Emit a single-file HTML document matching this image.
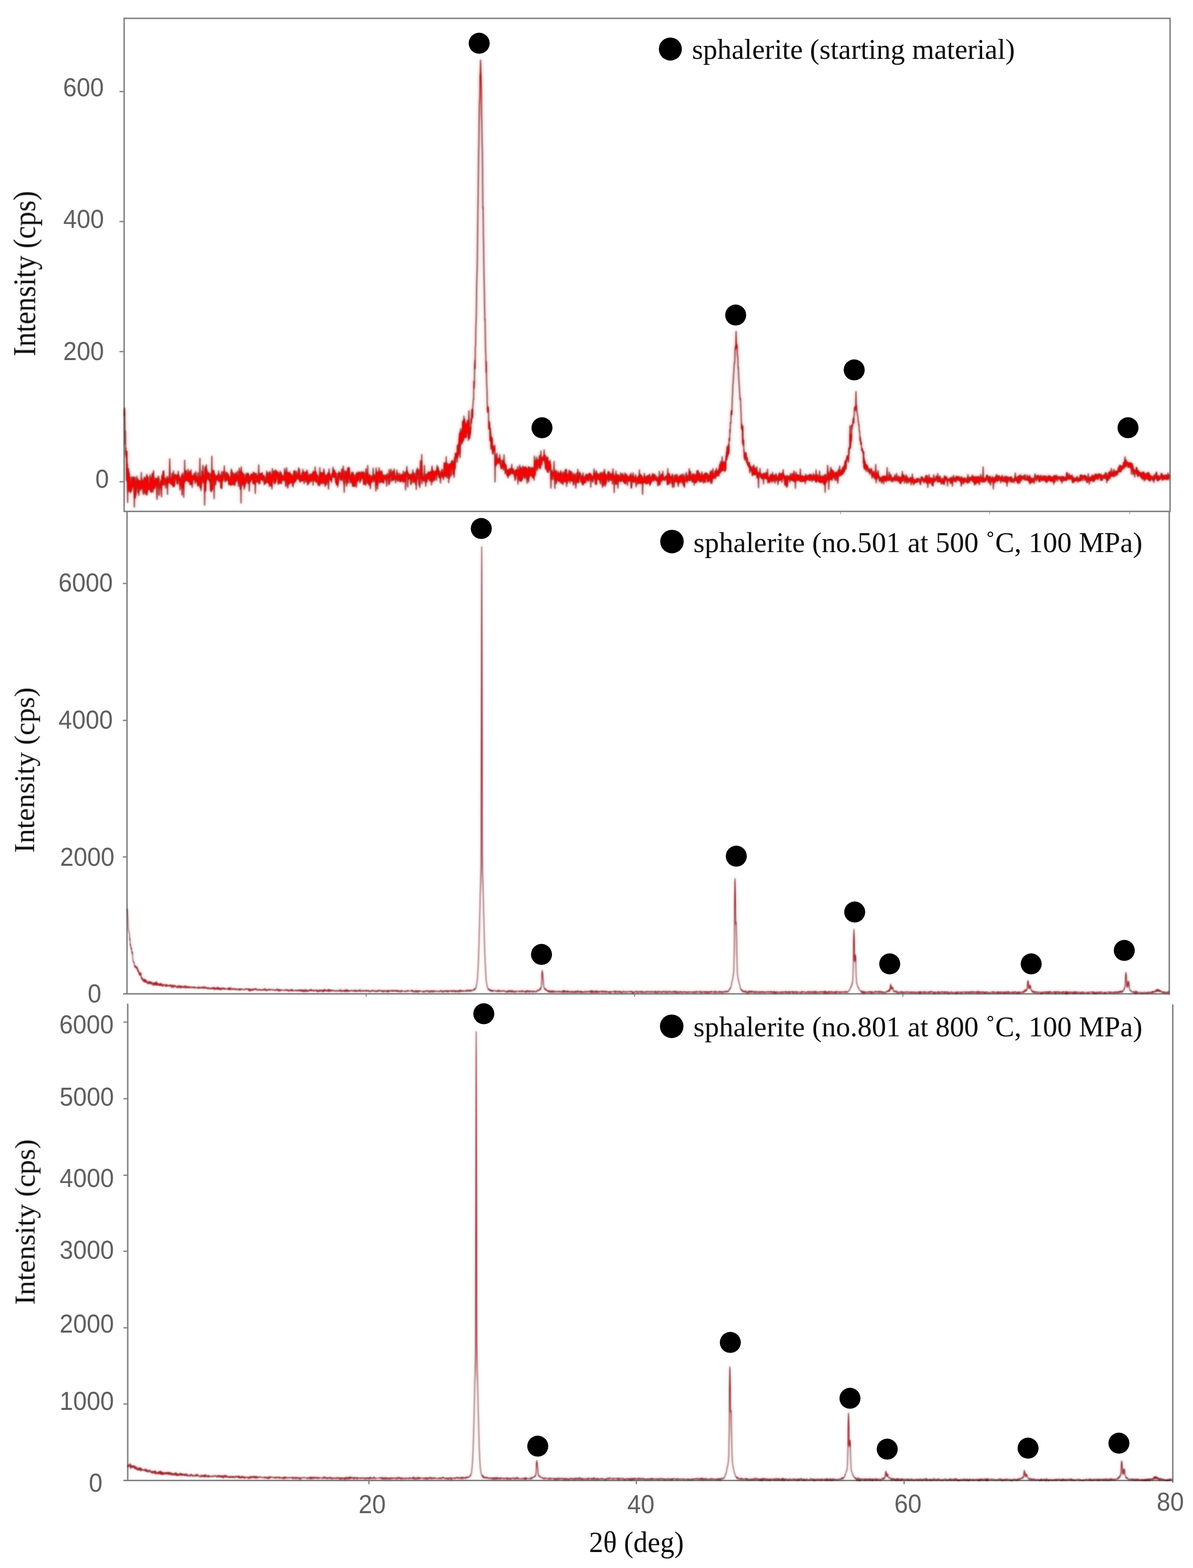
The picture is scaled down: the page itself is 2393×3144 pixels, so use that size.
<!DOCTYPE html>
<html lang="en">
<head>
<meta charset="utf-8">
<title>XRD patterns of sphalerite</title>
<style>
html,body{margin:0;padding:0;background:#fff;}
body{width:2393px;height:3144px;}
svg{display:block;}
</style>
</head>
<body>
<svg width="2393" height="3144" viewBox="0 0 2393 3144">
<defs><filter id="tr1" filterUnits="userSpaceOnUse" x="240" y="30" width="2120" height="1000" color-interpolation-filters="sRGB"><feGaussianBlur in="SourceAlpha" stdDeviation="1.0" result="la"/><feColorMatrix in="la" type="matrix" values="0 0 0 0 0.361  0 0 0 0 0.227  0 0 0 0 0.243  0 0 0 1 0" result="l"/><feGaussianBlur in="SourceAlpha" stdDeviation="2.2" result="ca"/><feColorMatrix in="ca" type="matrix" values="0 0 0 0 0.980  0 0 0 0 0.000  0 0 0 0 0.000  0 0 0 1.55 -0.5" result="c"/><feGaussianBlur in="SourceAlpha" stdDeviation="3.5200000000000005" result="ha"/><feColorMatrix in="ha" type="matrix" values="0 0 0 0 1.000  0 0 0 0 0.157  0 0 0 0 0.157  0 0 0 0.7 0" result="h"/><feMerge><feMergeNode in="h"/><feMergeNode in="l"/><feMergeNode in="c"/></feMerge></filter><filter id="tr2" filterUnits="userSpaceOnUse" x="245" y="1020" width="2110" height="980" color-interpolation-filters="sRGB"><feGaussianBlur in="SourceAlpha" stdDeviation="1.1" result="la"/><feColorMatrix in="la" type="matrix" values="0 0 0 0 0.424  0 0 0 0 0.306  0 0 0 0 0.322  0 0 0 1 0" result="l"/><feGaussianBlur in="SourceAlpha" stdDeviation="2.0" result="ca"/><feColorMatrix in="ca" type="matrix" values="0 0 0 0 0.725  0 0 0 0 0.110  0 0 0 0 0.149  0 0 0 2.0 -0.5" result="c"/><feGaussianBlur in="SourceAlpha" stdDeviation="3.2" result="ha"/><feColorMatrix in="ha" type="matrix" values="0 0 0 0 1.000  0 0 0 0 0.196  0 0 0 0 0.235  0 0 0 0.4 0" result="h"/><feMerge><feMergeNode in="h"/><feMergeNode in="l"/><feMergeNode in="c"/></feMerge></filter><filter id="tr3" filterUnits="userSpaceOnUse" x="245" y="2010" width="2115" height="965" color-interpolation-filters="sRGB"><feGaussianBlur in="SourceAlpha" stdDeviation="1.1" result="la"/><feColorMatrix in="la" type="matrix" values="0 0 0 0 0.424  0 0 0 0 0.306  0 0 0 0 0.322  0 0 0 1 0" result="l"/><feGaussianBlur in="SourceAlpha" stdDeviation="2.0" result="ca"/><feColorMatrix in="ca" type="matrix" values="0 0 0 0 0.698  0 0 0 0 0.110  0 0 0 0 0.149  0 0 0 2.0 -0.5" result="c"/><feGaussianBlur in="SourceAlpha" stdDeviation="3.2" result="ha"/><feColorMatrix in="ha" type="matrix" values="0 0 0 0 1.000  0 0 0 0 0.196  0 0 0 0 0.235  0 0 0 0.4 0" result="h"/><feMerge><feMergeNode in="h"/><feMergeNode in="l"/><feMergeNode in="c"/></feMerge></filter><filter id="bt" x="-5%" y="-5%" width="110%" height="110%"><feGaussianBlur stdDeviation="0.6"/></filter></defs>
<rect width="2393" height="3144" fill="#fff"/>
<g fill="none" stroke="#838383" stroke-width="3.0" filter="url(#bt)">
<rect x="249" y="36.8" width="2098" height="988.6"/>
<path d="M254.8,1025 V1992.7 M246.8,1992.7 H2345.4 M2345.4,1025 V1995"/>
<path d="M256.2,2012.6 V2968.6 M247.6,2968.6 H2352.4 M2352.4,2014 V2973"/>
</g>
<g stroke="#838383" stroke-width="2.6" filter="url(#bt)">
<path d="M239.5,183.6 H249"/>
<path d="M239.5,444.2 H249"/>
<path d="M239.5,705.0 H249"/>
<path d="M239.5,966.0 H249"/>
<path d="M246.3,1170.0 H254.8"/>
<path d="M246.3,1444.5 H254.8"/>
<path d="M246.3,1718.2 H254.8"/>
<path d="M247.6,2049.4 H256.2"/>
<path d="M247.6,2203.0 H256.2"/>
<path d="M247.6,2356.5 H256.2"/>
<path d="M247.6,2508.8 H256.2"/>
<path d="M247.6,2662.4 H256.2"/>
<path d="M247.6,2815.2 H256.2"/>
<path d="M734.6,1992.7 V1998.5" stroke-width="2"/>
<path d="M1272.9,1992.7 V1998.5" stroke-width="2"/>
<path d="M1811.0,1992.7 V1998.5" stroke-width="2"/>
<path d="M1686.0,1026.5 V1031" stroke-width="2" stroke="#b4b4b4"/>
<path d="M1985.0,1026.5 V1031" stroke-width="2" stroke="#b4b4b4"/>
<path d="M2266.0,1026.5 V1031" stroke-width="2" stroke="#b4b4b4"/>
<path d="M740.0,2968.6 V2976"/>
<path d="M1276.5,2968.6 V2976"/>
<path d="M1813.5,2968.6 V2976"/>
</g>
<path d="M249.5,833.6 250.0,818.5 250.5,837.6 251.0,890.9 251.5,864.0 252.0,911.7 252.5,897.2 253.0,917.6 253.5,908.4 254.0,963.8 254.5,904.7 255.0,939.8 255.5,929.9 256.0,1007.6 256.5,954.4 257.0,943.1 257.5,939.8 258.0,958.0 258.5,984.9 259.0,948.1 259.5,971.8 260.0,981.0 260.5,956.6 261.0,971.3 261.5,988.1 262.0,974.7 262.5,970.9 263.0,980.7 263.5,985.0 264.0,966.1 264.5,955.7 265.0,970.3 265.5,977.1 266.0,963.3 266.5,959.4 267.0,972.5 267.5,962.2 268.0,956.3 268.5,972.0 269.0,979.7 269.5,1016.7 270.0,967.1 270.5,956.8 271.0,986.2 271.5,998.4 272.0,981.0 272.5,992.1 273.0,969.6 273.5,964.9 274.0,980.3 274.5,954.8 275.0,961.8 275.5,964.3 276.0,967.1 276.5,960.6 277.0,988.0 277.5,964.9 278.0,965.2 278.5,993.4 279.0,968.4 279.5,975.6 280.0,963.5 280.5,978.0 281.0,973.1 281.5,968.9 282.0,983.2 282.5,966.1 283.0,974.4 283.5,947.1 284.0,979.3 284.5,960.7 285.0,966.4 285.5,975.4 286.0,966.2 286.5,975.4 287.0,988.6 287.5,991.5 288.0,963.4 288.5,968.2 289.0,974.6 289.5,956.5 290.0,959.3 290.5,987.8 291.0,967.1 291.5,958.9 292.0,991.4 292.5,976.8 293.0,988.1 293.5,970.7 294.0,956.5 294.5,950.8 295.0,993.0 295.5,979.6 296.0,965.4 296.5,955.7 297.0,968.4 297.5,981.2 298.0,969.6 298.5,973.0 299.0,975.0 299.5,980.7 300.0,968.4 300.5,969.1 301.0,952.3 301.5,974.7 302.0,986.1 302.5,977.4 303.0,959.0 303.5,973.9 304.0,987.3 304.5,957.3 305.0,965.9 305.5,948.9 306.0,970.6 306.5,976.1 307.0,986.5 307.5,956.8 308.0,943.5 308.5,979.4 309.0,977.4 309.5,964.1 310.0,979.0 310.5,972.9 311.0,973.6 311.5,967.8 312.0,958.2 312.5,969.3 313.0,959.8 313.5,973.6 314.0,965.7 314.5,991.2 315.0,1001.4 315.5,960.4 316.0,974.6 316.5,962.3 317.0,962.6 317.5,954.4 318.0,959.5 318.5,957.3 319.0,993.5 319.5,974.6 320.0,974.8 320.5,972.1 321.0,978.5 321.5,972.4 322.0,967.6 322.5,964.0 323.0,969.8 323.5,985.8 324.0,996.1 324.5,963.7 325.0,952.9 325.5,959.9 326.0,972.0 326.5,970.8 327.0,945.1 327.5,957.6 328.0,946.7 328.5,943.6 329.0,972.9 329.5,960.8 330.0,960.0 330.5,958.8 331.0,958.9 331.5,962.2 332.0,962.3 332.5,978.8 333.0,965.5 333.5,971.1 334.0,962.4 334.5,968.1 335.0,957.3 335.5,955.2 336.0,991.2 336.5,960.0 337.0,962.1 337.5,967.3 338.0,964.4 338.5,967.5 339.0,958.8 339.5,962.4 340.0,943.7 340.5,919.9 341.0,953.7 341.5,969.6 342.0,969.2 342.5,964.0 343.0,967.4 343.5,959.1 344.0,967.4 344.5,972.1 345.0,969.8 345.5,949.0 346.0,961.2 346.5,972.7 347.0,967.4 347.5,976.3 348.0,944.3 348.5,975.8 349.0,956.7 349.5,956.0 350.0,974.9 350.5,958.2 351.0,951.6 351.5,956.6 352.0,958.5 352.5,951.9 353.0,959.4 353.5,957.7 354.0,962.0 354.5,954.8 355.0,969.6 355.5,953.2 356.0,965.4 356.5,970.9 357.0,957.2 357.5,944.7 358.0,951.5 358.5,961.4 359.0,954.0 359.5,964.7 360.0,961.6 360.5,959.6 361.0,982.0 361.5,958.6 362.0,969.9 362.5,966.8 363.0,974.0 363.5,974.3 364.0,969.0 364.5,952.6 365.0,992.3 365.5,960.4 366.0,950.1 366.5,949.0 367.0,977.9 367.5,958.7 368.0,956.0 368.5,997.3 369.0,957.3 369.5,954.7 370.0,968.1 370.5,922.8 371.0,962.1 371.5,962.0 372.0,963.3 372.5,950.8 373.0,943.9 373.5,963.9 374.0,953.5 374.5,951.2 375.0,953.3 375.5,950.2 376.0,963.6 376.5,953.0 377.0,941.0 377.5,952.4 378.0,965.7 378.5,954.2 379.0,948.1 379.5,956.5 380.0,965.1 380.5,945.5 381.0,971.5 381.5,955.2 382.0,960.0 382.5,970.9 383.0,941.9 383.5,956.6 384.0,970.6 384.5,954.3 385.0,963.8 385.5,977.4 386.0,966.2 386.5,957.4 387.0,953.9 387.5,958.3 388.0,959.4 388.5,955.5 389.0,961.7 389.5,948.9 390.0,958.4 390.5,957.1 391.0,954.8 391.5,969.5 392.0,966.3 392.5,945.7 393.0,956.7 393.5,962.3 394.0,956.6 394.5,964.1 395.0,957.2 395.5,965.8 396.0,957.2 396.5,974.1 397.0,947.6 397.5,964.4 398.0,974.1 398.5,961.7 399.0,963.1 399.5,958.3 400.0,970.1 400.5,956.1 401.0,919.0 401.5,977.9 402.0,956.6 402.5,962.5 403.0,983.7 403.5,976.1 404.0,970.1 404.5,955.5 405.0,960.0 405.5,944.9 406.0,944.6 406.5,958.1 407.0,933.3 407.5,966.5 408.0,967.8 408.5,959.9 409.0,960.0 409.5,952.0 410.0,958.4 410.5,1012.9 411.0,957.7 411.5,935.9 412.0,948.2 412.5,984.5 413.0,960.9 413.5,967.4 414.0,931.8 414.5,961.1 415.0,942.3 415.5,951.2 416.0,951.6 416.5,957.9 417.0,959.9 417.5,956.5 418.0,948.0 418.5,954.8 419.0,962.7 419.5,948.2 420.0,962.2 420.5,960.2 421.0,966.6 421.5,964.5 422.0,965.2 422.5,984.3 423.0,950.5 423.5,954.5 424.0,986.1 424.5,975.1 425.0,914.6 425.5,956.2 426.0,981.4 426.5,961.5 427.0,954.8 427.5,945.2 428.0,943.2 428.5,946.8 429.0,943.7 429.5,999.9 430.0,954.4 430.5,958.1 431.0,950.9 431.5,960.5 432.0,957.5 432.5,972.6 433.0,955.5 433.5,963.3 434.0,956.3 434.5,955.4 435.0,960.4 435.5,956.6 436.0,959.5 436.5,952.7 437.0,955.0 437.5,964.2 438.0,964.5 438.5,944.1 439.0,960.3 439.5,950.7 440.0,955.9 440.5,964.3 441.0,965.9 441.5,958.3 442.0,957.1 442.5,954.0 443.0,978.7 443.5,964.5 444.0,960.2 444.5,945.4 445.0,979.9 445.5,955.5 446.0,964.0 446.5,955.5 447.0,963.6 447.5,956.1 448.0,945.7 448.5,956.2 449.0,955.5 449.5,956.0 450.0,934.0 450.5,954.6 451.0,961.1 451.5,966.3 452.0,959.6 452.5,961.2 453.0,952.7 453.5,948.4 454.0,963.8 454.5,946.6 455.0,950.7 455.5,948.2 456.0,954.0 456.5,960.2 457.0,962.8 457.5,961.6 458.0,951.0 458.5,958.2 459.0,972.0 459.5,959.5 460.0,971.4 460.5,957.8 461.0,969.6 461.5,970.1 462.0,958.2 462.5,959.9 463.0,973.5 463.5,952.7 464.0,940.5 464.5,971.9 465.0,943.5 465.5,965.1 466.0,963.4 466.5,960.7 467.0,971.6 467.5,948.0 468.0,954.9 468.5,965.6 469.0,961.5 469.5,972.1 470.0,962.1 470.5,951.1 471.0,973.8 471.5,962.8 472.0,957.8 472.5,950.1 473.0,947.5 473.5,963.0 474.0,965.4 474.5,955.2 475.0,962.2 475.5,961.7 476.0,955.2 476.5,944.6 477.0,956.8 477.5,960.7 478.0,958.3 478.5,975.2 479.0,959.2 479.5,968.1 480.0,938.6 480.5,952.9 481.0,957.8 481.5,960.7 482.0,980.5 482.5,952.9 483.0,945.1 483.5,1008.7 484.0,936.1 484.5,952.8 485.0,972.2 485.5,951.0 486.0,947.4 486.5,957.0 487.0,959.5 487.5,952.3 488.0,972.1 488.5,958.2 489.0,950.0 489.5,969.5 490.0,981.0 490.5,962.5 491.0,976.6 491.5,959.8 492.0,967.2 492.5,956.2 493.0,968.9 493.5,950.0 494.0,965.2 494.5,955.9 495.0,963.9 495.5,961.6 496.0,948.8 496.5,957.1 497.0,962.2 497.5,969.5 498.0,949.0 498.5,952.7 499.0,961.6 499.5,956.8 500.0,984.7 500.5,967.4 501.0,965.8 501.5,955.9 502.0,956.3 502.5,965.1 503.0,952.6 503.5,952.2 504.0,957.4 504.5,950.0 505.0,961.2 505.5,959.8 506.0,954.8 506.5,959.1 507.0,952.1 507.5,969.4 508.0,946.8 508.5,965.4 509.0,960.2 509.5,970.4 510.0,953.7 510.5,948.0 511.0,949.7 511.5,951.7 512.0,989.5 512.5,965.3 513.0,965.4 513.5,966.6 514.0,949.3 514.5,957.2 515.0,958.9 515.5,954.6 516.0,956.9 516.5,966.4 517.0,966.1 517.5,954.5 518.0,955.8 518.5,953.8 519.0,932.3 519.5,970.1 520.0,963.4 520.5,957.4 521.0,970.0 521.5,963.1 522.0,950.2 522.5,949.4 523.0,949.6 523.5,958.3 524.0,960.4 524.5,949.6 525.0,961.8 525.5,955.8 526.0,947.5 526.5,961.7 527.0,963.7 527.5,958.7 528.0,953.6 528.5,954.6 529.0,957.3 529.5,953.9 530.0,972.0 530.5,965.8 531.0,957.2 531.5,966.4 532.0,969.8 532.5,968.7 533.0,966.3 533.5,960.1 534.0,967.1 534.5,956.6 535.0,944.4 535.5,959.8 536.0,947.9 536.5,956.1 537.0,967.9 537.5,960.7 538.0,966.7 538.5,952.1 539.0,968.2 539.5,947.5 540.0,953.7 540.5,975.4 541.0,951.9 541.5,945.5 542.0,965.1 542.5,950.3 543.0,973.5 543.5,956.4 544.0,972.3 544.5,954.4 545.0,973.4 545.5,980.4 546.0,955.2 546.5,939.4 547.0,963.4 547.5,951.5 548.0,957.5 548.5,961.1 549.0,953.3 549.5,944.7 550.0,968.7 550.5,953.7 551.0,955.5 551.5,970.3 552.0,945.0 552.5,942.2 553.0,966.3 553.5,943.9 554.0,957.9 554.5,959.7 555.0,945.9 555.5,956.5 556.0,955.7 556.5,945.7 557.0,947.6 557.5,950.9 558.0,970.0 558.5,971.4 559.0,949.0 559.5,966.0 560.0,957.1 560.5,967.3 561.0,959.8 561.5,968.9 562.0,944.8 562.5,966.8 563.0,959.3 563.5,959.9 564.0,948.3 564.5,970.1 565.0,958.6 565.5,960.0 566.0,953.9 566.5,954.3 567.0,962.1 567.5,956.3 568.0,961.4 568.5,954.6 569.0,959.1 569.5,963.7 570.0,958.5 570.5,955.2 571.0,939.4 571.5,962.3 572.0,955.7 572.5,946.1 573.0,975.4 573.5,972.7 574.0,968.1 574.5,959.1 575.0,938.0 575.5,954.9 576.0,948.2 576.5,960.0 577.0,978.6 577.5,977.3 578.0,948.3 578.5,956.6 579.0,968.9 579.5,948.9 580.0,970.9 580.5,948.7 581.0,946.1 581.5,964.5 582.0,967.3 582.5,951.1 583.0,967.2 583.5,951.0 584.0,968.0 584.5,951.4 585.0,957.3 585.5,961.7 586.0,965.5 586.5,956.1 587.0,973.7 587.5,960.4 588.0,976.4 588.5,952.4 589.0,968.4 589.5,943.9 590.0,960.6 590.5,967.5 591.0,946.6 591.5,944.3 592.0,959.6 592.5,965.4 593.0,957.9 593.5,963.7 594.0,960.6 594.5,945.1 595.0,954.8 595.5,956.8 596.0,955.1 596.5,958.5 597.0,951.0 597.5,950.7 598.0,961.0 598.5,957.1 599.0,938.0 599.5,954.5 600.0,959.5 600.5,941.0 601.0,957.9 601.5,967.0 602.0,952.4 602.5,965.4 603.0,962.1 603.5,955.3 604.0,959.0 604.5,964.2 605.0,962.5 605.5,962.8 606.0,948.3 606.5,963.9 607.0,962.7 607.5,941.1 608.0,962.5 608.5,945.7 609.0,947.1 609.5,959.2 610.0,969.7 610.5,954.2 611.0,952.4 611.5,950.0 612.0,957.4 612.5,948.0 613.0,946.5 613.5,966.6 614.0,946.2 614.5,956.5 615.0,962.6 615.5,960.6 616.0,942.5 616.5,949.8 617.0,972.7 617.5,957.3 618.0,959.1 618.5,959.4 619.0,962.2 619.5,970.0 620.0,950.8 620.5,965.7 621.0,961.0 621.5,962.9 622.0,963.9 622.5,951.8 623.0,954.8 623.5,963.5 624.0,965.7 624.5,961.8 625.0,950.0 625.5,956.9 626.0,956.0 626.5,960.7 627.0,960.1 627.5,948.5 628.0,973.1 628.5,944.7 629.0,964.4 629.5,962.6 630.0,946.9 630.5,956.1 631.0,957.6 631.5,962.7 632.0,936.2 632.5,956.4 633.0,953.6 633.5,965.4 634.0,946.7 634.5,967.2 635.0,964.0 635.5,953.8 636.0,957.9 636.5,952.3 637.0,964.0 637.5,966.4 638.0,973.3 638.5,967.8 639.0,966.8 639.5,969.7 640.0,955.4 640.5,963.4 641.0,974.3 641.5,937.5 642.0,964.8 642.5,968.3 643.0,947.7 643.5,948.4 644.0,967.4 644.5,970.1 645.0,966.2 645.5,948.6 646.0,960.5 646.5,964.6 647.0,958.2 647.5,948.0 648.0,969.4 648.5,961.1 649.0,969.3 649.5,940.1 650.0,943.0 650.5,950.1 651.0,959.0 651.5,952.5 652.0,975.2 652.5,955.7 653.0,968.9 653.5,968.8 654.0,963.7 654.5,971.9 655.0,953.2 655.5,952.2 656.0,955.8 656.5,965.7 657.0,952.4 657.5,958.9 658.0,948.2 658.5,965.5 659.0,980.6 659.5,961.8 660.0,940.2 660.5,954.1 661.0,959.5 661.5,950.7 662.0,953.8 662.5,954.1 663.0,962.1 663.5,957.3 664.0,956.3 664.5,963.2 665.0,967.1 665.5,956.8 666.0,950.0 666.5,952.6 667.0,953.8 667.5,953.8 668.0,936.7 668.5,955.8 669.0,949.3 669.5,941.8 670.0,957.5 670.5,955.7 671.0,949.3 671.5,944.0 672.0,955.3 672.5,954.9 673.0,957.1 673.5,967.8 674.0,948.7 674.5,960.0 675.0,972.0 675.5,959.1 676.0,972.1 676.5,966.1 677.0,957.7 677.5,976.6 678.0,949.1 678.5,969.9 679.0,955.7 679.5,953.2 680.0,945.8 680.5,950.2 681.0,955.9 681.5,957.1 682.0,958.3 682.5,948.4 683.0,963.2 683.5,953.5 684.0,958.6 684.5,955.8 685.0,959.9 685.5,940.2 686.0,963.2 686.5,955.7 687.0,955.5 687.5,951.3 688.0,954.1 688.5,934.3 689.0,949.7 689.5,970.1 690.0,957.7 690.5,987.2 691.0,955.8 691.5,967.5 692.0,944.0 692.5,958.2 693.0,946.3 693.5,953.0 694.0,955.3 694.5,946.2 695.0,965.5 695.5,974.9 696.0,961.2 696.5,960.0 697.0,947.6 697.5,939.0 698.0,968.6 698.5,937.3 699.0,944.8 699.5,950.8 700.0,954.7 700.5,937.8 701.0,957.0 701.5,961.6 702.0,956.5 702.5,968.9 703.0,953.8 703.5,958.6 704.0,955.0 704.5,954.7 705.0,966.4 705.5,946.9 706.0,966.0 706.5,950.4 707.0,970.8 707.5,975.0 708.0,946.7 708.5,957.3 709.0,963.0 709.5,975.6 710.0,966.8 710.5,957.1 711.0,952.5 711.5,969.7 712.0,974.8 712.5,964.8 713.0,959.4 713.5,962.8 714.0,964.3 714.5,950.6 715.0,976.9 715.5,951.5 716.0,947.3 716.5,957.0 717.0,959.2 717.5,965.0 718.0,950.3 718.5,956.9 719.0,961.6 719.5,945.9 720.0,951.3 720.5,950.5 721.0,947.7 721.5,951.7 722.0,968.0 722.5,960.8 723.0,949.3 723.5,963.9 724.0,957.3 724.5,954.3 725.0,945.7 725.5,946.9 726.0,950.2 726.5,959.1 727.0,950.0 727.5,953.2 728.0,958.9 728.5,946.4 729.0,953.5 729.5,971.9 730.0,947.1 730.5,951.2 731.0,952.6 731.5,970.1 732.0,957.7 732.5,965.3 733.0,965.5 733.5,973.3 734.0,939.9 734.5,958.8 735.0,955.6 735.5,948.4 736.0,958.5 736.5,953.3 737.0,968.7 737.5,933.2 738.0,960.9 738.5,953.4 739.0,956.0 739.5,968.9 740.0,972.8 740.5,965.9 741.0,951.4 741.5,954.0 742.0,954.2 742.5,974.1 743.0,979.7 743.5,962.6 744.0,960.2 744.5,962.5 745.0,954.5 745.5,958.9 746.0,967.3 746.5,964.7 747.0,956.3 747.5,956.9 748.0,958.1 748.5,938.7 749.0,960.7 749.5,956.5 750.0,965.7 750.5,960.4 751.0,953.1 751.5,952.8 752.0,958.7 752.5,954.2 753.0,957.0 753.5,973.0 754.0,984.5 754.5,938.3 755.0,950.6 755.5,957.9 756.0,971.8 756.5,968.0 757.0,946.2 757.5,980.4 758.0,960.1 758.5,950.2 759.0,956.2 759.5,951.1 760.0,958.5 760.5,937.6 761.0,965.9 761.5,968.6 762.0,955.1 762.5,945.5 763.0,957.8 763.5,948.6 764.0,961.7 764.5,967.1 765.0,945.7 765.5,944.3 766.0,944.6 766.5,960.9 767.0,966.8 767.5,967.0 768.0,959.1 768.5,952.4 769.0,953.0 769.5,969.1 770.0,955.6 770.5,957.1 771.0,956.5 771.5,957.4 772.0,958.9 772.5,952.3 773.0,956.1 773.5,955.3 774.0,962.9 774.5,953.9 775.0,958.2 775.5,974.7 776.0,953.1 776.5,959.3 777.0,949.4 777.5,958.5 778.0,957.9 778.5,955.3 779.0,957.2 779.5,960.8 780.0,972.0 780.5,941.7 781.0,970.2 781.5,965.3 782.0,951.6 782.5,953.9 783.0,952.3 783.5,950.6 784.0,940.8 784.5,954.5 785.0,947.1 785.5,965.4 786.0,955.1 786.5,960.0 787.0,961.5 787.5,954.5 788.0,944.8 788.5,962.8 789.0,962.8 789.5,950.8 790.0,952.3 790.5,940.5 791.0,948.3 791.5,954.9 792.0,960.7 792.5,955.0 793.0,958.3 793.5,968.2 794.0,956.7 794.5,958.2 795.0,958.7 795.5,960.3 796.0,942.6 796.5,950.9 797.0,948.9 797.5,961.8 798.0,965.2 798.5,959.0 799.0,954.6 799.5,959.5 800.0,958.2 800.5,948.6 801.0,954.1 801.5,964.8 802.0,960.2 802.5,962.1 803.0,955.0 803.5,966.3 804.0,958.0 804.5,950.7 805.0,956.3 805.5,964.1 806.0,961.6 806.5,955.4 807.0,952.4 807.5,957.1 808.0,957.6 808.5,967.5 809.0,944.4 809.5,953.9 810.0,952.9 810.5,953.8 811.0,965.0 811.5,959.0 812.0,954.1 812.5,947.4 813.0,955.7 813.5,982.5 814.0,958.2 814.5,953.2 815.0,945.3 815.5,950.2 816.0,935.2 816.5,944.1 817.0,944.7 817.5,948.1 818.0,976.5 818.5,948.9 819.0,951.0 819.5,960.5 820.0,951.0 820.5,952.4 821.0,959.9 821.5,957.0 822.0,958.1 822.5,953.9 823.0,959.5 823.5,951.2 824.0,972.1 824.5,958.2 825.0,970.1 825.5,959.8 826.0,951.4 826.5,955.5 827.0,956.6 827.5,955.1 828.0,942.3 828.5,965.0 829.0,948.1 829.5,968.4 830.0,959.5 830.5,954.1 831.0,962.7 831.5,953.7 832.0,949.2 832.5,965.6 833.0,956.0 833.5,958.6 834.0,971.9 834.5,956.9 835.0,981.5 835.5,943.8 836.0,962.7 836.5,940.7 837.0,959.7 837.5,938.6 838.0,950.5 838.5,951.2 839.0,948.2 839.5,947.3 840.0,943.0 840.5,972.5 841.0,957.9 841.5,965.6 842.0,977.8 842.5,958.1 843.0,948.3 843.5,923.6 844.0,953.7 844.5,957.7 845.0,960.1 845.5,957.0 846.0,911.2 846.5,969.7 847.0,948.2 847.5,961.0 848.0,955.8 848.5,959.9 849.0,957.5 849.5,963.3 850.0,964.2 850.5,956.2 851.0,963.6 851.5,932.9 852.0,957.7 852.5,959.8 853.0,958.8 853.5,963.3 854.0,975.3 854.5,956.1 855.0,951.2 855.5,966.9 856.0,953.7 856.5,964.3 857.0,954.0 857.5,950.5 858.0,949.4 858.5,949.7 859.0,959.6 859.5,945.8 860.0,957.3 860.5,950.3 861.0,947.1 861.5,955.9 862.0,964.4 862.5,947.7 863.0,962.8 863.5,960.8 864.0,962.6 864.5,945.5 865.0,954.2 865.5,972.5 866.0,946.2 866.5,934.4 867.0,936.7 867.5,966.4 868.0,951.7 868.5,947.9 869.0,944.4 869.5,951.9 870.0,961.8 870.5,945.4 871.0,946.5 871.5,963.7 872.0,955.1 872.5,949.4 873.0,951.7 873.5,946.9 874.0,944.4 874.5,946.6 875.0,952.4 875.5,963.3 876.0,945.7 876.5,938.6 877.0,933.3 877.5,951.2 878.0,951.1 878.5,937.7 879.0,937.7 879.5,947.4 880.0,944.0 880.5,957.2 881.0,944.9 881.5,957.5 882.0,951.3 882.5,951.0 883.0,954.0 883.5,968.8 884.0,957.0 884.5,946.4 885.0,949.8 885.5,952.7 886.0,945.1 886.5,942.6 887.0,941.0 887.5,956.0 888.0,948.2 888.5,951.4 889.0,956.2 889.5,961.7 890.0,948.7 890.5,955.7 891.0,927.6 891.5,948.2 892.0,949.2 892.5,950.6 893.0,929.3 893.5,955.3 894.0,947.8 894.5,953.2 895.0,915.6 895.5,945.9 896.0,935.0 896.5,958.3 897.0,945.0 897.5,929.2 898.0,949.0 898.5,945.5 899.0,951.9 899.5,934.4 900.0,968.1 900.5,931.0 901.0,946.3 901.5,959.1 902.0,938.3 902.5,939.6 903.0,930.1 903.5,930.3 904.0,941.2 904.5,933.9 905.0,954.9 905.5,925.4 906.0,933.8 906.5,923.9 907.0,923.2 907.5,935.8 908.0,933.4 908.5,939.8 909.0,951.0 909.5,930.0 910.0,925.8 910.5,937.4 911.0,957.3 911.5,922.3 912.0,917.0 912.5,940.9 913.0,937.7 913.5,908.7 914.0,908.8 914.5,914.9 915.0,916.5 915.5,913.1 916.0,909.6 916.5,911.9 917.0,926.9 917.5,893.2 918.0,917.2 918.5,901.9 919.0,899.5 919.5,890.8 920.0,910.7 920.5,889.3 921.0,879.8 921.5,876.3 922.0,868.3 922.5,891.1 923.0,917.5 923.5,873.6 924.0,859.8 924.5,886.2 925.0,879.1 925.5,872.0 926.0,865.9 926.5,890.6 927.0,875.2 927.5,886.8 928.0,845.1 928.5,872.2 929.0,843.7 929.5,862.6 930.0,883.4 930.5,834.1 931.0,874.0 931.5,853.9 932.0,840.1 932.5,868.4 933.0,877.3 933.5,848.9 934.0,861.3 934.5,877.8 935.0,876.2 935.5,867.8 936.0,851.0 936.5,866.9 937.0,855.3 937.5,842.9 938.0,847.7 938.5,845.6 939.0,848.0 939.5,883.3 940.0,847.5 940.5,823.6 941.0,863.2 941.5,874.4 942.0,879.8 942.5,872.5 943.0,857.3 943.5,870.3 944.0,858.7 944.5,859.0 945.0,839.9 945.5,849.3 946.0,844.0 946.5,820.9 947.0,838.3 947.5,821.2 948.0,838.1 948.5,813.3 949.0,809.3 949.5,800.9 950.0,801.4 950.5,764.6 951.0,779.3 951.5,770.2 952.0,734.9 952.5,722.3 953.0,739.1 953.5,693.3 954.0,692.0 954.5,656.1 955.0,644.8 955.5,628.2 956.0,582.7 956.5,558.9 957.0,542.6 957.5,516.6 958.0,471.8 958.5,431.8 959.0,399.7 959.5,354.3 960.0,309.9 960.5,291.5 961.0,241.3 961.5,209.7 962.0,201.5 962.5,192.4 963.0,152.1 963.5,146.3 964.0,120.5 964.5,144.2 965.0,164.7 965.5,176.2 966.0,228.9 966.5,246.9 967.0,284.6 967.5,301.1 968.0,348.6 968.5,417.9 969.0,414.7 969.5,469.8 970.0,489.4 970.5,532.3 971.0,557.0 971.5,582.8 972.0,613.2 972.5,641.4 973.0,639.8 973.5,677.7 974.0,704.0 974.5,710.8 975.0,746.2 975.5,725.3 976.0,763.6 976.5,774.1 977.0,785.8 977.5,813.6 978.0,826.4 978.5,816.0 979.0,822.9 979.5,816.1 980.0,834.3 980.5,860.0 981.0,844.8 981.5,846.1 982.0,848.6 982.5,861.1 983.0,884.0 983.5,858.8 984.0,866.6 984.5,872.5 985.0,900.8 985.5,876.1 986.0,896.7 986.5,877.5 987.0,879.7 987.5,881.2 988.0,909.8 988.5,909.1 989.0,910.1 989.5,894.8 990.0,900.0 990.5,903.6 991.0,903.5 991.5,902.0 992.0,902.7 992.5,892.8 993.0,966.2 993.5,911.4 994.0,934.5 994.5,929.8 995.0,924.2 995.5,932.6 996.0,916.6 996.5,909.0 997.0,925.3 997.5,926.7 998.0,926.7 998.5,922.0 999.0,929.7 999.5,920.6 1000.0,922.6 1000.5,922.9 1001.0,919.4 1001.5,927.4 1002.0,926.9 1002.5,911.4 1003.0,930.1 1003.5,922.3 1004.0,930.2 1004.5,935.8 1005.0,936.3 1005.5,940.4 1006.0,932.7 1006.5,939.2 1007.0,937.9 1007.5,922.4 1008.0,936.0 1008.5,924.1 1009.0,933.0 1009.5,927.7 1010.0,942.2 1010.5,935.3 1011.0,912.0 1011.5,929.6 1012.0,928.3 1012.5,936.0 1013.0,930.4 1013.5,949.9 1014.0,947.2 1014.5,935.5 1015.0,932.1 1015.5,944.0 1016.0,942.2 1016.5,944.1 1017.0,952.8 1017.5,952.4 1018.0,954.8 1018.5,942.5 1019.0,958.1 1019.5,951.3 1020.0,948.6 1020.5,952.5 1021.0,940.8 1021.5,947.3 1022.0,944.2 1022.5,952.9 1023.0,950.7 1023.5,939.5 1024.0,941.0 1024.5,948.8 1025.0,941.4 1025.5,943.2 1026.0,943.7 1026.5,930.9 1027.0,949.1 1027.5,941.9 1028.0,942.0 1028.5,948.1 1029.0,950.3 1029.5,940.1 1030.0,944.1 1030.5,946.2 1031.0,946.6 1031.5,946.7 1032.0,955.0 1032.5,944.6 1033.0,963.3 1033.5,947.7 1034.0,960.8 1034.5,950.8 1035.0,941.5 1035.5,950.3 1036.0,952.3 1036.5,943.7 1037.0,950.7 1037.5,952.0 1038.0,952.0 1038.5,935.4 1039.0,970.7 1039.5,944.6 1040.0,959.3 1040.5,943.6 1041.0,960.4 1041.5,945.0 1042.0,959.0 1042.5,932.4 1043.0,964.0 1043.5,938.9 1044.0,942.6 1044.5,965.0 1045.0,951.8 1045.5,937.3 1046.0,940.0 1046.5,964.2 1047.0,954.4 1047.5,960.1 1048.0,958.8 1048.5,955.6 1049.0,934.2 1049.5,948.9 1050.0,952.1 1050.5,953.0 1051.0,944.4 1051.5,937.2 1052.0,958.1 1052.5,937.6 1053.0,959.5 1053.5,952.6 1054.0,946.3 1054.5,935.5 1055.0,953.1 1055.5,947.7 1056.0,938.9 1056.5,944.7 1057.0,969.1 1057.5,941.0 1058.0,961.7 1058.5,944.4 1059.0,941.8 1059.5,949.8 1060.0,935.7 1060.5,966.5 1061.0,957.2 1061.5,936.6 1062.0,945.2 1062.5,954.3 1063.0,945.2 1063.5,938.9 1064.0,952.9 1064.5,941.1 1065.0,948.6 1065.5,948.2 1066.0,947.5 1066.5,936.8 1067.0,956.1 1067.5,949.1 1068.0,939.5 1068.5,955.8 1069.0,958.6 1069.5,938.9 1070.0,943.5 1070.5,944.2 1071.0,941.0 1071.5,962.9 1072.0,914.4 1072.5,949.4 1073.0,943.6 1073.5,952.9 1074.0,942.0 1074.5,923.1 1075.0,936.3 1075.5,930.0 1076.0,939.3 1076.5,916.6 1077.0,931.3 1077.5,943.9 1078.0,923.5 1078.5,933.5 1079.0,923.0 1079.5,926.6 1080.0,924.3 1080.5,924.6 1081.0,933.9 1081.5,938.9 1082.0,913.3 1082.5,923.4 1083.0,918.4 1083.5,925.1 1084.0,940.1 1084.5,931.9 1085.0,904.2 1085.5,925.8 1086.0,921.2 1086.5,931.9 1087.0,922.1 1087.5,920.4 1088.0,918.8 1088.5,917.4 1089.0,923.3 1089.5,923.0 1090.0,917.7 1090.5,914.8 1091.0,920.2 1091.5,901.9 1092.0,918.1 1092.5,919.4 1093.0,928.4 1093.5,912.6 1094.0,933.9 1094.5,940.7 1095.0,935.4 1095.5,920.9 1096.0,939.1 1096.5,916.6 1097.0,930.4 1097.5,945.7 1098.0,934.4 1098.5,916.5 1099.0,942.4 1099.5,947.6 1100.0,931.6 1100.5,925.2 1101.0,928.9 1101.5,942.1 1102.0,938.3 1102.5,937.9 1103.0,931.1 1103.5,923.3 1104.0,944.1 1104.5,932.4 1105.0,978.8 1105.5,954.7 1106.0,954.0 1106.5,953.1 1107.0,943.5 1107.5,955.3 1108.0,961.5 1108.5,953.3 1109.0,948.4 1109.5,950.2 1110.0,952.7 1110.5,949.2 1111.0,941.7 1111.5,925.3 1112.0,961.2 1112.5,949.2 1113.0,979.5 1113.5,959.7 1114.0,950.2 1114.5,944.8 1115.0,953.6 1115.5,943.1 1116.0,969.7 1116.5,951.6 1117.0,950.2 1117.5,961.6 1118.0,949.9 1118.5,951.4 1119.0,957.2 1119.5,944.9 1120.0,965.0 1120.5,949.7 1121.0,956.7 1121.5,963.3 1122.0,956.5 1122.5,958.0 1123.0,948.9 1123.5,967.1 1124.0,957.0 1124.5,959.1 1125.0,943.4 1125.5,964.5 1126.0,947.6 1126.5,969.6 1127.0,953.3 1127.5,957.1 1128.0,953.2 1128.5,961.6 1129.0,971.3 1129.5,968.3 1130.0,946.3 1130.5,954.8 1131.0,963.2 1131.5,949.7 1132.0,962.4 1132.5,962.4 1133.0,966.0 1133.5,947.8 1134.0,941.8 1134.5,964.3 1135.0,954.7 1135.5,949.5 1136.0,940.9 1136.5,975.4 1137.0,956.1 1137.5,952.3 1138.0,968.5 1138.5,954.2 1139.0,955.8 1139.5,951.9 1140.0,961.8 1140.5,954.3 1141.0,962.1 1141.5,942.7 1142.0,956.4 1142.5,960.4 1143.0,968.3 1143.5,945.3 1144.0,949.4 1144.5,951.1 1145.0,962.7 1145.5,960.4 1146.0,945.3 1146.5,952.3 1147.0,964.2 1147.5,957.5 1148.0,956.9 1148.5,959.4 1149.0,965.0 1149.5,948.6 1150.0,973.0 1150.5,959.5 1151.0,969.7 1151.5,962.4 1152.0,958.1 1152.5,951.6 1153.0,960.8 1153.5,949.9 1154.0,957.1 1154.5,963.7 1155.0,978.8 1155.5,966.9 1156.0,969.2 1156.5,959.3 1157.0,955.8 1157.5,948.0 1158.0,958.3 1158.5,966.8 1159.0,941.0 1159.5,956.0 1160.0,960.2 1160.5,960.2 1161.0,968.2 1161.5,953.7 1162.0,955.6 1162.5,946.7 1163.0,950.3 1163.5,952.0 1164.0,949.2 1164.5,960.5 1165.0,961.7 1165.5,958.8 1166.0,967.5 1166.5,959.5 1167.0,960.9 1167.5,953.6 1168.0,958.6 1168.5,972.4 1169.0,958.3 1169.5,948.2 1170.0,971.8 1170.5,964.0 1171.0,958.4 1171.5,968.1 1172.0,962.5 1172.5,958.1 1173.0,968.1 1173.5,956.4 1174.0,955.6 1174.5,967.7 1175.0,958.4 1175.5,950.8 1176.0,959.9 1176.5,955.5 1177.0,954.0 1177.5,960.3 1178.0,951.5 1178.5,955.9 1179.0,965.7 1179.5,954.9 1180.0,952.4 1180.5,952.9 1181.0,963.3 1181.5,955.3 1182.0,948.8 1182.5,957.0 1183.0,950.2 1183.5,949.4 1184.0,958.9 1184.5,953.9 1185.0,977.0 1185.5,951.0 1186.0,959.3 1186.5,962.6 1187.0,958.9 1187.5,959.2 1188.0,956.0 1188.5,955.4 1189.0,967.0 1189.5,963.3 1190.0,956.2 1190.5,955.3 1191.0,958.1 1191.5,940.1 1192.0,950.8 1192.5,959.3 1193.0,953.6 1193.5,949.3 1194.0,956.1 1194.5,971.1 1195.0,958.0 1195.5,958.4 1196.0,943.7 1196.5,971.7 1197.0,947.8 1197.5,959.8 1198.0,952.1 1198.5,960.8 1199.0,957.5 1199.5,950.7 1200.0,958.1 1200.5,951.3 1201.0,959.3 1201.5,961.6 1202.0,960.3 1202.5,962.3 1203.0,959.6 1203.5,949.2 1204.0,967.0 1204.5,970.4 1205.0,958.9 1205.5,947.0 1206.0,951.5 1206.5,949.6 1207.0,950.1 1207.5,963.9 1208.0,958.0 1208.5,977.4 1209.0,963.1 1209.5,954.6 1210.0,946.5 1210.5,973.2 1211.0,967.9 1211.5,957.4 1212.0,950.8 1212.5,940.9 1213.0,948.9 1213.5,969.4 1214.0,975.0 1214.5,957.8 1215.0,951.5 1215.5,970.1 1216.0,962.5 1216.5,962.0 1217.0,958.6 1217.5,960.1 1218.0,955.3 1218.5,951.5 1219.0,958.4 1219.5,953.7 1220.0,945.1 1220.5,965.9 1221.0,966.1 1221.5,955.3 1222.0,946.1 1222.5,957.7 1223.0,951.3 1223.5,961.0 1224.0,952.6 1224.5,963.2 1225.0,954.2 1225.5,956.1 1226.0,956.1 1226.5,949.4 1227.0,951.5 1227.5,962.9 1228.0,952.8 1228.5,970.5 1229.0,952.1 1229.5,940.0 1230.0,955.2 1230.5,955.3 1231.0,958.4 1231.5,953.1 1232.0,987.8 1232.5,954.2 1233.0,960.6 1233.5,961.7 1234.0,957.9 1234.5,959.2 1235.0,970.6 1235.5,944.6 1236.0,957.8 1236.5,970.3 1237.0,951.4 1237.5,959.0 1238.0,953.2 1238.5,954.0 1239.0,964.9 1239.5,978.8 1240.0,959.5 1240.5,957.2 1241.0,952.0 1241.5,964.0 1242.0,960.7 1242.5,956.2 1243.0,961.0 1243.5,960.6 1244.0,957.2 1244.5,965.6 1245.0,948.2 1245.5,965.2 1246.0,958.7 1246.5,961.2 1247.0,963.7 1247.5,955.4 1248.0,952.2 1248.5,949.2 1249.0,955.1 1249.5,962.0 1250.0,953.2 1250.5,966.4 1251.0,958.7 1251.5,955.6 1252.0,955.3 1252.5,966.8 1253.0,969.2 1253.5,948.0 1254.0,962.6 1254.5,970.2 1255.0,967.5 1255.5,959.1 1256.0,951.4 1256.5,959.3 1257.0,951.3 1257.5,957.8 1258.0,956.2 1258.5,973.2 1259.0,961.9 1259.5,957.4 1260.0,962.0 1260.5,963.7 1261.0,955.1 1261.5,956.7 1262.0,958.9 1262.5,964.8 1263.0,960.1 1263.5,963.0 1264.0,952.3 1264.5,959.0 1265.0,959.1 1265.5,948.7 1266.0,978.9 1266.5,967.1 1267.0,977.9 1267.5,954.6 1268.0,956.9 1268.5,955.5 1269.0,958.0 1269.5,965.6 1270.0,948.3 1270.5,957.9 1271.0,961.6 1271.5,967.3 1272.0,957.2 1272.5,963.2 1273.0,963.0 1273.5,958.6 1274.0,958.6 1274.5,965.5 1275.0,951.8 1275.5,966.7 1276.0,976.1 1276.5,958.1 1277.0,959.3 1277.5,959.7 1278.0,962.9 1278.5,959.9 1279.0,963.9 1279.5,971.0 1280.0,955.4 1280.5,966.9 1281.0,961.7 1281.5,955.4 1282.0,960.1 1282.5,942.3 1283.0,969.4 1283.5,965.2 1284.0,959.7 1284.5,951.4 1285.0,961.9 1285.5,969.7 1286.0,952.9 1286.5,966.4 1287.0,961.7 1287.5,954.6 1288.0,964.8 1288.5,963.3 1289.0,991.2 1289.5,961.7 1290.0,958.5 1290.5,966.6 1291.0,961.2 1291.5,967.6 1292.0,966.9 1292.5,949.0 1293.0,957.5 1293.5,954.5 1294.0,966.8 1294.5,960.7 1295.0,961.9 1295.5,969.8 1296.0,957.0 1296.5,965.2 1297.0,961.9 1297.5,970.4 1298.0,954.1 1298.5,955.6 1299.0,958.0 1299.5,968.8 1300.0,960.7 1300.5,952.7 1301.0,962.4 1301.5,958.9 1302.0,959.7 1302.5,967.8 1303.0,950.7 1303.5,973.4 1304.0,959.1 1304.5,961.1 1305.0,971.0 1305.5,958.4 1306.0,957.2 1306.5,960.2 1307.0,965.9 1307.5,957.7 1308.0,953.4 1308.5,959.1 1309.0,949.5 1309.5,962.4 1310.0,955.6 1310.5,951.6 1311.0,964.8 1311.5,963.9 1312.0,957.2 1312.5,957.2 1313.0,950.8 1313.5,953.2 1314.0,959.4 1314.5,959.1 1315.0,962.3 1315.5,962.9 1316.0,963.4 1316.5,954.7 1317.0,963.5 1317.5,962.8 1318.0,959.4 1318.5,963.7 1319.0,961.9 1319.5,974.4 1320.0,958.0 1320.5,962.4 1321.0,959.2 1321.5,958.0 1322.0,972.2 1322.5,945.0 1323.0,959.2 1323.5,959.1 1324.0,971.5 1324.5,956.1 1325.0,957.4 1325.5,962.2 1326.0,958.3 1326.5,951.6 1327.0,961.9 1327.5,965.5 1328.0,951.2 1328.5,957.9 1329.0,960.7 1329.5,944.9 1330.0,958.5 1330.5,960.6 1331.0,957.8 1331.5,962.1 1332.0,958.2 1332.5,958.6 1333.0,963.7 1333.5,961.2 1334.0,957.6 1334.5,957.1 1335.0,955.9 1335.5,954.6 1336.0,958.0 1336.5,956.3 1337.0,962.0 1337.5,961.2 1338.0,953.0 1338.5,972.1 1339.0,957.3 1339.5,939.6 1340.0,971.4 1340.5,950.2 1341.0,970.8 1341.5,957.4 1342.0,949.5 1342.5,950.4 1343.0,965.5 1343.5,968.1 1344.0,968.9 1344.5,955.3 1345.0,962.4 1345.5,959.9 1346.0,958.3 1346.5,957.3 1347.0,956.6 1347.5,959.2 1348.0,970.1 1348.5,950.8 1349.0,977.3 1349.5,952.2 1350.0,963.8 1350.5,961.2 1351.0,963.2 1351.5,962.3 1352.0,976.6 1352.5,961.7 1353.0,966.9 1353.5,954.6 1354.0,963.6 1354.5,951.5 1355.0,960.9 1355.5,964.4 1356.0,957.2 1356.5,954.3 1357.0,965.7 1357.5,961.7 1358.0,950.9 1358.5,966.1 1359.0,965.2 1359.5,958.8 1360.0,967.5 1360.5,975.3 1361.0,970.3 1361.5,957.5 1362.0,955.7 1362.5,958.0 1363.0,957.3 1363.5,967.5 1364.0,955.5 1364.5,952.5 1365.0,964.1 1365.5,953.8 1366.0,962.0 1366.5,958.5 1367.0,957.4 1367.5,969.0 1368.0,950.4 1368.5,965.0 1369.0,960.2 1369.5,962.7 1370.0,956.7 1370.5,956.8 1371.0,974.0 1371.5,950.7 1372.0,957.7 1372.5,962.0 1373.0,977.5 1373.5,961.2 1374.0,961.3 1374.5,964.9 1375.0,964.8 1375.5,955.7 1376.0,952.8 1376.5,947.5 1377.0,952.2 1377.5,963.8 1378.0,957.7 1378.5,967.8 1379.0,954.7 1379.5,957.0 1380.0,963.0 1380.5,959.9 1381.0,960.7 1381.5,963.2 1382.0,950.9 1382.5,939.6 1383.0,953.9 1383.5,952.4 1384.0,964.1 1384.5,961.2 1385.0,945.2 1385.5,961.3 1386.0,956.5 1386.5,959.7 1387.0,955.2 1387.5,959.2 1388.0,955.1 1388.5,966.8 1389.0,959.4 1389.5,950.2 1390.0,965.2 1390.5,962.9 1391.0,950.1 1391.5,956.1 1392.0,951.9 1392.5,972.7 1393.0,957.6 1393.5,966.5 1394.0,967.2 1394.5,955.9 1395.0,951.0 1395.5,967.8 1396.0,965.3 1396.5,962.0 1397.0,959.1 1397.5,966.7 1398.0,944.0 1398.5,954.5 1399.0,960.4 1399.5,961.4 1400.0,943.4 1400.5,943.9 1401.0,961.1 1401.5,955.8 1402.0,949.9 1402.5,965.4 1403.0,961.6 1403.5,949.2 1404.0,962.2 1404.5,960.5 1405.0,966.2 1405.5,962.5 1406.0,953.2 1406.5,962.8 1407.0,965.8 1407.5,961.4 1408.0,946.1 1408.5,956.2 1409.0,960.9 1409.5,956.2 1410.0,954.3 1410.5,956.3 1411.0,968.6 1411.5,955.1 1412.0,958.3 1412.5,951.5 1413.0,965.5 1413.5,950.0 1414.0,959.8 1414.5,967.6 1415.0,948.0 1415.5,959.6 1416.0,954.0 1416.5,957.3 1417.0,949.1 1417.5,949.0 1418.0,948.8 1418.5,951.3 1419.0,966.3 1419.5,966.7 1420.0,954.4 1420.5,963.6 1421.0,952.4 1421.5,954.3 1422.0,964.5 1422.5,961.9 1423.0,962.4 1423.5,960.7 1424.0,956.1 1424.5,950.2 1425.0,945.7 1425.5,969.1 1426.0,957.9 1426.5,943.9 1427.0,948.0 1427.5,952.2 1428.0,969.2 1428.5,960.1 1429.0,952.3 1429.5,957.1 1430.0,939.7 1430.5,952.2 1431.0,950.7 1431.5,959.7 1432.0,959.2 1432.5,956.5 1433.0,956.0 1433.5,953.1 1434.0,948.8 1434.5,949.5 1435.0,944.1 1435.5,959.8 1436.0,948.9 1436.5,948.4 1437.0,939.0 1437.5,951.0 1438.0,947.0 1438.5,954.5 1439.0,945.6 1439.5,945.5 1440.0,952.2 1440.5,950.5 1441.0,947.3 1441.5,942.7 1442.0,954.3 1442.5,939.7 1443.0,947.8 1443.5,931.6 1444.0,934.2 1444.5,946.9 1445.0,947.9 1445.5,925.5 1446.0,937.9 1446.5,937.7 1447.0,944.2 1447.5,941.4 1448.0,934.0 1448.5,915.6 1449.0,944.4 1449.5,928.4 1450.0,934.4 1450.5,942.8 1451.0,927.5 1451.5,935.2 1452.0,926.9 1452.5,935.9 1453.0,927.8 1453.5,941.6 1454.0,945.8 1454.5,938.2 1455.0,923.7 1455.5,943.1 1456.0,922.2 1456.5,914.1 1457.0,914.0 1457.5,906.1 1458.0,922.1 1458.5,898.3 1459.0,895.2 1459.5,915.5 1460.0,909.3 1460.5,904.2 1461.0,896.1 1461.5,890.7 1462.0,909.7 1462.5,878.9 1463.0,881.8 1463.5,883.8 1464.0,860.9 1464.5,867.2 1465.0,847.7 1465.5,847.0 1466.0,848.5 1466.5,827.2 1467.0,823.3 1467.5,828.4 1468.0,831.5 1468.5,812.5 1469.0,795.4 1469.5,790.3 1470.0,771.5 1470.5,769.2 1471.0,760.0 1471.5,749.5 1472.0,746.4 1472.5,733.6 1473.0,727.6 1473.5,728.2 1474.0,718.1 1474.5,698.7 1475.0,699.7 1475.5,694.1 1476.0,698.6 1476.5,664.5 1477.0,686.2 1477.5,691.7 1478.0,698.3 1478.5,692.4 1479.0,706.6 1479.5,715.0 1480.0,715.2 1480.5,738.1 1481.0,735.7 1481.5,753.1 1482.0,761.0 1482.5,770.0 1483.0,775.6 1483.5,785.0 1484.0,793.2 1484.5,801.4 1485.0,798.2 1485.5,803.7 1486.0,821.3 1486.5,828.4 1487.0,846.2 1487.5,859.6 1488.0,850.4 1488.5,861.5 1489.0,859.8 1489.5,888.8 1490.0,854.4 1490.5,893.3 1491.0,886.4 1491.5,882.4 1492.0,906.0 1492.5,902.6 1493.0,917.8 1493.5,916.0 1494.0,922.8 1494.5,909.2 1495.0,910.2 1495.5,917.3 1496.0,907.3 1496.5,908.4 1497.0,921.0 1497.5,924.4 1498.0,926.4 1498.5,929.3 1499.0,917.8 1499.5,927.0 1500.0,932.5 1500.5,932.9 1501.0,928.5 1501.5,936.3 1502.0,932.3 1502.5,935.7 1503.0,926.8 1503.5,931.7 1504.0,947.9 1504.5,939.9 1505.0,934.6 1505.5,943.3 1506.0,935.4 1506.5,939.3 1507.0,938.1 1507.5,943.2 1508.0,941.2 1508.5,940.3 1509.0,954.2 1509.5,950.9 1510.0,952.0 1510.5,934.6 1511.0,944.2 1511.5,944.1 1512.0,932.1 1512.5,950.7 1513.0,952.6 1513.5,942.6 1514.0,950.8 1514.5,938.6 1515.0,941.5 1515.5,948.8 1516.0,951.1 1516.5,950.4 1517.0,950.0 1517.5,940.9 1518.0,936.0 1518.5,958.3 1519.0,949.6 1519.5,947.0 1520.0,957.3 1520.5,955.8 1521.0,955.0 1521.5,977.9 1522.0,948.5 1522.5,953.0 1523.0,953.5 1523.5,952.6 1524.0,951.7 1524.5,939.2 1525.0,952.5 1525.5,948.6 1526.0,957.0 1526.5,951.9 1527.0,956.1 1527.5,955.2 1528.0,959.9 1528.5,959.5 1529.0,952.0 1529.5,950.4 1530.0,952.2 1530.5,959.1 1531.0,953.3 1531.5,970.4 1532.0,949.8 1532.5,955.7 1533.0,954.0 1533.5,948.8 1534.0,958.3 1534.5,950.2 1535.0,958.6 1535.5,952.9 1536.0,958.6 1536.5,954.5 1537.0,947.8 1537.5,960.2 1538.0,960.0 1538.5,958.5 1539.0,954.9 1539.5,940.7 1540.0,960.1 1540.5,968.7 1541.0,960.7 1541.5,966.1 1542.0,960.3 1542.5,957.0 1543.0,962.7 1543.5,961.1 1544.0,968.0 1544.5,956.3 1545.0,961.7 1545.5,951.2 1546.0,951.5 1546.5,962.5 1547.0,959.7 1547.5,957.4 1548.0,953.4 1548.5,967.2 1549.0,958.2 1549.5,947.3 1550.0,958.4 1550.5,956.7 1551.0,958.0 1551.5,964.7 1552.0,952.7 1552.5,956.6 1553.0,957.2 1553.5,954.1 1554.0,953.8 1554.5,968.9 1555.0,955.6 1555.5,961.6 1556.0,957.5 1556.5,949.5 1557.0,963.2 1557.5,953.1 1558.0,958.5 1558.5,960.1 1559.0,960.1 1559.5,958.1 1560.0,958.7 1560.5,971.7 1561.0,963.5 1561.5,960.0 1562.0,954.5 1562.5,951.2 1563.0,963.9 1563.5,948.0 1564.0,958.2 1564.5,956.1 1565.0,961.7 1565.5,962.1 1566.0,950.9 1566.5,960.0 1567.0,959.4 1567.5,952.5 1568.0,949.4 1568.5,967.1 1569.0,959.9 1569.5,959.0 1570.0,949.0 1570.5,948.3 1571.0,941.6 1571.5,956.9 1572.0,954.3 1572.5,952.7 1573.0,960.7 1573.5,954.3 1574.0,962.8 1574.5,973.5 1575.0,966.5 1575.5,957.9 1576.0,954.8 1576.5,971.3 1577.0,968.8 1577.5,959.2 1578.0,977.3 1578.5,956.1 1579.0,953.5 1579.5,975.2 1580.0,955.0 1580.5,960.1 1581.0,958.0 1581.5,957.6 1582.0,960.4 1582.5,958.5 1583.0,954.1 1583.5,958.1 1584.0,958.9 1584.5,966.8 1585.0,956.5 1585.5,959.0 1586.0,949.3 1586.5,959.2 1587.0,959.6 1587.5,962.5 1588.0,955.3 1588.5,960.2 1589.0,962.9 1589.5,950.6 1590.0,949.7 1590.5,961.6 1591.0,964.6 1591.5,953.2 1592.0,963.6 1592.5,944.2 1593.0,959.9 1593.5,954.1 1594.0,966.1 1594.5,959.4 1595.0,953.4 1595.5,979.3 1596.0,962.0 1596.5,946.2 1597.0,955.3 1597.5,960.4 1598.0,962.4 1598.5,960.6 1599.0,952.0 1599.5,963.3 1600.0,959.0 1600.5,963.5 1601.0,952.6 1601.5,960.1 1602.0,954.7 1602.5,956.2 1603.0,962.3 1603.5,955.5 1604.0,954.3 1604.5,965.3 1605.0,955.5 1605.5,940.4 1606.0,960.8 1606.5,955.8 1607.0,966.3 1607.5,956.8 1608.0,962.3 1608.5,955.2 1609.0,959.5 1609.5,965.4 1610.0,953.4 1610.5,960.3 1611.0,964.6 1611.5,958.9 1612.0,964.3 1612.5,957.1 1613.0,959.5 1613.5,961.1 1614.0,955.7 1614.5,965.9 1615.0,954.1 1615.5,969.7 1616.0,950.7 1616.5,958.2 1617.0,960.6 1617.5,963.0 1618.0,956.3 1618.5,960.0 1619.0,960.1 1619.5,953.7 1620.0,961.4 1620.5,960.4 1621.0,956.8 1621.5,953.5 1622.0,959.9 1622.5,958.2 1623.0,963.1 1623.5,955.2 1624.0,951.2 1624.5,964.0 1625.0,959.7 1625.5,959.3 1626.0,955.9 1626.5,951.1 1627.0,959.1 1627.5,957.9 1628.0,953.0 1628.5,965.5 1629.0,963.0 1629.5,961.3 1630.0,959.0 1630.5,957.7 1631.0,961.6 1631.5,949.7 1632.0,962.6 1632.5,959.9 1633.0,953.1 1633.5,954.8 1634.0,958.9 1634.5,956.8 1635.0,954.5 1635.5,965.4 1636.0,955.3 1636.5,963.6 1637.0,942.3 1637.5,967.4 1638.0,963.4 1638.5,964.7 1639.0,952.1 1639.5,961.1 1640.0,957.0 1640.5,963.5 1641.0,959.7 1641.5,960.0 1642.0,963.1 1642.5,954.0 1643.0,967.3 1643.5,955.2 1644.0,944.4 1644.5,962.8 1645.0,958.2 1645.5,966.7 1646.0,958.5 1646.5,967.6 1647.0,955.0 1647.5,960.9 1648.0,968.1 1648.5,965.2 1649.0,966.7 1649.5,959.8 1650.0,953.7 1650.5,960.3 1651.0,964.4 1651.5,962.6 1652.0,957.5 1652.5,971.1 1653.0,954.9 1653.5,955.9 1654.0,971.1 1654.5,951.6 1655.0,987.1 1655.5,959.1 1656.0,951.5 1656.5,966.6 1657.0,967.7 1657.5,963.8 1658.0,963.5 1658.5,958.4 1659.0,960.4 1659.5,960.2 1660.0,932.9 1660.5,943.3 1661.0,962.0 1661.5,955.5 1662.0,957.2 1662.5,981.3 1663.0,947.2 1663.5,963.9 1664.0,952.9 1664.5,960.9 1665.0,954.7 1665.5,953.8 1666.0,951.8 1666.5,936.8 1667.0,960.9 1667.5,940.5 1668.0,953.8 1668.5,960.4 1669.0,963.3 1669.5,942.8 1670.0,946.5 1670.5,955.5 1671.0,951.1 1671.5,947.9 1672.0,944.6 1672.5,957.2 1673.0,954.9 1673.5,949.9 1674.0,954.3 1674.5,961.1 1675.0,949.9 1675.5,963.6 1676.0,957.9 1676.5,946.6 1677.0,952.0 1677.5,951.8 1678.0,952.4 1678.5,946.9 1679.0,952.8 1679.5,963.4 1680.0,950.7 1680.5,969.3 1681.0,963.3 1681.5,942.3 1682.0,945.1 1682.5,953.4 1683.0,950.9 1683.5,949.7 1684.0,934.4 1684.5,954.0 1685.0,954.3 1685.5,952.5 1686.0,947.6 1686.5,946.5 1687.0,949.9 1687.5,942.6 1688.0,952.7 1688.5,946.6 1689.0,949.8 1689.5,951.1 1690.0,937.2 1690.5,945.9 1691.0,949.4 1691.5,942.4 1692.0,948.0 1692.5,937.5 1693.0,935.1 1693.5,933.1 1694.0,945.1 1694.5,938.5 1695.0,925.0 1695.5,936.8 1696.0,926.3 1696.5,923.3 1697.0,940.6 1697.5,922.5 1698.0,923.9 1698.5,921.5 1699.0,914.4 1699.5,920.7 1700.0,921.4 1700.5,915.8 1701.0,920.1 1701.5,912.1 1702.0,927.0 1702.5,898.5 1703.0,911.6 1703.5,901.2 1704.0,899.8 1704.5,898.2 1705.0,853.7 1705.5,891.7 1706.0,898.4 1706.5,889.0 1707.0,871.9 1707.5,884.7 1708.0,880.9 1708.5,851.9 1709.0,860.1 1709.5,854.3 1710.0,855.4 1710.5,849.9 1711.0,843.6 1711.5,840.0 1712.0,838.1 1712.5,848.4 1713.0,832.7 1713.5,832.2 1714.0,817.4 1714.5,822.4 1715.0,819.4 1715.5,816.1 1716.0,816.2 1716.5,813.9 1717.0,785.0 1717.5,823.1 1718.0,812.1 1718.5,823.6 1719.0,825.3 1719.5,829.6 1720.0,832.1 1720.5,833.8 1721.0,835.2 1721.5,846.1 1722.0,845.5 1722.5,853.5 1723.0,851.3 1723.5,864.4 1724.0,864.2 1724.5,866.5 1725.0,883.4 1725.5,876.4 1726.0,880.2 1726.5,891.1 1727.0,890.6 1727.5,885.5 1728.0,894.3 1728.5,902.3 1729.0,904.0 1729.5,902.4 1730.0,899.6 1730.5,905.6 1731.0,908.6 1731.5,905.5 1732.0,928.5 1732.5,905.8 1733.0,937.2 1733.5,918.9 1734.0,940.8 1734.5,928.1 1735.0,924.6 1735.5,939.6 1736.0,936.4 1736.5,935.2 1737.0,930.4 1737.5,945.3 1738.0,935.2 1738.5,934.0 1739.0,938.3 1739.5,939.1 1740.0,933.5 1740.5,940.4 1741.0,942.6 1741.5,945.2 1742.0,940.1 1742.5,946.2 1743.0,941.4 1743.5,945.2 1744.0,939.9 1744.5,951.3 1745.0,946.9 1745.5,945.8 1746.0,945.9 1746.5,942.4 1747.0,946.9 1747.5,944.5 1748.0,939.0 1748.5,945.6 1749.0,956.4 1749.5,958.7 1750.0,947.5 1750.5,953.6 1751.0,950.2 1751.5,953.0 1752.0,945.3 1752.5,946.1 1753.0,955.8 1753.5,951.6 1754.0,954.9 1754.5,960.5 1755.0,950.3 1755.5,954.7 1756.0,951.8 1756.5,931.3 1757.0,947.5 1757.5,968.2 1758.0,957.0 1758.5,961.2 1759.0,948.7 1759.5,957.0 1760.0,955.3 1760.5,957.6 1761.0,955.3 1761.5,943.5 1762.0,957.7 1762.5,957.7 1763.0,955.3 1763.5,955.0 1764.0,962.8 1764.5,965.8 1765.0,959.8 1765.5,958.0 1766.0,961.1 1766.5,962.3 1767.0,962.1 1767.5,959.4 1768.0,958.1 1768.5,968.7 1769.0,960.5 1769.5,956.0 1770.0,958.5 1770.5,964.8 1771.0,959.9 1771.5,958.3 1772.0,954.4 1772.5,970.0 1773.0,955.0 1773.5,960.8 1774.0,957.5 1774.5,955.2 1775.0,963.0 1775.5,962.8 1776.0,959.4 1776.5,955.3 1777.0,961.6 1777.5,966.0 1778.0,962.5 1778.5,957.8 1779.0,953.5 1779.5,937.4 1780.0,960.9 1780.5,960.3 1781.0,960.1 1781.5,964.1 1782.0,961.7 1782.5,958.5 1783.0,959.1 1783.5,959.6 1784.0,946.8 1784.5,962.4 1785.0,963.3 1785.5,954.8 1786.0,952.9 1786.5,958.3 1787.0,952.3 1787.5,961.4 1788.0,961.4 1788.5,966.3 1789.0,959.0 1789.5,962.3 1790.0,959.7 1790.5,957.9 1791.0,961.4 1791.5,965.6 1792.0,960.5 1792.5,960.7 1793.0,960.2 1793.5,957.2 1794.0,961.4 1794.5,961.7 1795.0,952.3 1795.5,955.4 1796.0,960.9 1796.5,964.9 1797.0,962.7 1797.5,958.8 1798.0,956.6 1798.5,949.3 1799.0,961.8 1799.5,959.9 1800.0,962.3 1800.5,960.3 1801.0,962.5 1801.5,965.7 1802.0,956.0 1802.5,960.2 1803.0,954.8 1803.5,963.1 1804.0,959.6 1804.5,957.8 1805.0,969.5 1805.5,967.0 1806.0,957.4 1806.5,960.4 1807.0,969.4 1807.5,964.3 1808.0,965.8 1808.5,963.2 1809.0,953.8 1809.5,963.6 1810.0,945.1 1810.5,962.1 1811.0,964.4 1811.5,953.8 1812.0,956.6 1812.5,954.7 1813.0,952.1 1813.5,956.1 1814.0,955.4 1814.5,968.9 1815.0,964.8 1815.5,959.0 1816.0,960.1 1816.5,957.8 1817.0,963.3 1817.5,956.0 1818.0,951.9 1818.5,958.4 1819.0,969.4 1819.5,958.8 1820.0,956.9 1820.5,960.1 1821.0,963.4 1821.5,960.2 1822.0,960.6 1822.5,968.1 1823.0,960.1 1823.5,961.0 1824.0,960.2 1824.5,963.7 1825.0,959.0 1825.5,958.4 1826.0,964.4 1826.5,959.8 1827.0,957.7 1827.5,972.2 1828.0,965.5 1828.5,965.9 1829.0,961.2 1829.5,966.1 1830.0,950.1 1830.5,965.1 1831.0,965.0 1831.5,958.5 1832.0,963.6 1832.5,972.1 1833.0,962.2 1833.5,966.0 1834.0,964.0 1834.5,968.9 1835.0,965.7 1835.5,962.4 1836.0,962.1 1836.5,966.8 1837.0,965.0 1837.5,965.6 1838.0,961.2 1838.5,962.5 1839.0,967.5 1839.5,959.0 1840.0,965.1 1840.5,960.2 1841.0,966.1 1841.5,960.7 1842.0,962.5 1842.5,961.8 1843.0,959.8 1843.5,960.1 1844.0,961.3 1844.5,961.3 1845.0,967.7 1845.5,962.4 1846.0,971.8 1846.5,972.1 1847.0,963.5 1847.5,963.1 1848.0,955.5 1848.5,959.2 1849.0,957.2 1849.5,963.5 1850.0,960.2 1850.5,957.0 1851.0,959.8 1851.5,960.5 1852.0,961.7 1852.5,966.2 1853.0,966.1 1853.5,968.4 1854.0,960.3 1854.5,963.3 1855.0,965.1 1855.5,960.5 1856.0,964.6 1856.5,957.5 1857.0,953.7 1857.5,960.1 1858.0,955.9 1858.5,968.7 1859.0,953.2 1859.5,960.1 1860.0,967.3 1860.5,957.4 1861.0,977.4 1861.5,964.1 1862.0,963.2 1862.5,963.7 1863.0,967.2 1863.5,951.6 1864.0,963.9 1864.5,960.5 1865.0,962.0 1865.5,969.2 1866.0,964.6 1866.5,961.2 1867.0,958.1 1867.5,963.7 1868.0,960.6 1868.5,963.7 1869.0,959.6 1869.5,973.1 1870.0,959.5 1870.5,964.9 1871.0,964.7 1871.5,974.7 1872.0,966.9 1872.5,959.5 1873.0,952.0 1873.5,965.3 1874.0,965.1 1874.5,960.1 1875.0,960.9 1875.5,964.8 1876.0,963.0 1876.5,963.9 1877.0,959.5 1877.5,958.7 1878.0,954.5 1878.5,958.2 1879.0,959.3 1879.5,961.5 1880.0,958.1 1880.5,966.5 1881.0,949.4 1881.5,961.0 1882.0,956.0 1882.5,965.7 1883.0,957.7 1883.5,960.5 1884.0,963.1 1884.5,965.2 1885.0,966.1 1885.5,954.4 1886.0,956.9 1886.5,961.8 1887.0,961.4 1887.5,965.4 1888.0,970.3 1888.5,970.1 1889.0,964.9 1889.5,963.0 1890.0,967.4 1890.5,958.8 1891.0,960.0 1891.5,961.6 1892.0,970.0 1892.5,963.2 1893.0,962.4 1893.5,967.8 1894.0,971.9 1894.5,953.9 1895.0,959.6 1895.5,964.0 1896.0,955.3 1896.5,957.5 1897.0,960.4 1897.5,961.3 1898.0,958.9 1898.5,956.0 1899.0,962.0 1899.5,963.4 1900.0,959.8 1900.5,974.6 1901.0,961.9 1901.5,964.1 1902.0,962.4 1902.5,963.1 1903.0,960.8 1903.5,961.8 1904.0,962.0 1904.5,962.8 1905.0,960.3 1905.5,964.4 1906.0,957.9 1906.5,969.5 1907.0,961.3 1907.5,960.2 1908.0,967.7 1908.5,964.0 1909.0,956.4 1909.5,962.7 1910.0,966.0 1910.5,975.1 1911.0,960.6 1911.5,961.7 1912.0,959.4 1912.5,953.2 1913.0,962.1 1913.5,961.5 1914.0,965.0 1914.5,959.9 1915.0,962.2 1915.5,958.7 1916.0,959.6 1916.5,965.3 1917.0,964.1 1917.5,956.0 1918.0,966.1 1918.5,958.7 1919.0,954.9 1919.5,959.1 1920.0,960.8 1920.5,956.0 1921.0,960.4 1921.5,961.9 1922.0,962.8 1922.5,956.9 1923.0,958.9 1923.5,955.2 1924.0,963.3 1924.5,963.2 1925.0,963.7 1925.5,960.6 1926.0,964.8 1926.5,957.8 1927.0,960.3 1927.5,966.0 1928.0,974.6 1928.5,969.6 1929.0,955.5 1929.5,962.0 1930.0,961.1 1930.5,963.5 1931.0,960.0 1931.5,970.0 1932.0,970.3 1932.5,966.8 1933.0,961.4 1933.5,958.6 1934.0,959.6 1934.5,962.2 1935.0,967.1 1935.5,958.2 1936.0,962.8 1936.5,961.7 1937.0,961.9 1937.5,963.6 1938.0,964.7 1938.5,964.1 1939.0,967.1 1939.5,960.4 1940.0,962.3 1940.5,957.1 1941.0,969.3 1941.5,951.5 1942.0,961.8 1942.5,962.1 1943.0,964.9 1943.5,964.9 1944.0,967.8 1944.5,957.5 1945.0,962.3 1945.5,958.3 1946.0,957.8 1946.5,963.5 1947.0,962.4 1947.5,962.8 1948.0,956.9 1948.5,960.7 1949.0,960.6 1949.5,958.2 1950.0,961.6 1950.5,952.5 1951.0,965.2 1951.5,955.9 1952.0,955.2 1952.5,966.1 1953.0,957.5 1953.5,960.0 1954.0,957.4 1954.5,970.3 1955.0,972.5 1955.5,965.3 1956.0,962.5 1956.5,955.0 1957.0,961.7 1957.5,970.7 1958.0,967.1 1958.5,965.9 1959.0,956.7 1959.5,964.0 1960.0,967.7 1960.5,956.2 1961.0,959.9 1961.5,959.5 1962.0,964.4 1962.5,954.9 1963.0,961.5 1963.5,969.4 1964.0,965.8 1964.5,972.0 1965.0,961.6 1965.5,957.6 1966.0,964.0 1966.5,963.4 1967.0,951.5 1967.5,960.5 1968.0,963.1 1968.5,960.7 1969.0,966.2 1969.5,958.5 1970.0,966.8 1970.5,963.3 1971.0,956.5 1971.5,962.0 1972.0,936.3 1972.5,963.9 1973.0,964.1 1973.5,967.1 1974.0,959.8 1974.5,961.9 1975.0,961.8 1975.5,965.5 1976.0,965.6 1976.5,963.3 1977.0,958.6 1977.5,959.3 1978.0,963.5 1978.5,959.3 1979.0,953.1 1979.5,960.1 1980.0,952.0 1980.5,958.7 1981.0,954.9 1981.5,962.8 1982.0,955.5 1982.5,965.5 1983.0,959.5 1983.5,961.9 1984.0,968.9 1984.5,966.3 1985.0,955.6 1985.5,958.3 1986.0,954.9 1986.5,959.6 1987.0,972.7 1987.5,959.3 1988.0,962.8 1988.5,962.5 1989.0,962.3 1989.5,963.6 1990.0,964.4 1990.5,955.1 1991.0,958.4 1991.5,963.1 1992.0,962.1 1992.5,980.4 1993.0,958.7 1993.5,959.4 1994.0,965.4 1994.5,962.1 1995.0,965.0 1995.5,968.3 1996.0,956.4 1996.5,961.6 1997.0,961.9 1997.5,964.2 1998.0,957.0 1998.5,951.3 1999.0,957.7 1999.5,956.2 2000.0,965.4 2000.5,959.4 2001.0,959.2 2001.5,953.8 2002.0,960.1 2002.5,964.1 2003.0,960.4 2003.5,962.0 2004.0,954.0 2004.5,957.3 2005.0,958.7 2005.5,959.4 2006.0,956.5 2006.5,962.2 2007.0,964.0 2007.5,968.1 2008.0,963.0 2008.5,958.0 2009.0,957.4 2009.5,959.9 2010.0,953.1 2010.5,964.3 2011.0,955.0 2011.5,963.7 2012.0,962.0 2012.5,965.3 2013.0,959.8 2013.5,961.4 2014.0,958.3 2014.5,962.6 2015.0,966.0 2015.5,957.7 2016.0,954.7 2016.5,957.0 2017.0,960.4 2017.5,958.4 2018.0,967.3 2018.5,961.6 2019.0,955.3 2019.5,958.2 2020.0,975.0 2020.5,956.5 2021.0,960.7 2021.5,957.1 2022.0,966.1 2022.5,962.4 2023.0,958.8 2023.5,958.9 2024.0,957.8 2024.5,960.2 2025.0,961.0 2025.5,958.2 2026.0,956.5 2026.5,966.5 2027.0,961.5 2027.5,961.0 2028.0,959.5 2028.5,955.9 2029.0,965.7 2029.5,957.9 2030.0,967.4 2030.5,963.3 2031.0,962.3 2031.5,961.3 2032.0,962.7 2032.5,962.3 2033.0,961.6 2033.5,961.3 2034.0,967.9 2034.5,966.0 2035.0,962.0 2035.5,957.9 2036.0,955.9 2036.5,948.2 2037.0,959.7 2037.5,963.4 2038.0,959.4 2038.5,957.3 2039.0,959.5 2039.5,964.6 2040.0,960.5 2040.5,960.3 2041.0,968.2 2041.5,965.2 2042.0,955.1 2042.5,969.4 2043.0,959.4 2043.5,961.2 2044.0,954.3 2044.5,955.4 2045.0,963.7 2045.5,969.0 2046.0,962.5 2046.5,951.8 2047.0,953.2 2047.5,960.4 2048.0,956.9 2048.5,959.3 2049.0,963.9 2049.5,955.6 2050.0,958.3 2050.5,956.5 2051.0,955.6 2051.5,954.2 2052.0,955.7 2052.5,960.4 2053.0,959.7 2053.5,958.3 2054.0,960.5 2054.5,961.0 2055.0,952.3 2055.5,958.0 2056.0,952.1 2056.5,963.2 2057.0,960.2 2057.5,961.8 2058.0,961.6 2058.5,961.2 2059.0,960.5 2059.5,961.8 2060.0,952.5 2060.5,957.2 2061.0,963.1 2061.5,962.3 2062.0,956.9 2062.5,957.7 2063.0,962.5 2063.5,956.2 2064.0,965.9 2064.5,962.0 2065.0,952.8 2065.5,970.8 2066.0,960.8 2066.5,955.9 2067.0,960.6 2067.5,963.2 2068.0,963.7 2068.5,968.6 2069.0,965.5 2069.5,959.7 2070.0,962.3 2070.5,960.0 2071.0,960.6 2071.5,958.8 2072.0,966.9 2072.5,961.2 2073.0,961.4 2073.5,961.3 2074.0,963.7 2074.5,969.1 2075.0,957.3 2075.5,956.6 2076.0,950.1 2076.5,956.9 2077.0,953.1 2077.5,957.5 2078.0,961.5 2078.5,957.9 2079.0,964.8 2079.5,958.9 2080.0,960.4 2080.5,953.4 2081.0,954.9 2081.5,955.3 2082.0,958.0 2082.5,956.5 2083.0,953.1 2083.5,960.5 2084.0,965.5 2084.5,963.9 2085.0,957.0 2085.5,959.0 2086.0,966.1 2086.5,954.4 2087.0,959.0 2087.5,953.2 2088.0,955.2 2088.5,961.7 2089.0,959.5 2089.5,962.9 2090.0,963.4 2090.5,961.1 2091.0,957.8 2091.5,954.2 2092.0,963.6 2092.5,956.9 2093.0,959.7 2093.5,960.8 2094.0,955.1 2094.5,961.3 2095.0,954.1 2095.5,961.2 2096.0,963.6 2096.5,956.6 2097.0,965.9 2097.5,964.7 2098.0,960.5 2098.5,953.9 2099.0,960.9 2099.5,968.0 2100.0,965.3 2100.5,957.6 2101.0,957.5 2101.5,963.9 2102.0,958.6 2102.5,958.9 2103.0,955.5 2103.5,962.8 2104.0,953.6 2104.5,961.0 2105.0,953.7 2105.5,955.8 2106.0,963.9 2106.5,961.0 2107.0,958.5 2107.5,955.4 2108.0,965.5 2108.5,961.8 2109.0,957.1 2109.5,957.7 2110.0,964.1 2110.5,963.4 2111.0,957.9 2111.5,963.9 2112.0,958.7 2112.5,955.8 2113.0,962.9 2113.5,970.9 2114.0,954.8 2114.5,954.8 2115.0,953.7 2115.5,962.2 2116.0,966.7 2116.5,953.7 2117.0,958.2 2117.5,955.7 2118.0,960.3 2118.5,960.6 2119.0,960.6 2119.5,952.9 2120.0,958.5 2120.5,960.5 2121.0,965.0 2121.5,957.6 2122.0,959.6 2122.5,958.9 2123.0,955.5 2123.5,956.6 2124.0,959.6 2124.5,958.7 2125.0,959.2 2125.5,956.6 2126.0,956.7 2126.5,959.0 2127.0,963.2 2127.5,956.0 2128.0,955.8 2128.5,964.0 2129.0,957.9 2129.5,961.2 2130.0,968.7 2130.5,959.7 2131.0,955.6 2131.5,962.6 2132.0,962.5 2132.5,955.3 2133.0,964.2 2133.5,963.5 2134.0,960.9 2134.5,956.9 2135.0,956.9 2135.5,961.8 2136.0,960.8 2136.5,959.2 2137.0,961.2 2137.5,963.2 2138.0,964.1 2138.5,956.5 2139.0,960.4 2139.5,947.5 2140.0,956.9 2140.5,962.7 2141.0,948.3 2141.5,958.1 2142.0,957.8 2142.5,957.6 2143.0,957.6 2143.5,960.1 2144.0,956.7 2144.5,950.3 2145.0,961.3 2145.5,961.1 2146.0,956.5 2146.5,954.2 2147.0,956.0 2147.5,954.3 2148.0,959.6 2148.5,960.4 2149.0,956.7 2149.5,956.6 2150.0,952.4 2150.5,952.8 2151.0,967.1 2151.5,956.1 2152.0,962.2 2152.5,968.3 2153.0,957.7 2153.5,960.1 2154.0,960.9 2154.5,964.8 2155.0,963.7 2155.5,960.3 2156.0,965.7 2156.5,959.8 2157.0,958.9 2157.5,960.0 2158.0,958.1 2158.5,959.6 2159.0,964.3 2159.5,963.7 2160.0,958.8 2160.5,955.2 2161.0,958.7 2161.5,961.4 2162.0,958.6 2162.5,967.0 2163.0,963.5 2163.5,960.9 2164.0,959.6 2164.5,960.7 2165.0,960.4 2165.5,964.3 2166.0,961.7 2166.5,958.2 2167.0,952.1 2167.5,964.3 2168.0,960.7 2168.5,952.9 2169.0,956.3 2169.5,952.6 2170.0,953.5 2170.5,961.1 2171.0,959.5 2171.5,964.2 2172.0,954.2 2172.5,956.0 2173.0,956.6 2173.5,956.3 2174.0,957.2 2174.5,958.2 2175.0,952.5 2175.5,953.9 2176.0,962.4 2176.5,963.5 2177.0,959.0 2177.5,954.1 2178.0,958.0 2178.5,959.9 2179.0,955.4 2179.5,958.5 2180.0,967.1 2180.5,963.3 2181.0,967.9 2181.5,959.9 2182.0,960.8 2182.5,957.0 2183.0,949.8 2183.5,961.4 2184.0,958.8 2184.5,960.5 2185.0,970.9 2185.5,962.1 2186.0,961.9 2186.5,957.6 2187.0,962.3 2187.5,964.3 2188.0,956.2 2188.5,959.0 2189.0,962.5 2189.5,961.9 2190.0,959.9 2190.5,955.1 2191.0,952.4 2191.5,964.2 2192.0,953.5 2192.5,958.3 2193.0,956.9 2193.5,966.0 2194.0,962.6 2194.5,954.7 2195.0,964.0 2195.5,960.4 2196.0,962.0 2196.5,951.0 2197.0,951.2 2197.5,955.0 2198.0,956.0 2198.5,960.5 2199.0,950.6 2199.5,952.0 2200.0,954.2 2200.5,958.5 2201.0,959.5 2201.5,958.4 2202.0,952.1 2202.5,962.0 2203.0,957.4 2203.5,950.7 2204.0,953.9 2204.5,950.1 2205.0,955.9 2205.5,955.8 2206.0,951.5 2206.5,954.7 2207.0,956.0 2207.5,959.7 2208.0,963.9 2208.5,950.8 2209.0,959.1 2209.5,960.5 2210.0,953.3 2210.5,961.0 2211.0,963.0 2211.5,959.5 2212.0,957.2 2212.5,955.6 2213.0,954.5 2213.5,952.4 2214.0,957.2 2214.5,954.9 2215.0,957.0 2215.5,959.3 2216.0,954.5 2216.5,954.7 2217.0,947.8 2217.5,953.4 2218.0,959.1 2218.5,953.2 2219.0,956.9 2219.5,948.5 2220.0,968.1 2220.5,958.4 2221.0,958.3 2221.5,954.6 2222.0,958.9 2222.5,962.2 2223.0,963.3 2223.5,953.8 2224.0,947.8 2224.5,947.7 2225.0,956.0 2225.5,945.4 2226.0,957.8 2226.5,960.3 2227.0,947.8 2227.5,950.1 2228.0,954.6 2228.5,954.6 2229.0,939.1 2229.5,950.9 2230.0,953.8 2230.5,950.6 2231.0,951.7 2231.5,953.4 2232.0,954.6 2232.5,946.5 2233.0,952.8 2233.5,956.0 2234.0,941.3 2234.5,943.7 2235.0,946.8 2235.5,949.3 2236.0,947.7 2236.5,955.4 2237.0,948.1 2237.5,946.3 2238.0,948.2 2238.5,944.7 2239.0,950.2 2239.5,945.1 2240.0,953.4 2240.5,945.3 2241.0,947.9 2241.5,951.0 2242.0,945.9 2242.5,943.3 2243.0,946.0 2243.5,937.8 2244.0,945.6 2244.5,936.7 2245.0,937.3 2245.5,943.6 2246.0,932.6 2246.5,946.6 2247.0,936.2 2247.5,938.2 2248.0,934.0 2248.5,945.7 2249.0,943.2 2249.5,940.9 2250.0,935.9 2250.5,935.1 2251.0,934.9 2251.5,935.9 2252.0,937.9 2252.5,941.0 2253.0,935.5 2253.5,930.0 2254.0,927.0 2254.5,934.8 2255.0,927.7 2255.5,938.7 2256.0,926.9 2256.5,915.9 2257.0,929.3 2257.5,935.6 2258.0,935.5 2258.5,933.1 2259.0,922.3 2259.5,933.6 2260.0,926.6 2260.5,929.1 2261.0,928.4 2261.5,928.4 2262.0,926.8 2262.5,936.9 2263.0,930.4 2263.5,928.9 2264.0,934.2 2264.5,929.5 2265.0,937.2 2265.5,928.2 2266.0,936.2 2266.5,934.3 2267.0,929.0 2267.5,927.9 2268.0,937.1 2268.5,938.0 2269.0,929.8 2269.5,950.8 2270.0,929.0 2270.5,929.8 2271.0,942.6 2271.5,931.4 2272.0,936.2 2272.5,936.2 2273.0,951.1 2273.5,942.2 2274.0,941.1 2274.5,942.7 2275.0,943.1 2275.5,943.1 2276.0,956.7 2276.5,943.6 2277.0,946.6 2277.5,944.0 2278.0,946.5 2278.5,944.5 2279.0,943.5 2279.5,936.6 2280.0,949.9 2280.5,937.9 2281.0,947.8 2281.5,951.4 2282.0,954.5 2282.5,943.6 2283.0,955.5 2283.5,944.1 2284.0,947.2 2284.5,952.0 2285.0,952.7 2285.5,947.6 2286.0,949.5 2286.5,947.0 2287.0,950.8 2287.5,953.5 2288.0,948.8 2288.5,957.2 2289.0,947.9 2289.5,951.9 2290.0,957.6 2290.5,957.3 2291.0,954.3 2291.5,961.4 2292.0,946.8 2292.5,949.0 2293.0,958.6 2293.5,954.3 2294.0,946.2 2294.5,952.3 2295.0,958.9 2295.5,964.3 2296.0,962.1 2296.5,949.4 2297.0,953.5 2297.5,961.0 2298.0,952.0 2298.5,957.0 2299.0,958.4 2299.5,957.9 2300.0,957.8 2300.5,948.3 2301.0,960.1 2301.5,957.8 2302.0,950.1 2302.5,949.5 2303.0,960.6 2303.5,947.2 2304.0,951.5 2304.5,963.1 2305.0,948.6 2305.5,963.2 2306.0,953.7 2306.5,961.9 2307.0,964.7 2307.5,953.2 2308.0,955.1 2308.5,957.4 2309.0,956.3 2309.5,958.9 2310.0,958.4 2310.5,962.0 2311.0,954.8 2311.5,957.3 2312.0,958.5 2312.5,959.9 2313.0,958.7 2313.5,964.2 2314.0,958.9 2314.5,967.1 2315.0,952.1 2315.5,961.8 2316.0,959.7 2316.5,957.7 2317.0,954.4 2317.5,955.9 2318.0,957.8 2318.5,948.6 2319.0,958.0 2319.5,956.6 2320.0,946.2 2320.5,961.9 2321.0,953.9 2321.5,956.2 2322.0,963.8 2322.5,960.8 2323.0,954.6 2323.5,964.4 2324.0,959.0 2324.5,954.2 2325.0,959.3 2325.5,957.1 2326.0,961.2 2326.5,961.0 2327.0,961.0 2327.5,959.9 2328.0,955.7 2328.5,958.1 2329.0,950.0 2329.5,956.1 2330.0,957.3 2330.5,948.9 2331.0,959.0 2331.5,962.0 2332.0,957.9 2332.5,963.2 2333.0,956.4 2333.5,952.8 2334.0,955.9 2334.5,960.4 2335.0,959.3 2335.5,956.6 2336.0,953.7 2336.5,960.4 2337.0,960.5 2337.5,954.1 2338.0,957.8 2338.5,957.3 2339.0,951.8 2339.5,962.0 2340.0,959.4 2340.5,954.3 2341.0,959.5 2341.5,959.7 2342.0,957.6 2342.5,957.2 2343.0,948.1 2343.5,962.3 2344.0,958.3 2344.5,951.7 2345.0,958.7 2345.5,957.3" fill="none" stroke="#e01010" stroke-width="1.9" stroke-linejoin="round" filter="url(#tr1)" style="mix-blend-mode:multiply"/>
<path d="M254.8,1822.3 255.4,1823.0 256.0,1830.5 256.6,1842.2 257.2,1859.8 257.8,1863.1 258.4,1867.8 259.0,1869.8 259.6,1871.2 260.2,1885.0 260.8,1881.8 261.4,1896.6 262.0,1893.6 262.6,1900.4 263.2,1903.3 263.8,1900.8 264.4,1910.6 265.0,1911.9 265.6,1908.7 266.2,1917.5 266.8,1926.9 267.4,1928.8 268.0,1929.8 268.6,1928.6 269.2,1929.9 269.8,1938.3 270.4,1937.7 271.0,1939.6 271.6,1936.7 272.2,1936.8 272.8,1940.2 273.4,1939.1 274.0,1942.3 274.6,1942.5 275.2,1939.2 275.8,1942.4 276.4,1947.4 277.0,1947.8 277.6,1944.5 278.2,1948.9 278.8,1951.8 279.4,1949.6 280.0,1955.4 280.6,1952.3 281.2,1955.3 281.8,1954.0 282.4,1950.1 283.0,1956.3 283.6,1960.7 284.2,1963.4 284.8,1959.7 285.4,1961.7 286.0,1965.4 286.6,1964.5 287.2,1964.2 287.8,1967.9 288.4,1966.0 289.0,1964.7 289.6,1967.8 290.2,1963.2 290.8,1968.6 291.4,1969.4 292.0,1964.6 292.6,1968.2 293.2,1969.1 293.8,1969.8 294.4,1967.0 295.0,1969.6 295.6,1969.4 296.2,1972.5 296.8,1971.8 297.4,1969.9 298.0,1972.3 298.6,1970.6 299.2,1967.6 299.8,1969.8 300.4,1968.0 301.0,1972.4 301.6,1969.5 302.2,1971.8 302.8,1969.5 303.4,1973.3 304.0,1971.0 304.6,1969.5 305.2,1971.1 305.8,1971.0 306.4,1972.2 307.0,1976.3 307.6,1973.5 308.2,1973.5 308.8,1970.5 309.4,1972.0 310.0,1974.2 310.6,1970.8 311.2,1971.9 311.8,1975.7 312.4,1970.5 313.0,1972.3 313.6,1968.1 314.2,1971.3 314.8,1976.1 315.4,1971.4 316.0,1973.2 316.6,1974.4 317.2,1973.2 317.8,1972.8 318.4,1974.6 319.0,1975.7 319.6,1973.2 320.2,1973.7 320.8,1976.5 321.4,1972.4 322.0,1975.1 322.6,1971.5 323.2,1972.3 323.8,1975.1 324.4,1973.5 325.0,1976.6 325.6,1974.7 326.2,1978.1 326.8,1976.9 327.4,1975.3 328.0,1974.3 328.6,1973.9 329.2,1973.5 329.8,1973.8 330.4,1976.2 331.0,1975.7 331.6,1976.6 332.2,1975.6 332.8,1978.5 333.4,1977.1 334.0,1973.7 334.6,1975.7 335.2,1977.0 335.8,1975.0 336.4,1975.7 337.0,1976.3 337.6,1976.8 338.2,1977.9 338.8,1976.4 339.4,1976.2 340.0,1976.4 340.6,1974.3 341.2,1976.6 341.8,1976.2 342.4,1974.8 343.0,1975.5 343.6,1979.9 344.2,1977.0 344.8,1978.5 345.4,1978.2 346.0,1975.7 346.6,1974.8 347.2,1976.6 347.8,1980.7 348.4,1978.0 349.0,1977.9 349.6,1978.2 350.2,1975.2 350.8,1976.9 351.4,1976.7 352.0,1977.6 352.6,1976.5 353.2,1978.1 353.8,1979.8 354.4,1978.0 355.0,1979.0 355.6,1980.3 356.2,1980.9 356.8,1979.0 357.4,1978.6 358.0,1975.8 358.6,1979.3 359.2,1979.5 359.8,1978.6 360.4,1977.4 361.0,1980.4 361.6,1979.0 362.2,1976.9 362.8,1976.4 363.4,1979.8 364.0,1981.1 364.6,1979.0 365.2,1979.1 365.8,1977.4 366.4,1977.7 367.0,1978.8 367.6,1980.1 368.2,1978.5 368.8,1980.2 369.4,1980.3 370.0,1979.1 370.6,1976.4 371.2,1976.7 371.8,1977.2 372.4,1981.4 373.0,1978.4 373.6,1980.3 374.2,1978.6 374.8,1978.1 375.4,1978.4 376.0,1980.3 376.6,1980.7 377.2,1978.5 377.8,1977.8 378.4,1980.5 379.0,1980.7 379.6,1979.7 380.2,1980.3 380.8,1978.3 381.4,1978.3 382.0,1978.6 382.6,1980.5 383.2,1980.9 383.8,1980.2 384.4,1979.6 385.0,1978.7 385.6,1979.3 386.2,1980.3 386.8,1979.1 387.4,1978.9 388.0,1980.1 388.6,1981.2 389.2,1979.4 389.8,1978.8 390.4,1979.2 391.0,1981.4 391.6,1979.6 392.2,1980.0 392.8,1980.5 393.4,1980.4 394.0,1980.9 394.6,1981.1 395.2,1979.9 395.8,1980.3 396.4,1980.2 397.0,1981.8 397.6,1980.1 398.2,1978.5 398.8,1981.8 399.4,1980.4 400.0,1980.6 400.6,1980.2 401.2,1979.7 401.8,1981.4 402.4,1979.6 403.0,1979.9 403.6,1981.1 404.2,1980.0 404.8,1979.3 405.4,1979.0 406.0,1981.1 406.6,1979.8 407.2,1980.9 407.8,1981.8 408.4,1978.0 409.0,1979.6 409.6,1980.0 410.2,1981.3 410.8,1980.7 411.4,1981.6 412.0,1978.7 412.6,1981.7 413.2,1981.0 413.8,1980.1 414.4,1981.3 415.0,1980.1 415.6,1980.9 416.2,1981.4 416.8,1981.3 417.4,1983.8 418.0,1980.2 418.6,1980.7 419.2,1981.0 419.8,1981.2 420.4,1982.7 421.0,1981.4 421.6,1982.6 422.2,1982.2 422.8,1983.0 423.4,1982.0 424.0,1980.4 424.6,1981.1 425.2,1982.8 425.8,1982.7 426.4,1980.4 427.0,1982.0 427.6,1980.7 428.2,1979.8 428.8,1980.6 429.4,1983.1 430.0,1984.5 430.6,1980.0 431.2,1983.5 431.8,1983.6 432.4,1982.5 433.0,1982.3 433.6,1981.2 434.2,1982.8 434.8,1983.0 435.4,1981.0 436.0,1983.1 436.6,1978.9 437.2,1983.7 437.8,1982.0 438.4,1980.7 439.0,1982.1 439.6,1984.0 440.2,1982.2 440.8,1980.9 441.4,1983.0 442.0,1984.1 442.6,1982.3 443.2,1984.7 443.8,1981.7 444.4,1981.4 445.0,1982.1 445.6,1983.6 446.2,1981.1 446.8,1980.8 447.4,1981.0 448.0,1982.8 448.6,1981.8 449.2,1983.2 449.8,1981.0 450.4,1982.9 451.0,1983.8 451.6,1982.7 452.2,1981.9 452.8,1982.6 453.4,1982.7 454.0,1983.7 454.6,1982.5 455.2,1982.7 455.8,1982.5 456.4,1982.8 457.0,1982.7 457.6,1983.6 458.2,1980.6 458.8,1984.6 459.4,1982.5 460.0,1981.4 460.6,1984.7 461.2,1984.7 461.8,1982.0 462.4,1979.9 463.0,1981.6 463.6,1983.3 464.2,1983.5 464.8,1983.6 465.4,1984.4 466.0,1983.7 466.6,1982.0 467.2,1983.4 467.8,1982.6 468.4,1982.1 469.0,1983.8 469.6,1983.5 470.2,1982.9 470.8,1984.0 471.4,1983.0 472.0,1982.4 472.6,1983.1 473.2,1985.0 473.8,1982.9 474.4,1983.4 475.0,1983.3 475.6,1984.5 476.2,1983.2 476.8,1983.4 477.4,1983.9 478.0,1984.2 478.6,1983.5 479.2,1985.5 479.8,1983.1 480.4,1984.0 481.0,1982.3 481.6,1985.5 482.2,1984.0 482.8,1983.2 483.4,1983.2 484.0,1984.0 484.6,1982.5 485.2,1984.1 485.8,1983.0 486.4,1983.7 487.0,1983.9 487.6,1984.5 488.2,1984.4 488.8,1984.3 489.4,1983.3 490.0,1984.4 490.6,1984.9 491.2,1983.1 491.8,1983.6 492.4,1983.2 493.0,1983.7 493.6,1982.0 494.2,1983.1 494.8,1983.5 495.4,1983.4 496.0,1982.8 496.6,1983.7 497.2,1983.2 497.8,1984.2 498.4,1982.3 499.0,1984.2 499.6,1987.5 500.2,1983.3 500.8,1984.4 501.4,1984.2 502.0,1983.3 502.6,1987.0 503.2,1986.0 503.8,1984.3 504.4,1985.5 505.0,1983.5 505.6,1983.6 506.2,1984.6 506.8,1983.3 507.4,1986.2 508.0,1984.3 508.6,1983.2 509.2,1982.7 509.8,1983.6 510.4,1982.6 511.0,1983.8 511.6,1984.4 512.2,1983.9 512.8,1981.7 513.4,1982.0 514.0,1983.9 514.6,1983.8 515.2,1983.7 515.8,1985.9 516.4,1984.9 517.0,1984.2 517.6,1985.2 518.2,1984.6 518.8,1985.7 519.4,1984.5 520.0,1983.4 520.6,1984.4 521.2,1983.6 521.8,1984.6 522.4,1985.3 523.0,1984.3 523.6,1986.3 524.2,1985.3 524.8,1984.9 525.4,1985.1 526.0,1984.2 526.6,1985.4 527.2,1983.6 527.8,1983.7 528.4,1984.5 529.0,1985.3 529.6,1985.8 530.2,1984.0 530.8,1984.9 531.4,1981.9 532.0,1983.8 532.6,1983.2 533.2,1985.7 533.8,1984.8 534.4,1985.2 535.0,1987.2 535.6,1984.5 536.2,1985.2 536.8,1985.1 537.4,1984.4 538.0,1983.8 538.6,1984.2 539.2,1983.1 539.8,1985.5 540.4,1984.0 541.0,1985.6 541.6,1985.1 542.2,1983.8 542.8,1984.4 543.4,1984.7 544.0,1984.7 544.6,1984.3 545.2,1983.6 545.8,1984.3 546.4,1985.4 547.0,1984.1 547.6,1985.0 548.2,1984.7 548.8,1984.8 549.4,1984.1 550.0,1984.8 550.6,1985.4 551.2,1986.5 551.8,1986.4 552.4,1984.7 553.0,1985.7 553.6,1984.2 554.2,1985.1 554.8,1984.8 555.4,1985.2 556.0,1982.6 556.6,1984.2 557.2,1984.6 557.8,1984.5 558.4,1987.6 559.0,1986.1 559.6,1984.0 560.2,1983.9 560.8,1986.0 561.4,1987.4 562.0,1986.6 562.6,1984.8 563.2,1985.5 563.8,1984.2 564.4,1985.6 565.0,1985.1 565.6,1984.8 566.2,1985.5 566.8,1985.8 567.4,1986.0 568.0,1985.6 568.6,1985.4 569.2,1984.5 569.8,1985.4 570.4,1986.0 571.0,1986.6 571.6,1986.3 572.2,1985.1 572.8,1985.4 573.4,1984.2 574.0,1985.7 574.6,1986.0 575.2,1984.2 575.8,1984.6 576.4,1984.4 577.0,1986.8 577.6,1985.7 578.2,1985.4 578.8,1985.4 579.4,1988.0 580.0,1985.6 580.6,1985.7 581.2,1984.6 581.8,1985.9 582.4,1985.7 583.0,1985.9 583.6,1986.8 584.2,1985.1 584.8,1983.9 585.4,1986.7 586.0,1984.3 586.6,1984.1 587.2,1987.2 587.8,1987.1 588.4,1986.6 589.0,1986.8 589.6,1986.6 590.2,1986.9 590.8,1986.2 591.4,1985.5 592.0,1985.1 592.6,1986.1 593.2,1986.9 593.8,1985.4 594.4,1985.4 595.0,1986.8 595.6,1985.6 596.2,1987.1 596.8,1986.7 597.4,1985.9 598.0,1986.3 598.6,1984.9 599.2,1986.2 599.8,1985.8 600.4,1984.9 601.0,1987.6 601.6,1985.4 602.2,1984.9 602.8,1986.3 603.4,1985.0 604.0,1987.2 604.6,1987.0 605.2,1987.4 605.8,1984.5 606.4,1987.0 607.0,1985.6 607.6,1987.8 608.2,1985.2 608.8,1987.5 609.4,1986.9 610.0,1988.7 610.6,1987.4 611.2,1985.2 611.8,1987.5 612.4,1984.6 613.0,1984.0 613.6,1986.3 614.2,1987.5 614.8,1986.5 615.4,1985.9 616.0,1988.2 616.6,1986.8 617.2,1986.0 617.8,1985.8 618.4,1988.1 619.0,1986.2 619.6,1986.1 620.2,1985.1 620.8,1985.9 621.4,1985.1 622.0,1985.6 622.6,1987.1 623.2,1983.4 623.8,1985.5 624.4,1986.0 625.0,1986.6 625.6,1984.6 626.2,1986.1 626.8,1985.6 627.4,1986.0 628.0,1986.4 628.6,1987.8 629.2,1986.8 629.8,1984.5 630.4,1986.0 631.0,1986.9 631.6,1987.2 632.2,1987.1 632.8,1986.7 633.4,1986.4 634.0,1984.8 634.6,1985.9 635.2,1984.6 635.8,1988.0 636.4,1986.5 637.0,1988.2 637.6,1988.5 638.2,1986.1 638.8,1988.1 639.4,1986.3 640.0,1987.2 640.6,1985.2 641.2,1985.1 641.8,1987.9 642.4,1985.6 643.0,1986.4 643.6,1985.8 644.2,1986.9 644.8,1985.1 645.4,1985.4 646.0,1986.4 646.6,1988.0 647.2,1988.8 647.8,1985.4 648.4,1986.2 649.0,1987.8 649.6,1987.4 650.2,1983.8 650.8,1987.5 651.4,1986.1 652.0,1985.1 652.6,1984.1 653.2,1986.1 653.8,1985.9 654.4,1987.6 655.0,1986.0 655.6,1986.5 656.2,1987.5 656.8,1987.6 657.4,1985.2 658.0,1985.4 658.6,1983.7 659.2,1986.8 659.8,1988.5 660.4,1984.4 661.0,1985.8 661.6,1984.7 662.2,1987.2 662.8,1986.9 663.4,1984.9 664.0,1987.3 664.6,1986.5 665.2,1986.5 665.8,1985.6 666.4,1985.4 667.0,1987.3 667.6,1985.5 668.2,1986.7 668.8,1986.6 669.4,1986.3 670.0,1985.5 670.6,1986.6 671.2,1986.0 671.8,1987.2 672.4,1987.9 673.0,1987.6 673.6,1986.2 674.2,1986.4 674.8,1986.3 675.4,1987.8 676.0,1987.3 676.6,1986.5 677.2,1985.8 677.8,1986.0 678.4,1986.8 679.0,1987.2 679.6,1988.0 680.2,1987.1 680.8,1985.4 681.4,1986.8 682.0,1987.1 682.6,1986.3 683.2,1983.8 683.8,1987.0 684.4,1987.5 685.0,1988.3 685.6,1988.6 686.2,1986.2 686.8,1986.3 687.4,1987.2 688.0,1986.2 688.6,1986.0 689.2,1987.4 689.8,1986.3 690.4,1985.8 691.0,1988.1 691.6,1986.8 692.2,1986.5 692.8,1988.4 693.4,1984.2 694.0,1985.6 694.6,1984.7 695.2,1988.1 695.8,1986.7 696.4,1985.5 697.0,1987.1 697.6,1984.5 698.2,1987.8 698.8,1986.7 699.4,1987.0 700.0,1988.3 700.6,1986.9 701.2,1986.7 701.8,1987.8 702.4,1987.2 703.0,1985.7 703.6,1985.8 704.2,1986.2 704.8,1986.0 705.4,1985.4 706.0,1986.9 706.6,1987.4 707.2,1986.6 707.8,1986.5 708.4,1987.4 709.0,1986.5 709.6,1986.4 710.2,1985.7 710.8,1987.7 711.4,1985.5 712.0,1986.9 712.6,1988.1 713.2,1985.6 713.8,1986.2 714.4,1986.6 715.0,1987.9 715.6,1985.9 716.2,1987.8 716.8,1987.8 717.4,1986.8 718.0,1985.8 718.6,1986.7 719.2,1986.7 719.8,1987.7 720.4,1985.9 721.0,1987.2 721.6,1986.2 722.2,1984.0 722.8,1986.6 723.4,1987.8 724.0,1988.2 724.6,1987.8 725.2,1987.8 725.8,1986.6 726.4,1985.5 727.0,1986.8 727.6,1987.1 728.2,1986.2 728.8,1987.7 729.4,1987.1 730.0,1985.9 730.6,1985.7 731.2,1987.2 731.8,1987.2 732.4,1987.4 733.0,1986.6 733.6,1985.4 734.2,1986.8 734.8,1988.0 735.4,1985.8 736.0,1985.8 736.6,1985.7 737.2,1986.1 737.8,1987.3 738.4,1987.9 739.0,1986.4 739.6,1987.2 740.2,1986.8 740.8,1985.6 741.4,1988.7 742.0,1988.6 742.6,1988.4 743.2,1987.6 743.8,1987.1 744.4,1986.6 745.0,1987.8 745.6,1985.8 746.2,1987.3 746.8,1986.2 747.4,1985.3 748.0,1985.9 748.6,1987.3 749.2,1987.1 749.8,1986.5 750.4,1986.2 751.0,1988.2 751.6,1988.1 752.2,1987.6 752.8,1985.9 753.4,1986.8 754.0,1987.1 754.6,1988.4 755.2,1988.4 755.8,1986.7 756.4,1988.1 757.0,1986.1 757.6,1987.9 758.2,1986.9 758.8,1986.3 759.4,1986.5 760.0,1987.1 760.6,1984.9 761.2,1987.1 761.8,1986.6 762.4,1987.4 763.0,1986.1 763.6,1985.9 764.2,1985.9 764.8,1986.8 765.4,1986.1 766.0,1988.1 766.6,1987.5 767.2,1986.4 767.8,1989.3 768.4,1988.7 769.0,1986.4 769.6,1986.9 770.2,1987.4 770.8,1987.3 771.4,1985.6 772.0,1986.7 772.6,1987.5 773.2,1988.6 773.8,1987.0 774.4,1988.3 775.0,1987.3 775.6,1987.9 776.2,1985.9 776.8,1987.9 777.4,1987.2 778.0,1985.8 778.6,1989.4 779.2,1987.7 779.8,1988.8 780.4,1985.6 781.0,1986.8 781.6,1987.3 782.2,1987.0 782.8,1986.4 783.4,1986.6 784.0,1987.1 784.6,1986.2 785.2,1986.8 785.8,1985.2 786.4,1988.3 787.0,1987.5 787.6,1986.4 788.2,1986.4 788.8,1987.7 789.4,1985.9 790.0,1986.3 790.6,1985.5 791.2,1987.5 791.8,1986.0 792.4,1987.3 793.0,1986.8 793.6,1986.5 794.2,1987.6 794.8,1987.5 795.4,1985.5 796.0,1988.2 796.6,1986.7 797.2,1985.9 797.8,1985.7 798.4,1987.4 799.0,1988.3 799.6,1986.2 800.2,1987.8 800.8,1987.3 801.4,1988.0 802.0,1988.7 802.6,1987.9 803.2,1987.6 803.8,1989.1 804.4,1985.9 805.0,1987.6 805.6,1985.7 806.2,1986.2 806.8,1987.9 807.4,1987.4 808.0,1987.8 808.6,1987.4 809.2,1987.3 809.8,1987.0 810.4,1986.9 811.0,1987.2 811.6,1988.0 812.2,1988.9 812.8,1987.2 813.4,1987.6 814.0,1986.7 814.6,1988.0 815.2,1987.1 815.8,1988.3 816.4,1987.0 817.0,1987.7 817.6,1987.0 818.2,1984.9 818.8,1986.6 819.4,1987.5 820.0,1987.1 820.6,1987.4 821.2,1987.5 821.8,1987.4 822.4,1987.4 823.0,1987.4 823.6,1986.4 824.2,1986.5 824.8,1985.7 825.4,1987.0 826.0,1987.0 826.6,1985.1 827.2,1988.8 827.8,1987.2 828.4,1987.0 829.0,1986.8 829.6,1988.1 830.2,1987.8 830.8,1988.9 831.4,1988.0 832.0,1989.3 832.6,1986.7 833.2,1987.7 833.8,1988.5 834.4,1986.1 835.0,1987.5 835.6,1988.5 836.2,1987.1 836.8,1988.0 837.4,1989.4 838.0,1987.5 838.6,1986.1 839.2,1989.2 839.8,1988.0 840.4,1986.9 841.0,1987.3 841.6,1986.7 842.2,1987.8 842.8,1986.3 843.4,1987.5 844.0,1987.6 844.6,1987.2 845.2,1987.8 845.8,1987.9 846.4,1988.0 847.0,1988.4 847.6,1988.3 848.2,1988.9 848.8,1987.0 849.4,1987.3 850.0,1989.5 850.6,1988.0 851.2,1987.5 851.8,1988.5 852.4,1987.2 853.0,1988.1 853.6,1987.6 854.2,1988.5 854.8,1987.4 855.4,1987.4 856.0,1985.4 856.6,1986.1 857.2,1987.4 857.8,1987.5 858.4,1987.5 859.0,1987.3 859.6,1989.7 860.2,1987.6 860.8,1987.0 861.4,1987.6 862.0,1988.8 862.6,1989.1 863.2,1989.3 863.8,1986.0 864.4,1986.9 865.0,1986.3 865.6,1987.9 866.2,1988.3 866.8,1989.1 867.4,1987.3 868.0,1989.0 868.6,1988.4 869.2,1986.5 869.8,1986.2 870.4,1987.9 871.0,1986.8 871.6,1987.5 872.2,1987.1 872.8,1988.9 873.4,1987.3 874.0,1987.4 874.6,1987.2 875.2,1987.2 875.8,1987.5 876.4,1987.1 877.0,1988.3 877.6,1987.3 878.2,1988.5 878.8,1987.5 879.4,1988.0 880.0,1988.3 880.6,1988.2 881.2,1988.1 881.8,1986.8 882.4,1988.3 883.0,1987.2 883.6,1987.1 884.2,1985.5 884.8,1986.7 885.4,1988.5 886.0,1988.7 886.6,1987.5 887.2,1987.1 887.8,1988.2 888.4,1986.7 889.0,1989.4 889.6,1989.6 890.2,1988.3 890.8,1987.0 891.4,1986.7 892.0,1987.5 892.6,1986.2 893.2,1987.1 893.8,1987.7 894.4,1986.1 895.0,1987.2 895.6,1988.3 896.2,1987.3 896.8,1988.6 897.4,1986.5 898.0,1987.8 898.6,1989.3 899.2,1986.3 899.8,1987.2 900.4,1988.0 901.0,1987.4 901.6,1986.9 902.2,1987.6 902.8,1987.3 903.4,1986.5 904.0,1987.9 904.6,1987.5 905.2,1985.8 905.8,1987.8 906.4,1988.2 907.0,1987.4 907.6,1986.6 908.2,1988.3 908.8,1987.7 909.4,1988.1 910.0,1985.8 910.6,1986.3 911.2,1987.2 911.8,1986.4 912.4,1988.8 913.0,1988.2 913.6,1987.2 914.2,1986.2 914.8,1988.9 915.4,1987.2 916.0,1987.7 916.6,1987.7 917.2,1987.3 917.8,1988.5 918.4,1986.1 919.0,1988.0 919.6,1987.1 920.2,1988.5 920.8,1988.1 921.4,1989.1 922.0,1986.0 922.6,1984.8 923.2,1987.3 923.8,1987.0 924.4,1985.4 925.0,1987.9 925.6,1987.1 926.2,1988.0 926.8,1986.5 927.4,1986.9 928.0,1986.2 928.6,1986.3 929.2,1988.2 929.8,1987.8 930.4,1987.0 931.0,1986.6 931.6,1987.2 932.2,1986.5 932.8,1986.3 933.4,1987.5 934.0,1987.0 934.6,1987.4 935.2,1988.1 935.8,1986.0 936.4,1985.2 937.0,1987.1 937.6,1985.2 938.2,1985.3 938.8,1987.3 939.4,1987.0 940.0,1987.2 940.6,1985.7 941.2,1985.3 941.8,1987.0 942.4,1987.9 943.0,1986.3 943.6,1985.1 944.2,1985.8 944.8,1986.1 945.4,1987.6 946.0,1985.4 946.6,1986.1 947.2,1985.7 947.8,1985.5 948.4,1985.9 949.0,1986.2 949.6,1985.0 950.2,1984.4 950.8,1983.0 951.4,1984.6 952.0,1985.0 952.6,1981.8 953.2,1982.0 953.8,1982.9 954.4,1981.3 955.0,1979.4 955.6,1975.9 956.2,1974.3 956.8,1968.8 957.4,1964.3 958.0,1957.9 958.6,1947.5 959.2,1937.4 959.8,1921.9 960.4,1903.4 961.0,1884.8 961.6,1862.2 962.2,1839.2 962.3,1833.9 962.5,1827.3 962.7,1817.7 962.8,1812.5 962.9,1809.7 963.1,1800.1 963.3,1792.5 963.4,1788.3 963.5,1785.7 963.7,1777.3 963.9,1770.8 964.0,1766.9 964.1,1763.1 964.3,1755.1 964.5,1746.9 964.6,1745.5 964.7,1737.9 964.9,1726.4 965.1,1696.8 965.2,1669.3 965.3,1637.5 965.5,1544.0 965.7,1411.2 965.8,1336.6 965.9,1264.9 966.1,1141.7 966.3,1096.1 966.4,1109.7 966.5,1141.8 966.7,1262.1 966.9,1410.1 967.0,1480.8 967.1,1544.5 967.3,1638.0 967.5,1694.8 967.6,1711.8 967.7,1722.4 967.9,1739.6 968.1,1750.8 968.2,1752.6 968.3,1757.1 968.5,1763.6 968.7,1768.4 968.8,1773.1 968.9,1778.0 969.1,1785.1 969.3,1791.9 969.4,1796.7 969.5,1799.3 969.7,1810.1 969.9,1817.2 970.0,1821.4 970.1,1826.5 970.3,1833.6 970.6,1845.4 971.2,1868.4 971.8,1892.9 972.4,1910.0 973.0,1925.9 973.6,1939.0 974.2,1950.8 974.8,1959.9 975.4,1967.3 976.0,1970.3 976.6,1975.5 977.2,1976.7 977.8,1980.0 978.4,1981.2 979.0,1983.3 979.6,1984.5 980.2,1983.5 980.8,1984.4 981.4,1983.3 982.0,1986.2 982.6,1986.3 983.2,1984.3 983.8,1986.3 984.4,1986.7 985.0,1987.8 985.6,1986.8 986.2,1985.5 986.8,1985.3 987.4,1988.1 988.0,1986.0 988.6,1987.4 989.2,1987.2 989.8,1986.0 990.4,1986.9 991.0,1986.5 991.6,1986.2 992.2,1986.3 992.8,1986.6 993.4,1986.1 994.0,1987.5 994.6,1987.9 995.2,1987.9 995.8,1987.1 996.4,1987.9 997.0,1987.0 997.6,1987.4 998.2,1985.8 998.8,1988.2 999.4,1986.2 1000.0,1986.7 1000.6,1985.2 1001.2,1988.0 1001.8,1986.9 1002.4,1988.0 1003.0,1987.8 1003.6,1987.2 1004.2,1986.6 1004.8,1986.1 1005.4,1987.9 1006.0,1988.2 1006.6,1987.4 1007.2,1986.5 1007.8,1987.0 1008.4,1986.9 1009.0,1986.7 1009.6,1987.6 1010.2,1987.0 1010.8,1985.7 1011.4,1987.1 1012.0,1988.2 1012.6,1988.0 1013.2,1987.9 1013.8,1987.4 1014.4,1987.1 1015.0,1989.2 1015.6,1988.4 1016.2,1988.1 1016.8,1988.7 1017.4,1989.7 1018.0,1988.9 1018.6,1986.8 1019.2,1989.0 1019.8,1986.3 1020.4,1987.8 1021.0,1987.7 1021.6,1986.0 1022.2,1986.0 1022.8,1989.0 1023.4,1986.9 1024.0,1987.3 1024.6,1988.5 1025.2,1988.2 1025.8,1988.7 1026.4,1986.3 1027.0,1985.4 1027.6,1989.3 1028.2,1988.6 1028.8,1988.1 1029.4,1988.8 1030.0,1986.9 1030.6,1987.7 1031.2,1988.2 1031.8,1989.5 1032.4,1989.5 1033.0,1987.9 1033.6,1989.8 1034.2,1987.2 1034.8,1988.4 1035.4,1987.0 1036.0,1987.7 1036.6,1987.4 1037.2,1987.6 1037.8,1988.6 1038.4,1988.6 1039.0,1988.3 1039.6,1987.9 1040.2,1987.2 1040.8,1988.2 1041.4,1986.7 1042.0,1988.4 1042.6,1989.1 1043.2,1988.7 1043.8,1988.6 1044.4,1986.6 1045.0,1987.2 1045.6,1987.6 1046.2,1988.1 1046.8,1987.7 1047.4,1989.2 1048.0,1985.7 1048.6,1987.5 1049.2,1987.0 1049.8,1986.9 1050.4,1988.1 1051.0,1988.1 1051.6,1988.9 1052.2,1988.1 1052.8,1988.2 1053.4,1989.8 1054.0,1987.8 1054.6,1989.2 1055.2,1988.2 1055.8,1985.9 1056.4,1986.4 1057.0,1989.5 1057.6,1987.9 1058.2,1987.7 1058.8,1986.5 1059.4,1986.1 1060.0,1988.0 1060.6,1988.6 1061.2,1987.7 1061.8,1987.6 1062.4,1989.8 1063.0,1987.8 1063.6,1988.4 1064.2,1986.5 1064.8,1987.5 1065.4,1987.8 1066.0,1987.2 1066.6,1988.2 1067.2,1987.9 1067.8,1987.7 1068.4,1989.8 1069.0,1987.2 1069.6,1987.1 1070.2,1987.3 1070.8,1986.9 1071.4,1989.1 1072.0,1987.7 1072.6,1988.1 1073.2,1988.1 1073.8,1989.0 1074.4,1988.6 1075.0,1987.8 1075.6,1988.6 1076.2,1987.8 1076.8,1988.4 1077.4,1986.6 1078.0,1984.9 1078.6,1986.1 1079.2,1986.3 1079.8,1987.1 1080.4,1986.0 1081.0,1984.3 1081.6,1984.2 1082.2,1984.0 1082.8,1985.0 1083.4,1983.7 1083.5,1982.2 1083.7,1983.3 1083.9,1981.4 1084.0,1982.0 1084.1,1982.9 1084.3,1980.1 1084.5,1984.0 1084.6,1981.9 1084.7,1982.8 1084.9,1981.3 1085.1,1980.0 1085.2,1979.0 1085.3,1979.4 1085.5,1979.0 1085.7,1977.0 1085.8,1977.4 1085.9,1975.2 1086.1,1971.3 1086.3,1968.0 1086.4,1965.5 1086.5,1964.3 1086.7,1958.5 1086.9,1954.5 1087.0,1953.1 1087.1,1951.8 1087.3,1949.5 1087.5,1946.5 1087.6,1945.8 1087.7,1945.3 1087.9,1947.3 1088.1,1949.6 1088.2,1949.3 1088.3,1950.4 1088.5,1952.7 1088.7,1954.8 1088.8,1956.7 1088.9,1956.6 1089.1,1958.2 1089.3,1959.4 1089.4,1961.5 1089.5,1963.3 1089.7,1963.5 1089.9,1966.1 1090.0,1968.5 1090.1,1971.8 1090.3,1973.1 1090.5,1973.7 1090.6,1976.4 1090.7,1977.2 1090.9,1977.2 1091.1,1979.3 1091.2,1979.9 1091.3,1981.0 1091.5,1980.6 1091.8,1981.4 1092.4,1981.7 1093.0,1984.6 1093.6,1982.3 1094.2,1982.3 1094.8,1984.1 1095.4,1985.5 1096.0,1984.4 1096.6,1984.8 1097.2,1987.0 1097.8,1986.7 1098.4,1986.8 1099.0,1988.1 1099.6,1987.5 1100.2,1986.7 1100.8,1985.7 1101.4,1989.5 1102.0,1987.3 1102.6,1989.4 1103.2,1988.6 1103.8,1987.4 1104.4,1989.1 1105.0,1987.8 1105.6,1988.6 1106.2,1987.5 1106.8,1989.5 1107.4,1986.3 1108.0,1989.1 1108.6,1988.8 1109.2,1989.4 1109.8,1987.0 1110.4,1987.8 1111.0,1988.2 1111.6,1986.8 1112.2,1989.4 1112.8,1989.1 1113.4,1988.0 1114.0,1989.0 1114.6,1988.6 1115.2,1988.5 1115.8,1988.5 1116.4,1988.0 1117.0,1989.3 1117.6,1987.3 1118.2,1988.3 1118.8,1989.0 1119.4,1988.8 1120.0,1988.0 1120.6,1988.4 1121.2,1987.8 1121.8,1986.9 1122.4,1988.3 1123.0,1989.8 1123.6,1988.0 1124.2,1988.2 1124.8,1988.2 1125.4,1988.5 1126.0,1989.9 1126.6,1988.6 1127.2,1988.2 1127.8,1988.5 1128.4,1986.9 1129.0,1986.7 1129.6,1990.2 1130.2,1986.5 1130.8,1989.5 1131.4,1988.8 1132.0,1985.7 1132.6,1986.8 1133.2,1987.5 1133.8,1989.4 1134.4,1988.3 1135.0,1987.9 1135.6,1989.3 1136.2,1988.0 1136.8,1989.7 1137.4,1987.0 1138.0,1988.4 1138.6,1989.2 1139.2,1987.1 1139.8,1987.6 1140.4,1987.0 1141.0,1989.7 1141.6,1989.0 1142.2,1988.5 1142.8,1990.0 1143.4,1988.3 1144.0,1988.4 1144.6,1988.6 1145.2,1988.5 1145.8,1989.9 1146.4,1987.9 1147.0,1987.1 1147.6,1989.7 1148.2,1989.6 1148.8,1988.4 1149.4,1989.6 1150.0,1989.3 1150.6,1988.8 1151.2,1989.8 1151.8,1990.0 1152.4,1987.6 1153.0,1989.5 1153.6,1987.6 1154.2,1989.2 1154.8,1987.8 1155.4,1988.9 1156.0,1989.9 1156.6,1988.0 1157.2,1988.6 1157.8,1989.2 1158.4,1986.4 1159.0,1986.8 1159.6,1989.6 1160.2,1988.6 1160.8,1988.9 1161.4,1989.3 1162.0,1988.0 1162.6,1987.8 1163.2,1987.5 1163.8,1989.6 1164.4,1988.0 1165.0,1987.3 1165.6,1990.5 1166.2,1988.9 1166.8,1989.3 1167.4,1987.8 1168.0,1989.9 1168.6,1988.6 1169.2,1988.7 1169.8,1989.3 1170.4,1988.6 1171.0,1990.1 1171.6,1989.7 1172.2,1989.5 1172.8,1987.8 1173.4,1987.2 1174.0,1988.8 1174.6,1989.0 1175.2,1990.1 1175.8,1989.9 1176.4,1988.4 1177.0,1987.5 1177.6,1989.0 1178.2,1989.3 1178.8,1989.1 1179.4,1988.0 1180.0,1987.4 1180.6,1988.6 1181.2,1988.9 1181.8,1988.3 1182.4,1989.1 1183.0,1988.6 1183.6,1987.5 1184.2,1988.1 1184.8,1990.1 1185.4,1986.7 1186.0,1985.8 1186.6,1990.0 1187.2,1989.0 1187.8,1988.0 1188.4,1987.4 1189.0,1990.3 1189.6,1987.0 1190.2,1987.4 1190.8,1987.9 1191.4,1988.7 1192.0,1990.4 1192.6,1988.4 1193.2,1989.3 1193.8,1988.2 1194.4,1989.0 1195.0,1989.8 1195.6,1986.6 1196.2,1986.1 1196.8,1990.0 1197.4,1988.3 1198.0,1989.6 1198.6,1987.9 1199.2,1989.5 1199.8,1988.1 1200.4,1989.1 1201.0,1988.0 1201.6,1990.3 1202.2,1988.2 1202.8,1988.4 1203.4,1988.2 1204.0,1988.4 1204.6,1987.3 1205.2,1987.4 1205.8,1989.2 1206.4,1988.6 1207.0,1989.4 1207.6,1989.1 1208.2,1986.9 1208.8,1989.6 1209.4,1987.8 1210.0,1987.1 1210.6,1987.9 1211.2,1987.6 1211.8,1989.6 1212.4,1989.0 1213.0,1989.4 1213.6,1987.3 1214.2,1988.7 1214.8,1989.4 1215.4,1988.7 1216.0,1987.6 1216.6,1989.9 1217.2,1987.9 1217.8,1988.5 1218.4,1988.8 1219.0,1988.3 1219.6,1989.3 1220.2,1989.6 1220.8,1990.0 1221.4,1988.3 1222.0,1990.1 1222.6,1989.2 1223.2,1989.5 1223.8,1987.8 1224.4,1991.2 1225.0,1989.1 1225.6,1988.7 1226.2,1988.5 1226.8,1988.7 1227.4,1987.8 1228.0,1988.8 1228.6,1989.1 1229.2,1988.5 1229.8,1988.4 1230.4,1988.5 1231.0,1988.3 1231.6,1987.6 1232.2,1987.4 1232.8,1989.7 1233.4,1989.5 1234.0,1986.7 1234.6,1989.1 1235.2,1990.7 1235.8,1988.9 1236.4,1988.3 1237.0,1987.6 1237.6,1988.3 1238.2,1988.2 1238.8,1988.5 1239.4,1987.7 1240.0,1990.2 1240.6,1988.7 1241.2,1988.4 1241.8,1988.5 1242.4,1987.6 1243.0,1989.9 1243.6,1987.5 1244.2,1987.9 1244.8,1989.8 1245.4,1988.9 1246.0,1988.8 1246.6,1990.8 1247.2,1988.7 1247.8,1989.3 1248.4,1989.3 1249.0,1990.6 1249.6,1988.5 1250.2,1987.5 1250.8,1987.5 1251.4,1987.6 1252.0,1988.4 1252.6,1987.9 1253.2,1990.1 1253.8,1989.3 1254.4,1988.9 1255.0,1988.7 1255.6,1989.3 1256.2,1988.9 1256.8,1988.0 1257.4,1990.0 1258.0,1988.2 1258.6,1988.8 1259.2,1988.4 1259.8,1988.6 1260.4,1988.5 1261.0,1989.1 1261.6,1987.9 1262.2,1987.8 1262.8,1988.1 1263.4,1989.5 1264.0,1989.0 1264.6,1988.6 1265.2,1987.0 1265.8,1988.1 1266.4,1988.3 1267.0,1987.7 1267.6,1990.0 1268.2,1988.2 1268.8,1991.6 1269.4,1989.3 1270.0,1988.7 1270.6,1990.2 1271.2,1991.0 1271.8,1990.2 1272.4,1988.4 1273.0,1988.5 1273.6,1988.5 1274.2,1989.0 1274.8,1987.9 1275.4,1988.3 1276.0,1989.4 1276.6,1988.9 1277.2,1987.0 1277.8,1989.4 1278.4,1990.0 1279.0,1990.1 1279.6,1990.7 1280.2,1990.1 1280.8,1987.6 1281.4,1988.3 1282.0,1988.4 1282.6,1988.1 1283.2,1989.5 1283.8,1989.3 1284.4,1988.8 1285.0,1987.5 1285.6,1989.3 1286.2,1990.2 1286.8,1989.7 1287.4,1987.5 1288.0,1989.0 1288.6,1990.1 1289.2,1988.6 1289.8,1988.2 1290.4,1989.6 1291.0,1989.5 1291.6,1989.8 1292.2,1990.5 1292.8,1989.3 1293.4,1988.2 1294.0,1988.4 1294.6,1989.0 1295.2,1990.3 1295.8,1988.8 1296.4,1988.0 1297.0,1987.9 1297.6,1989.5 1298.2,1989.8 1298.8,1988.0 1299.4,1988.8 1300.0,1987.6 1300.6,1988.1 1301.2,1987.9 1301.8,1988.9 1302.4,1990.1 1303.0,1988.5 1303.6,1989.2 1304.2,1988.3 1304.8,1989.1 1305.4,1988.3 1306.0,1989.5 1306.6,1988.8 1307.2,1988.0 1307.8,1987.6 1308.4,1990.1 1309.0,1988.6 1309.6,1988.7 1310.2,1988.7 1310.8,1988.9 1311.4,1988.8 1312.0,1989.3 1312.6,1988.4 1313.2,1987.6 1313.8,1990.5 1314.4,1987.6 1315.0,1990.2 1315.6,1989.3 1316.2,1989.8 1316.8,1988.3 1317.4,1989.2 1318.0,1988.4 1318.6,1990.8 1319.2,1989.0 1319.8,1988.2 1320.4,1989.0 1321.0,1989.9 1321.6,1988.9 1322.2,1987.4 1322.8,1988.1 1323.4,1987.8 1324.0,1989.8 1324.6,1989.0 1325.2,1989.5 1325.8,1989.1 1326.4,1989.9 1327.0,1989.6 1327.6,1987.7 1328.2,1990.1 1328.8,1988.3 1329.4,1989.1 1330.0,1989.5 1330.6,1988.3 1331.2,1988.8 1331.8,1987.7 1332.4,1987.0 1333.0,1988.4 1333.6,1989.3 1334.2,1989.6 1334.8,1990.5 1335.4,1988.9 1336.0,1989.6 1336.6,1986.9 1337.2,1989.5 1337.8,1989.6 1338.4,1989.9 1339.0,1989.1 1339.6,1989.5 1340.2,1990.7 1340.8,1988.0 1341.4,1988.6 1342.0,1987.4 1342.6,1988.4 1343.2,1989.0 1343.8,1988.1 1344.4,1989.0 1345.0,1987.9 1345.6,1989.0 1346.2,1988.8 1346.8,1990.7 1347.4,1989.4 1348.0,1988.7 1348.6,1988.9 1349.2,1989.1 1349.8,1987.9 1350.4,1987.9 1351.0,1990.2 1351.6,1989.0 1352.2,1988.6 1352.8,1987.0 1353.4,1988.7 1354.0,1989.5 1354.6,1989.1 1355.2,1987.9 1355.8,1991.3 1356.4,1988.1 1357.0,1987.9 1357.6,1989.2 1358.2,1988.0 1358.8,1989.7 1359.4,1990.1 1360.0,1990.6 1360.6,1989.2 1361.2,1988.7 1361.8,1988.9 1362.4,1990.4 1363.0,1989.0 1363.6,1988.5 1364.2,1988.7 1364.8,1987.7 1365.4,1990.1 1366.0,1988.7 1366.6,1989.2 1367.2,1989.0 1367.8,1989.6 1368.4,1989.0 1369.0,1990.4 1369.6,1989.7 1370.2,1988.2 1370.8,1989.6 1371.4,1989.4 1372.0,1988.7 1372.6,1988.6 1373.2,1987.9 1373.8,1989.8 1374.4,1989.3 1375.0,1990.3 1375.6,1988.7 1376.2,1989.0 1376.8,1988.9 1377.4,1990.1 1378.0,1988.5 1378.6,1990.2 1379.2,1990.3 1379.8,1989.6 1380.4,1990.0 1381.0,1988.6 1381.6,1989.0 1382.2,1989.8 1382.8,1988.2 1383.4,1988.5 1384.0,1989.4 1384.6,1989.9 1385.2,1990.1 1385.8,1988.9 1386.4,1989.2 1387.0,1988.9 1387.6,1988.8 1388.2,1988.9 1388.8,1989.8 1389.4,1988.8 1390.0,1989.2 1390.6,1991.2 1391.2,1989.6 1391.8,1988.1 1392.4,1988.8 1393.0,1989.6 1393.6,1989.7 1394.2,1988.8 1394.8,1989.5 1395.4,1990.6 1396.0,1990.4 1396.6,1987.0 1397.2,1989.5 1397.8,1989.1 1398.4,1989.0 1399.0,1988.9 1399.6,1988.5 1400.2,1989.1 1400.8,1989.6 1401.4,1989.4 1402.0,1989.2 1402.6,1987.6 1403.2,1987.6 1403.8,1988.5 1404.4,1987.6 1405.0,1989.7 1405.6,1989.9 1406.2,1991.3 1406.8,1988.4 1407.4,1988.8 1408.0,1990.3 1408.6,1988.7 1409.2,1989.5 1409.8,1989.0 1410.4,1988.2 1411.0,1988.6 1411.6,1989.2 1412.2,1989.6 1412.8,1988.2 1413.4,1990.2 1414.0,1988.9 1414.6,1988.3 1415.2,1987.9 1415.8,1990.6 1416.4,1988.7 1417.0,1989.4 1417.6,1989.4 1418.2,1988.3 1418.8,1988.9 1419.4,1991.6 1420.0,1988.5 1420.6,1990.2 1421.2,1988.6 1421.8,1989.7 1422.4,1989.8 1423.0,1989.1 1423.6,1988.6 1424.2,1990.0 1424.8,1988.0 1425.4,1989.7 1426.0,1988.8 1426.6,1987.5 1427.2,1989.5 1427.8,1988.9 1428.4,1988.5 1429.0,1988.3 1429.6,1988.2 1430.2,1989.0 1430.8,1989.1 1431.4,1988.9 1432.0,1989.5 1432.6,1990.8 1433.2,1988.8 1433.8,1989.1 1434.4,1986.6 1435.0,1989.5 1435.6,1990.2 1436.2,1989.7 1436.8,1989.6 1437.4,1988.6 1438.0,1989.5 1438.6,1988.5 1439.2,1989.6 1439.8,1989.5 1440.4,1988.9 1441.0,1989.0 1441.6,1990.3 1442.2,1988.6 1442.8,1989.2 1443.4,1987.2 1444.0,1989.2 1444.6,1988.7 1445.2,1989.9 1445.8,1988.5 1446.4,1989.5 1447.0,1988.8 1447.6,1988.1 1448.2,1990.2 1448.8,1990.9 1449.4,1989.2 1450.0,1988.8 1450.6,1988.4 1451.2,1987.7 1451.8,1989.2 1452.4,1989.1 1453.0,1989.7 1453.6,1988.3 1454.2,1987.7 1454.8,1988.8 1455.4,1987.8 1456.0,1989.1 1456.6,1989.0 1457.2,1987.2 1457.8,1987.2 1458.4,1988.1 1459.0,1989.0 1459.6,1987.7 1460.2,1988.7 1460.8,1986.8 1461.4,1987.3 1462.0,1987.3 1462.6,1985.8 1463.2,1982.6 1463.8,1983.5 1464.4,1982.3 1465.0,1982.5 1465.6,1979.2 1466.2,1979.3 1466.8,1976.3 1467.4,1973.1 1468.0,1968.7 1468.6,1968.5 1469.2,1964.4 1469.8,1962.0 1470.3,1960.9 1470.4,1958.0 1470.5,1955.8 1470.7,1956.2 1470.9,1956.5 1471.0,1955.2 1471.1,1954.0 1471.3,1953.9 1471.5,1950.8 1471.6,1950.3 1471.7,1948.3 1471.9,1944.8 1472.1,1938.9 1472.2,1935.0 1472.3,1931.8 1472.5,1918.8 1472.7,1907.0 1472.8,1897.1 1472.9,1886.4 1473.1,1865.7 1473.3,1843.9 1473.4,1831.2 1473.5,1820.6 1473.7,1796.9 1473.9,1779.6 1474.0,1770.5 1474.1,1765.8 1474.3,1761.4 1474.5,1762.5 1474.6,1767.6 1474.7,1772.2 1474.9,1787.5 1475.1,1804.0 1475.2,1811.1 1475.3,1818.3 1475.5,1832.8 1475.7,1843.7 1475.8,1848.1 1475.9,1849.9 1476.1,1852.9 1476.3,1852.3 1476.4,1851.7 1476.5,1849.8 1476.7,1849.6 1476.9,1852.6 1477.0,1852.9 1477.1,1854.6 1477.3,1862.7 1477.5,1874.0 1477.6,1879.2 1477.7,1885.3 1477.9,1897.1 1478.1,1909.6 1478.2,1916.2 1478.3,1920.4 1478.8,1943.3 1479.4,1955.2 1480.0,1958.0 1480.6,1964.0 1481.2,1963.9 1481.8,1968.0 1482.4,1970.9 1483.0,1972.5 1483.6,1974.1 1484.2,1978.0 1484.8,1979.5 1485.4,1982.4 1486.0,1984.0 1486.6,1985.2 1487.2,1983.7 1487.8,1986.1 1488.4,1984.9 1489.0,1988.0 1489.6,1988.1 1490.2,1987.5 1490.8,1986.9 1491.4,1988.9 1492.0,1988.7 1492.6,1989.1 1493.2,1986.8 1493.8,1988.2 1494.4,1988.2 1495.0,1989.3 1495.6,1988.9 1496.2,1989.5 1496.8,1986.7 1497.4,1989.0 1498.0,1990.8 1498.6,1990.1 1499.2,1991.1 1499.8,1990.2 1500.4,1990.7 1501.0,1987.9 1501.6,1989.3 1502.2,1990.2 1502.8,1987.1 1503.4,1989.5 1504.0,1987.4 1504.6,1989.3 1505.2,1989.0 1505.8,1988.5 1506.4,1987.6 1507.0,1989.1 1507.6,1987.6 1508.2,1989.9 1508.8,1987.0 1509.4,1988.8 1510.0,1989.0 1510.6,1989.3 1511.2,1988.9 1511.8,1988.6 1512.4,1988.9 1513.0,1990.5 1513.6,1987.3 1514.2,1989.8 1514.8,1990.0 1515.4,1990.1 1516.0,1988.5 1516.6,1989.9 1517.2,1989.5 1517.8,1987.7 1518.4,1988.4 1519.0,1989.2 1519.6,1990.2 1520.2,1989.3 1520.8,1988.8 1521.4,1990.2 1522.0,1989.9 1522.6,1988.7 1523.2,1989.5 1523.8,1987.9 1524.4,1990.5 1525.0,1989.8 1525.6,1990.0 1526.2,1989.0 1526.8,1989.9 1527.4,1988.4 1528.0,1987.5 1528.6,1989.3 1529.2,1988.9 1529.8,1989.8 1530.4,1988.2 1531.0,1990.1 1531.6,1989.4 1532.2,1988.8 1532.8,1990.2 1533.4,1988.6 1534.0,1989.5 1534.6,1989.0 1535.2,1989.6 1535.8,1990.4 1536.4,1988.7 1537.0,1989.1 1537.6,1989.1 1538.2,1989.6 1538.8,1988.8 1539.4,1989.7 1540.0,1989.1 1540.6,1987.8 1541.2,1989.6 1541.8,1988.9 1542.4,1989.7 1543.0,1989.0 1543.6,1989.5 1544.2,1988.6 1544.8,1989.9 1545.4,1989.7 1546.0,1987.8 1546.6,1989.1 1547.2,1987.7 1547.8,1989.5 1548.4,1990.3 1549.0,1989.4 1549.6,1988.9 1550.2,1989.5 1550.8,1990.6 1551.4,1990.9 1552.0,1987.7 1552.6,1990.1 1553.2,1988.9 1553.8,1988.5 1554.4,1988.5 1555.0,1992.3 1555.6,1990.8 1556.2,1990.6 1556.8,1988.8 1557.4,1989.9 1558.0,1990.6 1558.6,1988.8 1559.2,1988.7 1559.8,1989.4 1560.4,1990.7 1561.0,1989.1 1561.6,1990.2 1562.2,1989.5 1562.8,1989.2 1563.4,1989.2 1564.0,1989.6 1564.6,1989.5 1565.2,1988.8 1565.8,1989.3 1566.4,1991.8 1567.0,1990.1 1567.6,1989.4 1568.2,1988.4 1568.8,1989.9 1569.4,1990.0 1570.0,1989.0 1570.6,1990.4 1571.2,1988.8 1571.8,1990.0 1572.4,1989.2 1573.0,1989.1 1573.6,1989.0 1574.2,1988.4 1574.8,1989.6 1575.4,1990.1 1576.0,1989.4 1576.6,1987.4 1577.2,1988.4 1577.8,1990.3 1578.4,1990.6 1579.0,1989.6 1579.6,1990.8 1580.2,1990.6 1580.8,1988.3 1581.4,1988.4 1582.0,1988.5 1582.6,1987.9 1583.2,1991.3 1583.8,1989.2 1584.4,1990.0 1585.0,1988.4 1585.6,1990.3 1586.2,1989.0 1586.8,1988.6 1587.4,1988.5 1588.0,1987.9 1588.6,1988.0 1589.2,1989.3 1589.8,1990.8 1590.4,1989.0 1591.0,1988.0 1591.6,1988.3 1592.2,1991.3 1592.8,1990.3 1593.4,1988.8 1594.0,1988.9 1594.6,1989.3 1595.2,1989.3 1595.8,1990.1 1596.4,1988.9 1597.0,1987.7 1597.6,1989.3 1598.2,1991.0 1598.8,1990.0 1599.4,1988.9 1600.0,1988.9 1600.6,1990.1 1601.2,1990.2 1601.8,1989.2 1602.4,1989.1 1603.0,1989.2 1603.6,1989.4 1604.2,1989.4 1604.8,1990.1 1605.4,1991.2 1606.0,1990.6 1606.6,1989.8 1607.2,1988.7 1607.8,1990.3 1608.4,1987.5 1609.0,1989.6 1609.6,1990.2 1610.2,1988.7 1610.8,1988.3 1611.4,1988.0 1612.0,1988.6 1612.6,1988.9 1613.2,1989.7 1613.8,1989.2 1614.4,1989.1 1615.0,1990.1 1615.6,1989.0 1616.2,1991.1 1616.8,1990.1 1617.4,1989.8 1618.0,1989.4 1618.6,1989.0 1619.2,1989.1 1619.8,1989.1 1620.4,1990.8 1621.0,1987.4 1621.6,1989.9 1622.2,1988.3 1622.8,1989.2 1623.4,1989.3 1624.0,1989.7 1624.6,1989.5 1625.2,1990.9 1625.8,1989.8 1626.4,1987.4 1627.0,1988.8 1627.6,1990.0 1628.2,1989.8 1628.8,1989.9 1629.4,1989.6 1630.0,1988.2 1630.6,1989.0 1631.2,1990.0 1631.8,1991.5 1632.4,1987.9 1633.0,1988.4 1633.6,1989.5 1634.2,1989.1 1634.8,1989.8 1635.4,1990.1 1636.0,1987.1 1636.6,1991.7 1637.2,1989.7 1637.8,1989.0 1638.4,1988.9 1639.0,1989.4 1639.6,1989.7 1640.2,1989.1 1640.8,1990.5 1641.4,1990.5 1642.0,1988.9 1642.6,1990.2 1643.2,1988.8 1643.8,1988.4 1644.4,1988.1 1645.0,1988.3 1645.6,1990.4 1646.2,1989.4 1646.8,1989.5 1647.4,1988.4 1648.0,1989.7 1648.6,1988.2 1649.2,1989.3 1649.8,1988.2 1650.4,1989.3 1651.0,1989.3 1651.6,1990.4 1652.2,1989.8 1652.8,1987.9 1653.4,1988.0 1654.0,1991.7 1654.6,1987.2 1655.2,1987.8 1655.8,1990.1 1656.4,1988.7 1657.0,1988.5 1657.6,1991.8 1658.2,1989.6 1658.8,1989.3 1659.4,1989.6 1660.0,1990.8 1660.6,1989.6 1661.2,1988.9 1661.8,1989.0 1662.4,1990.5 1663.0,1987.2 1663.6,1990.5 1664.2,1990.0 1664.8,1988.9 1665.4,1989.9 1666.0,1990.0 1666.6,1989.9 1667.2,1989.6 1667.8,1987.2 1668.4,1989.7 1669.0,1990.0 1669.6,1990.5 1670.2,1989.2 1670.8,1988.9 1671.4,1990.2 1672.0,1989.9 1672.6,1989.1 1673.2,1990.0 1673.8,1990.2 1674.4,1988.7 1675.0,1988.2 1675.6,1989.8 1676.2,1991.3 1676.8,1989.0 1677.4,1990.9 1678.0,1987.6 1678.6,1989.2 1679.2,1988.8 1679.8,1989.1 1680.4,1988.5 1681.0,1988.7 1681.6,1989.0 1682.2,1989.2 1682.8,1990.8 1683.4,1988.8 1684.0,1989.6 1684.6,1989.1 1685.2,1988.5 1685.8,1990.2 1686.4,1990.1 1687.0,1988.6 1687.6,1990.0 1688.2,1989.8 1688.8,1989.7 1689.4,1988.7 1690.0,1989.6 1690.6,1989.1 1691.2,1988.0 1691.8,1988.7 1692.4,1988.8 1693.0,1989.3 1693.6,1989.6 1694.2,1990.6 1694.8,1989.4 1695.4,1988.1 1696.0,1987.3 1696.6,1989.6 1697.2,1988.9 1697.8,1988.4 1698.4,1988.5 1699.0,1989.0 1699.6,1990.7 1700.2,1988.6 1700.8,1988.5 1701.4,1987.8 1702.0,1987.2 1702.6,1987.2 1703.2,1985.6 1703.8,1985.7 1704.4,1985.4 1705.0,1982.7 1705.6,1981.9 1706.2,1980.1 1706.8,1978.1 1707.4,1978.9 1708.0,1976.1 1708.6,1975.3 1708.9,1973.0 1709.1,1973.9 1709.2,1974.9 1709.3,1970.8 1709.5,1972.5 1709.7,1971.2 1709.8,1970.0 1709.9,1969.0 1710.1,1968.7 1710.3,1967.7 1710.4,1964.5 1710.5,1965.5 1710.7,1963.0 1710.9,1957.6 1711.0,1955.6 1711.1,1951.5 1711.3,1944.8 1711.5,1933.7 1711.6,1930.0 1711.7,1922.3 1711.9,1908.9 1712.1,1896.1 1712.2,1889.9 1712.3,1881.8 1712.5,1873.7 1712.7,1867.7 1712.8,1865.0 1712.9,1863.1 1713.1,1866.6 1713.3,1873.7 1713.4,1876.6 1713.5,1882.2 1713.7,1892.0 1713.9,1904.3 1714.0,1906.5 1714.1,1912.6 1714.3,1919.6 1714.5,1925.0 1714.6,1925.6 1714.7,1927.3 1714.9,1926.8 1715.1,1924.9 1715.2,1923.0 1715.3,1920.0 1715.5,1916.8 1715.7,1916.3 1715.8,1916.9 1715.9,1914.7 1716.1,1918.2 1716.3,1921.8 1716.4,1923.9 1716.5,1925.6 1716.7,1932.7 1716.9,1940.2 1717.0,1944.8 1717.6,1960.3 1718.2,1968.0 1718.8,1972.6 1719.4,1974.1 1720.0,1976.4 1720.6,1978.3 1721.2,1979.4 1721.8,1981.0 1722.4,1980.0 1723.0,1983.2 1723.6,1984.5 1724.2,1985.3 1724.8,1985.8 1725.4,1986.4 1726.0,1986.4 1726.6,1986.8 1727.2,1987.7 1727.8,1990.1 1728.4,1987.7 1729.0,1988.4 1729.6,1987.4 1730.2,1991.1 1730.8,1988.2 1731.4,1991.2 1732.0,1989.1 1732.6,1989.5 1733.2,1988.4 1733.8,1991.2 1734.4,1988.5 1735.0,1990.8 1735.6,1989.7 1736.2,1989.9 1736.8,1988.8 1737.4,1989.8 1738.0,1989.3 1738.6,1990.1 1739.2,1989.9 1739.8,1990.2 1740.4,1989.0 1741.0,1990.0 1741.6,1990.4 1742.2,1988.8 1742.8,1989.0 1743.4,1987.9 1744.0,1989.5 1744.6,1988.7 1745.2,1990.1 1745.8,1988.5 1746.4,1988.1 1747.0,1988.1 1747.6,1991.2 1748.2,1990.6 1748.8,1991.4 1749.4,1988.5 1750.0,1988.3 1750.6,1989.9 1751.2,1990.3 1751.8,1990.1 1752.4,1990.4 1753.0,1990.1 1753.6,1990.3 1754.2,1988.8 1754.8,1987.6 1755.4,1989.7 1756.0,1988.8 1756.6,1988.1 1757.2,1988.2 1757.8,1989.7 1758.4,1989.0 1759.0,1988.3 1759.6,1988.4 1760.2,1988.2 1760.8,1990.1 1761.4,1989.5 1762.0,1988.7 1762.6,1989.7 1763.2,1987.6 1763.8,1987.1 1764.4,1990.3 1765.0,1990.1 1765.6,1989.6 1766.2,1989.2 1766.8,1988.4 1767.4,1987.7 1768.0,1990.2 1768.6,1989.6 1769.2,1988.7 1769.8,1990.0 1770.4,1989.0 1771.0,1990.8 1771.6,1989.1 1772.2,1989.6 1772.8,1989.0 1773.4,1990.4 1774.0,1990.1 1774.6,1989.8 1775.2,1990.6 1775.8,1991.0 1776.4,1990.2 1777.0,1988.5 1777.6,1989.1 1778.2,1988.5 1778.8,1988.6 1779.4,1986.7 1780.0,1988.6 1780.6,1988.0 1781.2,1986.9 1781.8,1987.3 1782.4,1986.8 1782.7,1986.5 1782.9,1987.8 1783.0,1988.0 1783.1,1987.4 1783.3,1985.8 1783.5,1984.1 1783.6,1987.5 1783.7,1986.1 1783.9,1988.3 1784.1,1986.2 1784.2,1985.6 1784.3,1985.7 1784.5,1986.7 1784.7,1985.3 1784.8,1983.0 1784.9,1984.0 1785.1,1983.9 1785.3,1981.9 1785.4,1982.2 1785.5,1981.1 1785.7,1979.4 1785.9,1977.6 1786.0,1977.1 1786.1,1975.6 1786.3,1976.2 1786.5,1975.2 1786.6,1973.0 1786.7,1974.2 1786.9,1974.2 1787.1,1975.2 1787.2,1975.7 1787.3,1976.9 1787.5,1977.1 1787.7,1978.7 1787.8,1980.2 1787.9,1979.9 1788.1,1980.0 1788.3,1983.7 1788.4,1981.2 1788.5,1982.9 1788.7,1982.8 1788.9,1982.0 1789.0,1981.3 1789.1,1981.7 1789.3,1980.8 1789.5,1982.0 1789.6,1981.8 1789.7,1981.3 1789.9,1980.4 1790.1,1980.9 1790.2,1981.1 1790.3,1979.5 1790.5,1980.8 1790.7,1982.5 1790.8,1980.5 1791.4,1982.9 1792.0,1984.7 1792.6,1988.9 1793.2,1988.3 1793.8,1988.5 1794.4,1987.5 1795.0,1987.4 1795.6,1987.7 1796.2,1989.0 1796.8,1987.6 1797.4,1986.8 1798.0,1988.8 1798.6,1988.0 1799.2,1989.0 1799.8,1991.7 1800.4,1989.9 1801.0,1989.7 1801.6,1988.9 1802.2,1988.7 1802.8,1990.1 1803.4,1990.5 1804.0,1990.4 1804.6,1989.7 1805.2,1989.9 1805.8,1989.5 1806.4,1988.7 1807.0,1990.7 1807.6,1987.8 1808.2,1990.0 1808.8,1988.4 1809.4,1989.6 1810.0,1989.1 1810.6,1990.3 1811.2,1988.8 1811.8,1989.7 1812.4,1991.0 1813.0,1989.9 1813.6,1990.5 1814.2,1989.1 1814.8,1990.2 1815.4,1988.9 1816.0,1989.0 1816.6,1989.1 1817.2,1990.2 1817.8,1988.6 1818.4,1989.8 1819.0,1989.8 1819.6,1988.7 1820.2,1990.1 1820.8,1988.5 1821.4,1988.9 1822.0,1989.1 1822.6,1989.8 1823.2,1990.2 1823.8,1989.3 1824.4,1990.8 1825.0,1989.4 1825.6,1990.5 1826.2,1988.6 1826.8,1989.6 1827.4,1988.7 1828.0,1990.6 1828.6,1989.7 1829.2,1990.3 1829.8,1989.9 1830.4,1990.8 1831.0,1988.8 1831.6,1990.5 1832.2,1989.3 1832.8,1989.2 1833.4,1988.4 1834.0,1989.1 1834.6,1991.3 1835.2,1990.4 1835.8,1990.9 1836.4,1990.9 1837.0,1990.7 1837.6,1989.0 1838.2,1989.1 1838.8,1989.4 1839.4,1990.7 1840.0,1990.2 1840.6,1989.1 1841.2,1989.4 1841.8,1990.8 1842.4,1989.6 1843.0,1989.6 1843.6,1988.2 1844.2,1990.0 1844.8,1992.2 1845.4,1989.4 1846.0,1988.6 1846.6,1991.2 1847.2,1988.8 1847.8,1988.6 1848.4,1989.5 1849.0,1990.2 1849.6,1989.6 1850.2,1990.0 1850.8,1989.4 1851.4,1988.5 1852.0,1989.5 1852.6,1990.1 1853.2,1989.0 1853.8,1990.0 1854.4,1991.2 1855.0,1989.4 1855.6,1987.9 1856.2,1990.1 1856.8,1989.5 1857.4,1991.0 1858.0,1989.8 1858.6,1990.0 1859.2,1989.5 1859.8,1989.7 1860.4,1989.9 1861.0,1988.9 1861.6,1990.3 1862.2,1990.7 1862.8,1988.6 1863.4,1989.1 1864.0,1990.6 1864.6,1990.9 1865.2,1990.8 1865.8,1987.6 1866.4,1989.0 1867.0,1989.4 1867.6,1989.0 1868.2,1989.1 1868.8,1987.4 1869.4,1989.1 1870.0,1989.2 1870.6,1989.9 1871.2,1988.8 1871.8,1989.3 1872.4,1989.5 1873.0,1992.3 1873.6,1989.9 1874.2,1990.6 1874.8,1989.0 1875.4,1991.6 1876.0,1990.3 1876.6,1990.8 1877.2,1989.7 1877.8,1989.5 1878.4,1989.3 1879.0,1990.3 1879.6,1990.0 1880.2,1990.9 1880.8,1989.5 1881.4,1990.3 1882.0,1988.6 1882.6,1987.7 1883.2,1991.2 1883.8,1989.8 1884.4,1990.9 1885.0,1990.9 1885.6,1989.6 1886.2,1989.3 1886.8,1990.0 1887.4,1988.9 1888.0,1989.7 1888.6,1990.3 1889.2,1988.1 1889.8,1989.2 1890.4,1989.7 1891.0,1989.0 1891.6,1988.9 1892.2,1989.9 1892.8,1988.7 1893.4,1991.2 1894.0,1990.9 1894.6,1989.6 1895.2,1991.0 1895.8,1988.3 1896.4,1989.8 1897.0,1988.8 1897.6,1989.7 1898.2,1990.2 1898.8,1990.0 1899.4,1988.9 1900.0,1990.0 1900.6,1991.6 1901.2,1988.4 1901.8,1990.1 1902.4,1990.0 1903.0,1989.9 1903.6,1990.7 1904.2,1992.3 1904.8,1990.3 1905.4,1990.4 1906.0,1989.6 1906.6,1989.6 1907.2,1990.2 1907.8,1990.5 1908.4,1988.2 1909.0,1989.4 1909.6,1989.8 1910.2,1991.1 1910.8,1990.4 1911.4,1989.8 1912.0,1990.8 1912.6,1990.5 1913.2,1990.8 1913.8,1990.0 1914.4,1989.5 1915.0,1990.0 1915.6,1990.1 1916.2,1989.5 1916.8,1989.0 1917.4,1992.6 1918.0,1990.8 1918.6,1990.1 1919.2,1989.5 1919.8,1992.0 1920.4,1990.2 1921.0,1988.6 1921.6,1989.9 1922.2,1989.7 1922.8,1989.0 1923.4,1989.2 1924.0,1990.5 1924.6,1989.7 1925.2,1990.5 1925.8,1989.4 1926.4,1989.2 1927.0,1988.9 1927.6,1989.5 1928.2,1992.3 1928.8,1989.9 1929.4,1990.6 1930.0,1989.1 1930.6,1988.8 1931.2,1989.5 1931.8,1990.3 1932.4,1989.4 1933.0,1989.0 1933.6,1988.7 1934.2,1988.8 1934.8,1990.0 1935.4,1989.6 1936.0,1989.8 1936.6,1988.7 1937.2,1991.2 1937.8,1991.3 1938.4,1988.8 1939.0,1988.8 1939.6,1989.2 1940.2,1989.9 1940.8,1988.9 1941.4,1989.9 1942.0,1990.4 1942.6,1989.2 1943.2,1990.9 1943.8,1989.5 1944.4,1990.1 1945.0,1989.7 1945.6,1988.1 1946.2,1991.1 1946.8,1989.5 1947.4,1988.7 1948.0,1989.0 1948.6,1989.4 1949.2,1990.7 1949.8,1988.5 1950.4,1990.2 1951.0,1988.0 1951.6,1989.8 1952.2,1988.9 1952.8,1989.0 1953.4,1990.3 1954.0,1989.9 1954.6,1988.7 1955.2,1990.2 1955.8,1989.1 1956.4,1990.1 1957.0,1989.2 1957.6,1989.7 1958.2,1989.6 1958.8,1988.6 1959.4,1990.7 1960.0,1990.7 1960.6,1991.6 1961.2,1987.0 1961.8,1990.2 1962.4,1988.8 1963.0,1990.2 1963.6,1990.3 1964.2,1990.6 1964.8,1987.9 1965.4,1990.6 1966.0,1990.8 1966.6,1989.5 1967.2,1989.3 1967.8,1989.5 1968.4,1990.8 1969.0,1989.8 1969.6,1989.0 1970.2,1990.5 1970.8,1988.3 1971.4,1990.3 1972.0,1989.4 1972.6,1989.7 1973.2,1990.2 1973.8,1988.9 1974.4,1991.2 1975.0,1989.9 1975.6,1991.0 1976.2,1989.4 1976.8,1991.6 1977.4,1989.2 1978.0,1990.5 1978.6,1989.0 1979.2,1990.2 1979.8,1988.4 1980.4,1990.1 1981.0,1990.2 1981.6,1990.4 1982.2,1990.3 1982.8,1991.2 1983.4,1989.7 1984.0,1991.5 1984.6,1990.0 1985.2,1990.4 1985.8,1990.2 1986.4,1990.7 1987.0,1990.2 1987.6,1990.0 1988.2,1989.7 1988.8,1988.5 1989.4,1990.2 1990.0,1989.2 1990.6,1989.1 1991.2,1989.1 1991.8,1990.1 1992.4,1988.0 1993.0,1991.3 1993.6,1990.4 1994.2,1989.6 1994.8,1990.5 1995.4,1989.8 1996.0,1989.3 1996.6,1989.9 1997.2,1990.2 1997.8,1989.4 1998.4,1990.2 1999.0,1990.4 1999.6,1991.5 2000.2,1989.3 2000.8,1988.3 2001.4,1990.9 2002.0,1990.5 2002.6,1988.7 2003.2,1991.1 2003.8,1990.8 2004.4,1989.4 2005.0,1989.9 2005.6,1989.3 2006.2,1991.3 2006.8,1989.2 2007.4,1990.6 2008.0,1988.8 2008.6,1989.1 2009.2,1990.4 2009.8,1988.9 2010.4,1990.1 2011.0,1990.9 2011.6,1990.3 2012.2,1991.2 2012.8,1990.1 2013.4,1990.8 2014.0,1988.8 2014.6,1990.9 2015.2,1988.7 2015.8,1989.2 2016.4,1991.5 2017.0,1990.0 2017.6,1990.2 2018.2,1990.5 2018.8,1990.1 2019.4,1988.0 2020.0,1990.1 2020.6,1991.1 2021.2,1990.8 2021.8,1990.4 2022.4,1987.8 2023.0,1990.4 2023.6,1988.5 2024.2,1991.3 2024.8,1990.4 2025.4,1990.3 2026.0,1990.3 2026.6,1989.7 2027.2,1989.5 2027.8,1990.1 2028.4,1991.2 2029.0,1989.7 2029.6,1990.0 2030.2,1989.3 2030.8,1990.8 2031.4,1988.7 2032.0,1989.6 2032.6,1991.1 2033.2,1989.1 2033.8,1990.9 2034.4,1990.6 2035.0,1990.2 2035.6,1989.6 2036.2,1987.7 2036.8,1990.1 2037.4,1989.4 2038.0,1989.5 2038.6,1990.1 2039.2,1991.3 2039.8,1989.9 2040.4,1991.8 2041.0,1989.5 2041.6,1991.3 2042.2,1989.6 2042.8,1988.9 2043.4,1990.6 2044.0,1989.3 2044.6,1988.8 2045.2,1990.9 2045.8,1991.8 2046.4,1990.4 2047.0,1989.5 2047.6,1990.7 2048.2,1989.7 2048.8,1989.5 2049.4,1989.0 2050.0,1988.5 2050.6,1989.1 2051.2,1990.2 2051.8,1989.5 2052.4,1990.6 2053.0,1988.2 2053.6,1986.7 2054.2,1989.7 2054.8,1987.6 2055.4,1987.1 2056.0,1984.6 2056.6,1985.2 2057.2,1987.1 2057.8,1985.4 2058.0,1985.5 2058.2,1987.7 2058.4,1985.8 2058.4,1986.1 2058.6,1984.2 2058.8,1985.8 2059.0,1984.9 2059.0,1983.9 2059.2,1984.1 2059.4,1985.8 2059.6,1984.1 2059.6,1983.7 2059.8,1982.9 2060.0,1982.6 2060.2,1980.3 2060.2,1981.9 2060.4,1980.1 2060.6,1976.5 2060.8,1976.1 2060.8,1977.2 2061.0,1972.3 2061.2,1972.8 2061.4,1970.3 2061.4,1969.4 2061.6,1967.3 2061.8,1966.3 2062.0,1965.7 2062.0,1965.9 2062.2,1966.4 2062.4,1967.8 2062.6,1969.6 2062.6,1969.9 2062.8,1969.0 2063.0,1972.3 2063.2,1974.9 2063.2,1974.0 2063.4,1976.5 2063.6,1978.1 2063.8,1979.7 2063.8,1979.4 2064.0,1980.7 2064.2,1982.7 2064.4,1981.4 2064.4,1981.1 2064.6,1981.6 2064.8,1981.4 2065.0,1980.4 2065.0,1980.6 2065.2,1980.9 2065.4,1979.0 2065.6,1978.7 2065.6,1979.2 2065.8,1976.8 2066.0,1976.3 2066.2,1975.3 2066.8,1977.2 2067.4,1979.5 2068.0,1983.0 2068.6,1984.7 2069.2,1987.0 2069.8,1985.9 2070.4,1987.8 2071.0,1989.4 2071.6,1987.9 2072.2,1989.6 2072.8,1987.5 2073.4,1989.8 2074.0,1988.8 2074.6,1990.6 2075.2,1988.8 2075.8,1988.0 2076.4,1989.8 2077.0,1988.4 2077.6,1989.8 2078.2,1990.7 2078.8,1990.0 2079.4,1990.5 2080.0,1989.2 2080.6,1989.3 2081.2,1988.2 2081.8,1990.6 2082.4,1990.0 2083.0,1990.4 2083.6,1990.6 2084.2,1990.2 2084.8,1989.4 2085.4,1989.3 2086.0,1988.9 2086.6,1990.2 2087.2,1990.1 2087.8,1990.3 2088.4,1993.2 2089.0,1989.9 2089.6,1989.9 2090.2,1990.5 2090.8,1989.8 2091.4,1988.9 2092.0,1991.1 2092.6,1989.6 2093.2,1990.6 2093.8,1990.1 2094.4,1990.1 2095.0,1990.2 2095.6,1988.5 2096.2,1990.1 2096.8,1990.2 2097.4,1991.0 2098.0,1988.4 2098.6,1989.5 2099.2,1989.9 2099.8,1990.8 2100.4,1990.3 2101.0,1988.4 2101.6,1990.8 2102.2,1990.9 2102.8,1988.7 2103.4,1990.9 2104.0,1989.3 2104.6,1988.1 2105.2,1991.2 2105.8,1990.9 2106.4,1988.8 2107.0,1988.7 2107.6,1988.1 2108.2,1989.7 2108.8,1989.8 2109.4,1991.1 2110.0,1990.2 2110.6,1990.0 2111.2,1989.7 2111.8,1990.8 2112.4,1990.2 2113.0,1989.0 2113.6,1988.5 2114.2,1989.4 2114.8,1989.2 2115.4,1988.5 2116.0,1991.9 2116.6,1988.2 2117.2,1990.0 2117.8,1991.6 2118.4,1989.7 2119.0,1989.3 2119.6,1990.5 2120.2,1988.8 2120.8,1989.1 2121.4,1987.8 2122.0,1990.0 2122.6,1990.0 2123.2,1990.5 2123.8,1991.0 2124.4,1989.6 2125.0,1987.9 2125.6,1990.6 2126.2,1990.8 2126.8,1989.9 2127.4,1990.7 2128.0,1989.5 2128.6,1990.3 2129.2,1990.5 2129.8,1990.5 2130.4,1990.0 2131.0,1988.6 2131.6,1991.9 2132.2,1988.2 2132.8,1989.7 2133.4,1988.6 2134.0,1989.2 2134.6,1989.5 2135.2,1990.8 2135.8,1990.8 2136.4,1989.3 2137.0,1989.5 2137.6,1988.1 2138.2,1993.1 2138.8,1990.6 2139.4,1992.5 2140.0,1988.1 2140.6,1990.7 2141.2,1991.5 2141.8,1989.4 2142.4,1989.3 2143.0,1991.3 2143.6,1990.7 2144.2,1990.3 2144.8,1988.6 2145.4,1990.8 2146.0,1990.1 2146.6,1989.1 2147.2,1989.9 2147.8,1990.4 2148.4,1990.0 2149.0,1988.8 2149.6,1990.1 2150.2,1989.1 2150.8,1991.0 2151.4,1990.4 2152.0,1990.7 2152.6,1989.1 2153.2,1991.1 2153.8,1991.7 2154.4,1989.7 2155.0,1989.0 2155.6,1988.0 2156.2,1991.6 2156.8,1991.3 2157.4,1988.8 2158.0,1989.5 2158.6,1990.5 2159.2,1989.8 2159.8,1989.0 2160.4,1989.5 2161.0,1991.8 2161.6,1990.1 2162.2,1989.9 2162.8,1989.0 2163.4,1988.9 2164.0,1990.0 2164.6,1989.6 2165.2,1990.4 2165.8,1990.9 2166.4,1989.9 2167.0,1991.5 2167.6,1992.1 2168.2,1991.4 2168.8,1989.5 2169.4,1990.0 2170.0,1990.2 2170.6,1988.6 2171.2,1989.7 2171.8,1990.4 2172.4,1988.9 2173.0,1990.1 2173.6,1991.7 2174.2,1990.7 2174.8,1990.6 2175.4,1989.8 2176.0,1990.2 2176.6,1989.6 2177.2,1990.1 2177.8,1990.4 2178.4,1990.4 2179.0,1990.3 2179.6,1990.5 2180.2,1991.5 2180.8,1990.9 2181.4,1989.6 2182.0,1991.2 2182.6,1988.8 2183.2,1989.8 2183.8,1990.3 2184.4,1991.6 2185.0,1990.3 2185.6,1990.4 2186.2,1989.6 2186.8,1989.0 2187.4,1989.1 2188.0,1989.4 2188.6,1989.2 2189.2,1988.4 2189.8,1989.4 2190.4,1989.5 2191.0,1990.6 2191.6,1990.0 2192.2,1989.5 2192.8,1991.7 2193.4,1988.3 2194.0,1990.2 2194.6,1989.5 2195.2,1992.2 2195.8,1990.0 2196.4,1991.2 2197.0,1990.2 2197.6,1991.2 2198.2,1991.2 2198.8,1991.7 2199.4,1988.9 2200.0,1990.8 2200.6,1991.2 2201.2,1991.6 2201.8,1990.3 2202.4,1988.6 2203.0,1990.2 2203.6,1991.0 2204.2,1990.3 2204.8,1990.8 2205.4,1990.4 2206.0,1990.9 2206.6,1988.8 2207.2,1988.0 2207.8,1990.5 2208.4,1991.0 2209.0,1989.9 2209.6,1990.0 2210.2,1989.2 2210.8,1990.6 2211.4,1990.3 2212.0,1990.1 2212.6,1990.3 2213.2,1989.7 2213.8,1989.7 2214.4,1989.7 2215.0,1991.8 2215.6,1989.6 2216.2,1989.9 2216.8,1991.9 2217.4,1990.1 2218.0,1990.8 2218.6,1990.2 2219.2,1991.2 2219.8,1989.4 2220.4,1989.5 2221.0,1989.2 2221.6,1989.6 2222.2,1989.6 2222.8,1989.6 2223.4,1988.9 2224.0,1990.1 2224.6,1989.3 2225.2,1991.2 2225.8,1989.4 2226.4,1990.3 2227.0,1988.6 2227.6,1989.6 2228.2,1990.9 2228.8,1989.7 2229.4,1990.5 2230.0,1989.0 2230.6,1990.0 2231.2,1990.2 2231.8,1990.1 2232.4,1991.2 2233.0,1990.0 2233.6,1990.3 2234.2,1990.0 2234.8,1989.0 2235.4,1991.2 2236.0,1990.1 2236.6,1988.6 2237.2,1990.2 2237.8,1990.4 2238.4,1989.8 2239.0,1988.9 2239.6,1989.9 2240.2,1988.9 2240.8,1991.0 2241.4,1988.7 2242.0,1990.2 2242.6,1989.3 2243.2,1988.9 2243.8,1990.5 2244.4,1987.9 2245.0,1989.5 2245.6,1990.0 2246.2,1987.9 2246.8,1988.7 2247.4,1987.1 2248.0,1989.0 2248.6,1990.0 2249.2,1988.1 2249.8,1989.8 2250.4,1986.9 2251.0,1987.2 2251.6,1989.0 2252.2,1986.4 2252.8,1986.6 2253.4,1986.8 2254.0,1985.3 2254.5,1984.7 2254.6,1983.6 2254.7,1984.5 2254.9,1982.2 2255.1,1981.0 2255.2,1982.4 2255.3,1983.6 2255.5,1982.4 2255.7,1981.9 2255.8,1982.4 2255.9,1981.5 2256.1,1979.0 2256.3,1979.8 2256.4,1977.4 2256.5,1977.6 2256.7,1976.2 2256.9,1972.8 2257.0,1970.2 2257.1,1969.5 2257.3,1966.5 2257.5,1962.4 2257.6,1961.3 2257.7,1958.3 2257.9,1954.3 2258.1,1951.5 2258.2,1949.7 2258.3,1950.1 2258.5,1952.1 2258.7,1950.1 2258.8,1952.5 2258.9,1952.5 2259.1,1955.3 2259.3,1957.3 2259.4,1959.6 2259.5,1961.8 2259.7,1964.8 2259.9,1969.7 2260.0,1970.7 2260.1,1970.6 2260.3,1971.9 2260.5,1976.2 2260.6,1975.1 2260.7,1977.2 2260.9,1976.9 2261.1,1979.7 2261.2,1978.4 2261.3,1977.6 2261.5,1979.7 2261.7,1978.1 2261.8,1978.7 2261.9,1977.6 2262.1,1975.9 2262.3,1975.3 2262.4,1974.8 2262.5,1973.3 2263.0,1970.1 2263.6,1967.1 2264.2,1969.7 2264.8,1974.3 2265.4,1980.6 2266.0,1983.9 2266.6,1985.5 2267.2,1986.5 2267.8,1985.6 2268.4,1985.6 2269.0,1987.2 2269.6,1988.6 2270.2,1989.4 2270.8,1988.7 2271.4,1989.0 2272.0,1988.8 2272.6,1989.1 2273.2,1988.8 2273.8,1990.2 2274.4,1987.7 2275.0,1990.7 2275.6,1990.1 2276.2,1990.0 2276.8,1990.7 2277.4,1992.0 2278.0,1989.0 2278.6,1986.8 2279.2,1989.0 2279.8,1991.8 2280.4,1990.1 2281.0,1990.3 2281.6,1989.0 2282.2,1990.0 2282.8,1990.3 2283.4,1990.9 2284.0,1989.8 2284.6,1990.5 2285.2,1989.9 2285.8,1989.8 2286.4,1990.1 2287.0,1990.2 2287.6,1990.5 2288.2,1990.2 2288.8,1991.5 2289.4,1992.3 2290.0,1990.4 2290.6,1989.6 2291.2,1990.6 2291.8,1991.0 2292.4,1990.2 2293.0,1991.2 2293.6,1991.2 2294.2,1990.6 2294.8,1990.1 2295.4,1990.3 2296.0,1989.0 2296.6,1990.6 2297.2,1991.6 2297.8,1991.2 2298.4,1990.9 2299.0,1990.5 2299.6,1991.4 2300.2,1989.8 2300.8,1989.8 2301.4,1991.0 2302.0,1989.2 2302.6,1990.4 2303.2,1991.1 2303.8,1990.8 2304.4,1990.9 2305.0,1989.3 2305.6,1990.8 2306.2,1989.1 2306.8,1989.8 2307.4,1990.2 2308.0,1989.7 2308.6,1990.4 2309.2,1990.5 2309.8,1991.3 2310.4,1989.2 2311.0,1987.7 2311.6,1990.9 2312.2,1989.9 2312.8,1988.1 2313.4,1987.8 2314.0,1988.0 2314.6,1989.4 2315.2,1987.9 2315.8,1988.9 2316.4,1989.6 2317.0,1988.0 2317.6,1987.6 2318.2,1986.2 2318.8,1987.8 2318.8,1988.1 2319.0,1986.8 2319.2,1986.4 2319.4,1985.2 2319.4,1986.5 2319.6,1987.2 2319.8,1986.6 2320.0,1983.7 2320.0,1988.3 2320.2,1986.4 2320.4,1984.6 2320.6,1986.0 2320.6,1987.0 2320.8,1986.6 2321.0,1985.2 2321.2,1986.8 2321.2,1985.7 2321.4,1985.8 2321.6,1985.1 2321.8,1984.9 2322.0,1985.4 2322.2,1984.9 2322.4,1985.7 2322.4,1986.4 2322.6,1985.7 2322.8,1985.0 2323.0,1984.7 2323.0,1983.8 2323.2,1985.9 2323.4,1986.6 2323.6,1986.6 2323.6,1985.4 2323.8,1987.6 2324.0,1987.1 2324.2,1985.6 2324.4,1987.4 2324.6,1985.4 2324.8,1986.0 2324.8,1985.4 2325.0,1985.2 2325.2,1986.4 2325.4,1986.4 2325.4,1985.9 2325.6,1987.5 2325.8,1986.1 2326.0,1988.2 2326.0,1985.7 2326.2,1986.3 2326.4,1987.6 2326.6,1987.1 2326.6,1987.6 2326.8,1986.9 2327.2,1986.3 2327.8,1988.1 2328.4,1988.0 2329.0,1987.4 2329.6,1988.9 2330.2,1988.2 2330.8,1990.0 2331.4,1989.7 2332.0,1988.9 2332.6,1988.6 2333.2,1991.0 2333.8,1990.0 2334.4,1988.7 2335.0,1989.7 2335.6,1990.8 2336.2,1989.7 2336.8,1990.6 2337.4,1988.9 2338.0,1990.9 2338.6,1991.2 2339.2,1990.1 2339.8,1990.2 2340.4,1990.2 2341.0,1991.1 2341.6,1989.5 2342.2,1990.4 2342.8,1991.3 2343.4,1987.3 2344.0,1989.7 2344.6,1990.7" fill="none" stroke="#a02030" stroke-width="1.5" stroke-linejoin="round" filter="url(#tr2)" style="mix-blend-mode:multiply"/>
<path d="M256.2,2937.8 256.8,2941.4 257.4,2937.5 258.0,2937.3 258.6,2938.7 259.2,2938.4 259.8,2938.3 260.4,2936.7 261.0,2934.1 261.6,2945.1 262.2,2939.6 262.8,2941.2 263.4,2937.9 264.0,2941.0 264.6,2940.6 265.2,2942.4 265.8,2939.8 266.4,2940.6 267.0,2942.0 267.6,2939.1 268.2,2938.8 268.8,2941.7 269.4,2943.0 270.0,2944.2 270.6,2939.2 271.2,2944.8 271.8,2942.7 272.4,2945.0 273.0,2945.3 273.6,2945.5 274.2,2941.4 274.8,2945.1 275.4,2947.6 276.0,2946.6 276.6,2947.4 277.2,2945.8 277.8,2946.2 278.4,2942.8 279.0,2947.2 279.6,2947.8 280.2,2945.5 280.8,2942.7 281.4,2946.8 282.0,2947.6 282.6,2944.0 283.2,2949.5 283.8,2946.7 284.4,2947.5 285.0,2945.8 285.6,2946.2 286.2,2947.5 286.8,2947.9 287.4,2947.4 288.0,2948.1 288.6,2948.6 289.2,2947.7 289.8,2947.6 290.4,2945.2 291.0,2947.5 291.6,2949.9 292.2,2948.0 292.8,2949.7 293.4,2945.7 294.0,2948.2 294.6,2950.0 295.2,2950.7 295.8,2948.0 296.4,2950.8 297.0,2951.5 297.6,2949.8 298.2,2951.1 298.8,2949.9 299.4,2949.5 300.0,2947.1 300.6,2947.8 301.2,2948.2 301.8,2951.6 302.4,2949.7 303.0,2952.3 303.6,2951.7 304.2,2951.9 304.8,2953.0 305.4,2954.4 306.0,2949.7 306.6,2951.1 307.2,2952.6 307.8,2950.9 308.4,2951.9 309.0,2950.3 309.6,2952.2 310.2,2950.8 310.8,2955.5 311.4,2948.7 312.0,2950.7 312.6,2952.9 313.2,2953.9 313.8,2955.7 314.4,2952.9 315.0,2953.3 315.6,2952.8 316.2,2952.9 316.8,2952.3 317.4,2955.4 318.0,2955.5 318.6,2951.3 319.2,2952.8 319.8,2950.8 320.4,2954.8 321.0,2953.5 321.6,2954.9 322.2,2948.9 322.8,2956.0 323.4,2954.9 324.0,2952.6 324.6,2951.6 325.2,2956.6 325.8,2954.9 326.4,2957.1 327.0,2952.2 327.6,2952.7 328.2,2954.0 328.8,2955.5 329.4,2953.9 330.0,2954.2 330.6,2953.6 331.2,2955.7 331.8,2952.3 332.4,2955.8 333.0,2955.0 333.6,2954.7 334.2,2953.0 334.8,2954.5 335.4,2951.9 336.0,2952.7 336.6,2955.5 337.2,2953.2 337.8,2956.4 338.4,2956.8 339.0,2952.3 339.6,2954.0 340.2,2952.4 340.8,2955.2 341.4,2955.8 342.0,2956.3 342.6,2952.6 343.2,2954.2 343.8,2957.7 344.4,2956.7 345.0,2956.6 345.6,2957.4 346.2,2953.9 346.8,2955.7 347.4,2954.5 348.0,2955.3 348.6,2958.1 349.2,2956.5 349.8,2957.3 350.4,2954.4 351.0,2955.2 351.6,2956.7 352.2,2953.8 352.8,2952.3 353.4,2957.4 354.0,2958.8 354.6,2955.7 355.2,2955.4 355.8,2958.8 356.4,2958.0 357.0,2957.5 357.6,2955.4 358.2,2955.9 358.8,2958.3 359.4,2957.8 360.0,2958.1 360.6,2956.5 361.2,2953.5 361.8,2954.4 362.4,2955.3 363.0,2958.3 363.6,2955.1 364.2,2957.8 364.8,2957.9 365.4,2955.2 366.0,2957.2 366.6,2955.8 367.2,2956.1 367.8,2957.9 368.4,2956.8 369.0,2956.2 369.6,2957.2 370.2,2958.9 370.8,2955.4 371.4,2958.0 372.0,2958.4 372.6,2958.1 373.2,2956.1 373.8,2957.1 374.4,2954.9 375.0,2959.6 375.6,2958.2 376.2,2957.4 376.8,2958.0 377.4,2959.7 378.0,2959.2 378.6,2958.6 379.2,2958.5 379.8,2958.1 380.4,2958.3 381.0,2959.4 381.6,2960.4 382.2,2956.2 382.8,2956.0 383.4,2958.1 384.0,2956.7 384.6,2956.9 385.2,2957.0 385.8,2959.2 386.4,2958.2 387.0,2959.0 387.6,2960.6 388.2,2960.3 388.8,2958.2 389.4,2958.5 390.0,2958.0 390.6,2958.5 391.2,2958.4 391.8,2958.3 392.4,2960.2 393.0,2959.8 393.6,2955.7 394.2,2958.3 394.8,2957.2 395.4,2959.6 396.0,2958.8 396.6,2957.1 397.2,2958.5 397.8,2958.2 398.4,2957.8 399.0,2959.0 399.6,2960.7 400.2,2960.8 400.8,2960.8 401.4,2961.0 402.0,2961.9 402.6,2960.7 403.2,2960.1 403.8,2956.9 404.4,2960.3 405.0,2959.1 405.6,2959.5 406.2,2959.4 406.8,2960.9 407.4,2958.6 408.0,2960.0 408.6,2957.8 409.2,2959.0 409.8,2961.1 410.4,2958.3 411.0,2961.0 411.6,2961.7 412.2,2956.7 412.8,2958.6 413.4,2958.1 414.0,2960.0 414.6,2960.0 415.2,2960.7 415.8,2960.2 416.4,2960.4 417.0,2961.6 417.6,2957.9 418.2,2960.9 418.8,2958.5 419.4,2961.2 420.0,2959.6 420.6,2961.0 421.2,2960.4 421.8,2960.0 422.4,2960.5 423.0,2960.0 423.6,2960.2 424.2,2961.0 424.8,2959.9 425.4,2959.9 426.0,2958.9 426.6,2960.3 427.2,2961.5 427.8,2960.8 428.4,2960.1 429.0,2960.3 429.6,2959.1 430.2,2958.1 430.8,2959.5 431.4,2959.5 432.0,2959.3 432.6,2960.4 433.2,2960.0 433.8,2959.1 434.4,2959.3 435.0,2962.2 435.6,2960.4 436.2,2960.5 436.8,2959.9 437.4,2958.3 438.0,2958.4 438.6,2961.3 439.2,2958.4 439.8,2960.9 440.4,2959.1 441.0,2959.9 441.6,2960.3 442.2,2961.3 442.8,2959.2 443.4,2959.5 444.0,2962.3 444.6,2958.8 445.2,2960.6 445.8,2959.8 446.4,2961.5 447.0,2960.6 447.6,2960.7 448.2,2964.2 448.8,2958.8 449.4,2959.9 450.0,2960.8 450.6,2958.4 451.2,2958.9 451.8,2959.1 452.4,2962.1 453.0,2958.3 453.6,2960.2 454.2,2958.8 454.8,2961.9 455.4,2960.9 456.0,2961.8 456.6,2961.5 457.2,2962.0 457.8,2962.1 458.4,2959.9 459.0,2961.2 459.6,2961.3 460.2,2963.4 460.8,2960.9 461.4,2962.5 462.0,2960.0 462.6,2961.6 463.2,2960.6 463.8,2961.6 464.4,2962.2 465.0,2962.8 465.6,2960.2 466.2,2961.2 466.8,2962.7 467.4,2961.1 468.0,2960.1 468.6,2961.3 469.2,2960.5 469.8,2961.9 470.4,2963.7 471.0,2963.0 471.6,2961.8 472.2,2961.2 472.8,2960.4 473.4,2959.2 474.0,2961.5 474.6,2961.4 475.2,2960.5 475.8,2961.3 476.4,2961.9 477.0,2961.4 477.6,2959.7 478.2,2961.7 478.8,2963.6 479.4,2959.8 480.0,2961.7 480.6,2960.1 481.2,2962.3 481.8,2964.0 482.4,2962.4 483.0,2963.4 483.6,2961.5 484.2,2961.5 484.8,2962.2 485.4,2959.7 486.0,2963.0 486.6,2963.3 487.2,2961.6 487.8,2960.9 488.4,2961.6 489.0,2962.7 489.6,2960.7 490.2,2964.2 490.8,2963.3 491.4,2962.2 492.0,2964.0 492.6,2961.9 493.2,2962.4 493.8,2962.1 494.4,2961.8 495.0,2961.3 495.6,2961.7 496.2,2961.8 496.8,2964.1 497.4,2962.3 498.0,2963.0 498.6,2962.8 499.2,2964.9 499.8,2963.3 500.4,2962.5 501.0,2960.6 501.6,2963.4 502.2,2964.1 502.8,2962.0 503.4,2960.1 504.0,2961.2 504.6,2962.5 505.2,2961.7 505.8,2963.0 506.4,2961.8 507.0,2962.5 507.6,2959.8 508.2,2963.1 508.8,2961.6 509.4,2961.7 510.0,2962.3 510.6,2962.0 511.2,2959.6 511.8,2963.7 512.4,2961.9 513.0,2961.1 513.6,2963.3 514.2,2963.6 514.8,2964.2 515.4,2960.1 516.0,2961.7 516.6,2963.0 517.2,2962.9 517.8,2962.6 518.4,2961.9 519.0,2963.3 519.6,2961.6 520.2,2961.5 520.8,2960.7 521.4,2961.8 522.0,2961.5 522.6,2961.8 523.2,2961.1 523.8,2961.7 524.4,2962.6 525.0,2963.0 525.6,2963.0 526.2,2962.3 526.8,2963.3 527.4,2962.5 528.0,2963.3 528.6,2962.4 529.2,2962.6 529.8,2962.2 530.4,2961.2 531.0,2962.4 531.6,2964.4 532.2,2961.8 532.8,2962.4 533.4,2962.3 534.0,2962.6 534.6,2963.3 535.2,2964.1 535.8,2962.1 536.4,2961.7 537.0,2964.5 537.6,2963.2 538.2,2964.8 538.8,2964.5 539.4,2961.6 540.0,2962.8 540.6,2961.1 541.2,2964.4 541.8,2962.5 542.4,2961.6 543.0,2961.7 543.6,2960.6 544.2,2962.3 544.8,2962.2 545.4,2962.3 546.0,2962.0 546.6,2962.4 547.2,2962.8 547.8,2963.0 548.4,2962.1 549.0,2963.3 549.6,2963.7 550.2,2961.8 550.8,2963.1 551.4,2963.2 552.0,2962.5 552.6,2963.4 553.2,2963.9 553.8,2961.9 554.4,2961.6 555.0,2963.9 555.6,2963.1 556.2,2962.4 556.8,2961.6 557.4,2962.1 558.0,2962.1 558.6,2963.4 559.2,2962.7 559.8,2961.8 560.4,2964.2 561.0,2962.0 561.6,2962.8 562.2,2963.7 562.8,2962.4 563.4,2962.6 564.0,2963.7 564.6,2963.3 565.2,2963.9 565.8,2963.3 566.4,2964.3 567.0,2964.7 567.6,2962.2 568.2,2964.8 568.8,2964.6 569.4,2964.2 570.0,2960.9 570.6,2964.8 571.2,2963.7 571.8,2963.9 572.4,2962.3 573.0,2964.0 573.6,2961.9 574.2,2963.2 574.8,2961.8 575.4,2962.9 576.0,2963.3 576.6,2964.5 577.2,2963.8 577.8,2963.4 578.4,2963.5 579.0,2962.6 579.6,2963.3 580.2,2962.4 580.8,2963.4 581.4,2963.5 582.0,2962.3 582.6,2962.9 583.2,2962.4 583.8,2962.8 584.4,2963.8 585.0,2963.0 585.6,2962.8 586.2,2963.1 586.8,2961.7 587.4,2965.4 588.0,2963.0 588.6,2963.1 589.2,2962.2 589.8,2963.8 590.4,2963.0 591.0,2964.0 591.6,2964.8 592.2,2964.3 592.8,2961.9 593.4,2964.8 594.0,2962.9 594.6,2964.8 595.2,2962.5 595.8,2962.7 596.4,2963.2 597.0,2963.9 597.6,2963.3 598.2,2963.0 598.8,2963.7 599.4,2965.5 600.0,2962.6 600.6,2963.3 601.2,2963.5 601.8,2963.8 602.4,2966.9 603.0,2963.5 603.6,2963.8 604.2,2962.8 604.8,2963.1 605.4,2964.1 606.0,2962.8 606.6,2963.6 607.2,2963.1 607.8,2963.5 608.4,2962.8 609.0,2962.7 609.6,2962.9 610.2,2961.7 610.8,2962.2 611.4,2962.8 612.0,2963.8 612.6,2963.6 613.2,2963.3 613.8,2963.3 614.4,2964.2 615.0,2964.5 615.6,2962.9 616.2,2963.3 616.8,2963.2 617.4,2965.2 618.0,2965.1 618.6,2963.1 619.2,2962.3 619.8,2962.3 620.4,2962.9 621.0,2962.6 621.6,2964.9 622.2,2962.5 622.8,2962.9 623.4,2965.8 624.0,2962.1 624.6,2962.1 625.2,2963.8 625.8,2964.7 626.4,2962.0 627.0,2963.3 627.6,2964.7 628.2,2964.2 628.8,2962.9 629.4,2963.9 630.0,2961.7 630.6,2964.2 631.2,2962.6 631.8,2962.2 632.4,2963.2 633.0,2962.8 633.6,2964.1 634.2,2962.1 634.8,2963.3 635.4,2964.1 636.0,2963.4 636.6,2962.2 637.2,2963.6 637.8,2965.0 638.4,2964.5 639.0,2962.2 639.6,2963.6 640.2,2964.4 640.8,2963.2 641.4,2963.0 642.0,2962.9 642.6,2964.0 643.2,2963.4 643.8,2963.3 644.4,2963.4 645.0,2963.3 645.6,2963.4 646.2,2963.4 646.8,2964.9 647.4,2964.5 648.0,2962.3 648.6,2963.6 649.2,2964.1 649.8,2962.6 650.4,2961.0 651.0,2961.1 651.6,2963.5 652.2,2963.2 652.8,2964.4 653.4,2962.6 654.0,2962.4 654.6,2964.0 655.2,2965.0 655.8,2964.4 656.4,2963.3 657.0,2965.0 657.6,2962.5 658.2,2963.6 658.8,2964.1 659.4,2963.5 660.0,2964.4 660.6,2962.8 661.2,2963.8 661.8,2962.9 662.4,2961.9 663.0,2963.8 663.6,2963.4 664.2,2965.9 664.8,2962.9 665.4,2963.1 666.0,2963.1 666.6,2964.1 667.2,2964.1 667.8,2966.1 668.4,2963.5 669.0,2964.3 669.6,2963.5 670.2,2963.5 670.8,2963.4 671.4,2964.7 672.0,2962.8 672.6,2963.1 673.2,2964.1 673.8,2964.9 674.4,2964.2 675.0,2965.2 675.6,2963.5 676.2,2964.2 676.8,2962.0 677.4,2962.7 678.0,2964.3 678.6,2964.2 679.2,2964.0 679.8,2964.6 680.4,2962.8 681.0,2964.1 681.6,2966.1 682.2,2964.1 682.8,2966.2 683.4,2963.8 684.0,2963.1 684.6,2964.2 685.2,2965.4 685.8,2964.1 686.4,2962.8 687.0,2963.8 687.6,2965.5 688.2,2964.9 688.8,2963.7 689.4,2963.8 690.0,2963.4 690.6,2964.5 691.2,2967.0 691.8,2964.0 692.4,2962.4 693.0,2962.9 693.6,2965.5 694.2,2964.5 694.8,2964.6 695.4,2962.2 696.0,2963.5 696.6,2965.5 697.2,2964.5 697.8,2962.4 698.4,2963.1 699.0,2963.8 699.6,2965.4 700.2,2965.5 700.8,2961.3 701.4,2964.2 702.0,2965.0 702.6,2964.2 703.2,2961.4 703.8,2962.2 704.4,2963.1 705.0,2964.3 705.6,2962.9 706.2,2962.3 706.8,2963.8 707.4,2964.2 708.0,2963.6 708.6,2963.3 709.2,2964.4 709.8,2966.0 710.4,2962.1 711.0,2963.1 711.6,2964.6 712.2,2963.5 712.8,2962.9 713.4,2962.7 714.0,2964.2 714.6,2964.3 715.2,2964.1 715.8,2963.3 716.4,2966.2 717.0,2962.1 717.6,2964.1 718.2,2963.8 718.8,2964.6 719.4,2964.6 720.0,2963.7 720.6,2964.1 721.2,2963.8 721.8,2964.6 722.4,2962.9 723.0,2964.4 723.6,2963.5 724.2,2964.9 724.8,2963.2 725.4,2963.3 726.0,2963.2 726.6,2964.6 727.2,2963.9 727.8,2963.5 728.4,2962.5 729.0,2964.0 729.6,2963.4 730.2,2963.9 730.8,2964.8 731.4,2965.3 732.0,2965.2 732.6,2963.1 733.2,2966.0 733.8,2964.2 734.4,2965.2 735.0,2963.9 735.6,2964.3 736.2,2962.8 736.8,2963.7 737.4,2964.8 738.0,2963.2 738.6,2964.4 739.2,2963.3 739.8,2964.5 740.4,2965.9 741.0,2963.3 741.6,2964.3 742.2,2961.7 742.8,2963.8 743.4,2965.3 744.0,2964.4 744.6,2962.4 745.2,2964.1 745.8,2964.5 746.4,2964.2 747.0,2963.9 747.6,2964.5 748.2,2965.1 748.8,2965.4 749.4,2963.0 750.0,2961.3 750.6,2963.5 751.2,2962.6 751.8,2963.3 752.4,2963.7 753.0,2965.4 753.6,2963.9 754.2,2963.7 754.8,2964.1 755.4,2964.4 756.0,2963.9 756.6,2964.0 757.2,2964.3 757.8,2964.5 758.4,2964.1 759.0,2963.7 759.6,2963.7 760.2,2963.6 760.8,2962.9 761.4,2963.4 762.0,2962.8 762.6,2962.7 763.2,2964.8 763.8,2964.0 764.4,2964.0 765.0,2963.8 765.6,2964.7 766.2,2961.9 766.8,2965.8 767.4,2964.6 768.0,2963.4 768.6,2965.6 769.2,2964.3 769.8,2963.9 770.4,2964.7 771.0,2963.4 771.6,2965.7 772.2,2965.2 772.8,2962.3 773.4,2963.9 774.0,2963.8 774.6,2965.9 775.2,2964.6 775.8,2963.5 776.4,2965.2 777.0,2964.9 777.6,2963.1 778.2,2965.2 778.8,2964.0 779.4,2964.4 780.0,2965.3 780.6,2964.0 781.2,2963.8 781.8,2966.0 782.4,2963.0 783.0,2965.0 783.6,2964.8 784.2,2963.9 784.8,2963.4 785.4,2963.1 786.0,2965.5 786.6,2964.1 787.2,2963.2 787.8,2964.7 788.4,2964.7 789.0,2964.1 789.6,2963.1 790.2,2963.2 790.8,2963.7 791.4,2964.2 792.0,2965.1 792.6,2964.8 793.2,2965.7 793.8,2962.8 794.4,2963.6 795.0,2964.1 795.6,2964.3 796.2,2963.7 796.8,2965.9 797.4,2962.7 798.0,2963.4 798.6,2964.8 799.2,2964.2 799.8,2962.0 800.4,2963.3 801.0,2962.6 801.6,2964.0 802.2,2964.9 802.8,2964.4 803.4,2963.1 804.0,2963.8 804.6,2964.6 805.2,2966.7 805.8,2963.3 806.4,2963.1 807.0,2964.1 807.6,2964.0 808.2,2964.2 808.8,2965.3 809.4,2963.8 810.0,2965.3 810.6,2964.2 811.2,2963.9 811.8,2964.1 812.4,2965.2 813.0,2965.0 813.6,2963.8 814.2,2965.4 814.8,2965.1 815.4,2963.6 816.0,2964.6 816.6,2963.7 817.2,2964.2 817.8,2964.0 818.4,2964.4 819.0,2965.2 819.6,2965.5 820.2,2963.5 820.8,2963.7 821.4,2964.9 822.0,2962.4 822.6,2963.8 823.2,2964.0 823.8,2963.5 824.4,2964.9 825.0,2964.7 825.6,2964.7 826.2,2964.2 826.8,2963.2 827.4,2963.5 828.0,2965.0 828.6,2963.1 829.2,2961.3 829.8,2964.9 830.4,2962.6 831.0,2965.4 831.6,2964.6 832.2,2964.0 832.8,2966.3 833.4,2964.3 834.0,2963.8 834.6,2963.0 835.2,2963.7 835.8,2963.7 836.4,2966.2 837.0,2964.2 837.6,2964.4 838.2,2961.8 838.8,2962.9 839.4,2964.9 840.0,2962.9 840.6,2965.2 841.2,2963.6 841.8,2965.1 842.4,2962.8 843.0,2963.6 843.6,2962.9 844.2,2963.4 844.8,2964.2 845.4,2964.8 846.0,2964.4 846.6,2964.1 847.2,2963.6 847.8,2963.6 848.4,2964.1 849.0,2963.5 849.6,2965.0 850.2,2963.9 850.8,2965.6 851.4,2963.9 852.0,2964.3 852.6,2962.7 853.2,2964.6 853.8,2964.7 854.4,2965.7 855.0,2963.4 855.6,2965.5 856.2,2962.8 856.8,2965.4 857.4,2964.9 858.0,2966.2 858.6,2964.2 859.2,2963.7 859.8,2962.5 860.4,2963.4 861.0,2964.1 861.6,2964.8 862.2,2964.4 862.8,2962.0 863.4,2962.3 864.0,2963.4 864.6,2965.4 865.2,2963.9 865.8,2963.4 866.4,2965.2 867.0,2963.6 867.6,2963.6 868.2,2964.2 868.8,2964.8 869.4,2962.9 870.0,2964.7 870.6,2963.6 871.2,2963.3 871.8,2964.8 872.4,2963.6 873.0,2962.8 873.6,2963.5 874.2,2964.4 874.8,2963.8 875.4,2964.3 876.0,2964.7 876.6,2964.1 877.2,2964.4 877.8,2964.7 878.4,2964.9 879.0,2965.5 879.6,2963.7 880.2,2964.7 880.8,2963.2 881.4,2964.2 882.0,2964.0 882.6,2964.4 883.2,2963.1 883.8,2965.5 884.4,2964.2 885.0,2963.8 885.6,2965.0 886.2,2964.6 886.8,2964.4 887.4,2961.8 888.0,2962.7 888.6,2963.4 889.2,2961.9 889.8,2962.1 890.4,2963.3 891.0,2964.0 891.6,2965.4 892.2,2965.2 892.8,2964.5 893.4,2964.4 894.0,2963.5 894.6,2965.1 895.2,2963.2 895.8,2964.8 896.4,2964.1 897.0,2965.2 897.6,2963.9 898.2,2965.9 898.8,2964.2 899.4,2963.4 900.0,2965.8 900.6,2964.4 901.2,2965.1 901.8,2964.5 902.4,2964.8 903.0,2963.4 903.6,2962.3 904.2,2963.6 904.8,2964.2 905.4,2967.5 906.0,2965.0 906.6,2963.8 907.2,2964.8 907.8,2963.4 908.4,2963.7 909.0,2964.0 909.6,2964.0 910.2,2963.5 910.8,2963.3 911.4,2964.6 912.0,2963.7 912.6,2965.5 913.2,2963.4 913.8,2962.7 914.4,2963.2 915.0,2963.8 915.6,2963.5 916.2,2963.3 916.8,2964.1 917.4,2961.5 918.0,2963.6 918.6,2963.6 919.2,2964.3 919.8,2963.1 920.4,2963.9 921.0,2963.0 921.6,2963.2 922.2,2965.1 922.8,2963.6 923.4,2962.9 924.0,2962.7 924.6,2963.5 925.2,2965.1 925.8,2964.4 926.4,2961.7 927.0,2962.9 927.6,2962.4 928.2,2965.9 928.8,2963.4 929.4,2962.9 930.0,2963.2 930.6,2962.5 931.2,2962.1 931.8,2962.5 932.4,2964.1 933.0,2964.6 933.6,2963.2 934.2,2964.5 934.8,2962.8 935.4,2961.2 936.0,2963.4 936.6,2961.7 937.2,2961.8 937.8,2962.7 938.4,2962.2 939.0,2963.0 939.6,2961.8 940.2,2960.9 940.8,2962.0 941.4,2961.1 942.0,2961.0 942.6,2959.3 943.2,2958.2 943.8,2959.3 944.4,2958.5 945.0,2955.3 945.6,2953.3 946.2,2949.2 946.8,2943.3 947.4,2937.0 948.0,2927.0 948.6,2916.8 949.2,2900.2 949.8,2881.4 950.4,2858.9 951.0,2834.4 951.2,2826.0 951.4,2818.4 951.6,2807.6 951.6,2807.3 951.8,2799.2 952.0,2789.6 952.2,2781.2 952.2,2781.6 952.4,2772.3 952.6,2764.3 952.8,2755.0 952.8,2756.4 953.0,2746.0 953.2,2736.9 953.4,2729.2 953.4,2729.9 953.6,2720.0 953.8,2705.0 954.0,2673.4 954.0,2671.9 954.2,2615.6 954.4,2522.3 954.6,2388.5 954.6,2386.7 954.8,2238.8 955.0,2117.9 955.2,2068.5 955.2,2071.1 955.4,2116.5 955.6,2237.0 955.8,2385.9 955.8,2388.3 956.0,2520.8 956.2,2614.9 956.4,2675.0 956.4,2674.1 956.6,2703.7 956.8,2720.0 957.0,2730.2 957.0,2729.0 957.2,2738.3 957.4,2746.6 957.6,2755.9 957.6,2754.0 957.8,2762.3 958.0,2772.5 958.2,2779.3 958.2,2781.1 958.4,2789.7 958.6,2799.0 958.8,2807.8 958.8,2808.0 959.0,2814.5 959.2,2825.8 959.4,2834.2 960.0,2857.3 960.6,2878.7 961.2,2900.8 961.8,2914.6 962.4,2927.6 963.0,2937.0 963.6,2944.5 964.2,2949.6 964.8,2952.9 965.4,2956.0 966.0,2956.9 966.6,2957.3 967.2,2960.1 967.8,2961.0 968.4,2960.9 969.0,2958.2 969.6,2961.0 970.2,2964.1 970.8,2962.7 971.4,2963.4 972.0,2962.1 972.6,2962.1 973.2,2962.9 973.8,2963.4 974.4,2963.6 975.0,2961.2 975.6,2963.3 976.2,2963.5 976.8,2963.0 977.4,2963.6 978.0,2962.5 978.6,2964.0 979.2,2964.6 979.8,2963.0 980.4,2963.5 981.0,2963.9 981.6,2964.8 982.2,2964.5 982.8,2963.5 983.4,2963.9 984.0,2963.0 984.6,2964.4 985.2,2965.6 985.8,2963.8 986.4,2963.7 987.0,2963.6 987.6,2963.8 988.2,2965.5 988.8,2963.5 989.4,2966.4 990.0,2963.1 990.6,2964.0 991.2,2963.2 991.8,2965.6 992.4,2964.0 993.0,2965.8 993.6,2963.2 994.2,2964.2 994.8,2965.4 995.4,2962.4 996.0,2964.5 996.6,2965.3 997.2,2965.9 997.8,2962.7 998.4,2964.3 999.0,2964.5 999.6,2964.0 1000.2,2964.5 1000.8,2963.3 1001.4,2965.4 1002.0,2964.1 1002.6,2963.5 1003.2,2965.5 1003.8,2964.2 1004.4,2963.1 1005.0,2965.6 1005.6,2963.4 1006.2,2963.9 1006.8,2964.2 1007.4,2964.0 1008.0,2964.1 1008.6,2963.4 1009.2,2963.6 1009.8,2965.6 1010.4,2964.7 1011.0,2965.9 1011.6,2963.9 1012.2,2963.9 1012.8,2964.9 1013.4,2964.5 1014.0,2963.6 1014.6,2963.9 1015.2,2964.2 1015.8,2963.5 1016.4,2966.0 1017.0,2965.0 1017.6,2963.0 1018.2,2965.0 1018.8,2966.2 1019.4,2964.6 1020.0,2964.7 1020.6,2964.2 1021.2,2965.5 1021.8,2964.1 1022.4,2965.4 1023.0,2964.0 1023.6,2964.1 1024.2,2966.6 1024.8,2965.5 1025.4,2964.0 1026.0,2964.3 1026.6,2964.9 1027.2,2965.1 1027.8,2964.4 1028.4,2963.2 1029.0,2963.8 1029.6,2963.6 1030.2,2962.8 1030.8,2965.4 1031.4,2965.7 1032.0,2964.8 1032.6,2964.0 1033.2,2965.8 1033.8,2964.9 1034.4,2964.7 1035.0,2964.0 1035.6,2965.7 1036.2,2961.8 1036.8,2964.1 1037.4,2963.8 1038.0,2964.7 1038.6,2964.1 1039.2,2962.7 1039.8,2965.2 1040.4,2964.9 1041.0,2966.0 1041.6,2965.3 1042.2,2965.3 1042.8,2964.6 1043.4,2964.4 1044.0,2964.8 1044.6,2965.5 1045.2,2965.7 1045.8,2964.7 1046.4,2965.0 1047.0,2965.8 1047.6,2964.2 1048.2,2963.9 1048.8,2964.5 1049.4,2965.0 1050.0,2964.8 1050.6,2965.3 1051.2,2963.9 1051.8,2965.6 1052.4,2963.5 1053.0,2964.5 1053.6,2967.0 1054.2,2962.6 1054.8,2965.4 1055.4,2964.4 1056.0,2965.2 1056.6,2965.6 1057.2,2963.8 1057.8,2964.1 1058.4,2964.3 1059.0,2964.5 1059.6,2964.6 1060.2,2965.2 1060.8,2965.2 1061.4,2965.2 1062.0,2964.3 1062.6,2964.5 1063.2,2964.0 1063.8,2965.1 1064.4,2963.5 1065.0,2963.8 1065.6,2966.0 1066.2,2964.0 1066.8,2961.8 1067.4,2963.6 1068.0,2963.6 1068.6,2963.5 1069.2,2962.3 1069.8,2962.1 1070.4,2961.5 1071.0,2961.1 1071.6,2961.9 1072.2,2960.8 1072.6,2959.5 1072.8,2960.8 1072.8,2959.7 1073.0,2959.1 1073.2,2960.0 1073.4,2958.8 1073.4,2960.4 1073.6,2960.3 1073.8,2960.3 1074.0,2958.1 1074.0,2959.1 1074.2,2957.9 1074.4,2958.9 1074.6,2956.1 1074.6,2957.3 1074.8,2955.3 1075.0,2953.7 1075.2,2951.4 1075.2,2951.9 1075.4,2948.0 1075.6,2945.3 1075.8,2938.1 1075.8,2938.7 1076.0,2933.9 1076.2,2933.6 1076.4,2930.4 1076.4,2931.4 1076.6,2928.4 1076.8,2928.3 1077.0,2928.8 1077.0,2929.1 1077.2,2932.9 1077.4,2933.4 1077.6,2933.0 1077.6,2935.5 1077.8,2936.4 1078.0,2938.8 1078.2,2939.1 1078.2,2939.6 1078.4,2941.2 1078.6,2942.3 1078.8,2945.2 1078.8,2944.5 1079.0,2946.9 1079.2,2948.6 1079.4,2951.4 1079.4,2953.3 1079.6,2953.6 1079.8,2955.7 1080.0,2957.3 1080.0,2955.8 1080.2,2959.3 1080.4,2958.1 1080.6,2958.3 1080.6,2958.2 1081.2,2958.7 1081.8,2960.1 1082.4,2961.3 1083.0,2959.9 1083.6,2961.4 1084.2,2961.7 1084.8,2962.5 1085.4,2962.7 1086.0,2962.2 1086.6,2963.1 1087.2,2963.8 1087.8,2962.8 1088.4,2963.4 1089.0,2964.0 1089.6,2964.3 1090.2,2963.6 1090.8,2965.7 1091.4,2965.2 1092.0,2963.5 1092.6,2964.8 1093.2,2965.0 1093.8,2963.4 1094.4,2963.8 1095.0,2964.5 1095.6,2964.1 1096.2,2964.5 1096.8,2964.8 1097.4,2963.9 1098.0,2963.9 1098.6,2964.8 1099.2,2964.7 1099.8,2966.0 1100.4,2965.4 1101.0,2965.8 1101.6,2963.9 1102.2,2963.7 1102.8,2965.9 1103.4,2964.5 1104.0,2963.7 1104.6,2964.3 1105.2,2966.0 1105.8,2965.4 1106.4,2964.5 1107.0,2964.1 1107.6,2964.5 1108.2,2964.5 1108.8,2964.8 1109.4,2964.2 1110.0,2965.4 1110.6,2964.5 1111.2,2965.3 1111.8,2964.5 1112.4,2967.1 1113.0,2964.5 1113.6,2965.6 1114.2,2964.4 1114.8,2966.6 1115.4,2964.7 1116.0,2965.8 1116.6,2965.1 1117.2,2965.6 1117.8,2966.8 1118.4,2963.6 1119.0,2964.8 1119.6,2965.5 1120.2,2964.4 1120.8,2966.5 1121.4,2965.3 1122.0,2964.1 1122.6,2965.6 1123.2,2964.9 1123.8,2963.9 1124.4,2965.2 1125.0,2965.0 1125.6,2965.2 1126.2,2964.7 1126.8,2964.7 1127.4,2965.5 1128.0,2963.5 1128.6,2965.3 1129.2,2965.8 1129.8,2965.4 1130.4,2964.3 1131.0,2964.9 1131.6,2964.6 1132.2,2967.5 1132.8,2964.9 1133.4,2965.0 1134.0,2966.4 1134.6,2965.8 1135.2,2964.2 1135.8,2963.8 1136.4,2966.1 1137.0,2966.6 1137.6,2965.2 1138.2,2965.0 1138.8,2965.7 1139.4,2966.1 1140.0,2967.2 1140.6,2965.0 1141.2,2965.6 1141.8,2967.0 1142.4,2965.9 1143.0,2965.1 1143.6,2965.7 1144.2,2963.6 1144.8,2965.3 1145.4,2965.3 1146.0,2964.1 1146.6,2964.6 1147.2,2964.3 1147.8,2965.1 1148.4,2966.0 1149.0,2964.3 1149.6,2966.7 1150.2,2965.3 1150.8,2966.0 1151.4,2965.3 1152.0,2965.2 1152.6,2964.6 1153.2,2967.2 1153.8,2964.8 1154.4,2963.9 1155.0,2963.6 1155.6,2965.5 1156.2,2963.8 1156.8,2965.9 1157.4,2965.1 1158.0,2964.7 1158.6,2966.1 1159.2,2965.3 1159.8,2966.3 1160.4,2964.3 1161.0,2965.1 1161.6,2962.7 1162.2,2965.4 1162.8,2965.1 1163.4,2963.3 1164.0,2964.8 1164.6,2964.5 1165.2,2966.4 1165.8,2964.5 1166.4,2966.2 1167.0,2964.9 1167.6,2966.3 1168.2,2964.2 1168.8,2964.8 1169.4,2966.8 1170.0,2966.2 1170.6,2965.0 1171.2,2966.1 1171.8,2965.3 1172.4,2965.6 1173.0,2966.4 1173.6,2965.3 1174.2,2964.7 1174.8,2964.4 1175.4,2965.8 1176.0,2964.7 1176.6,2966.0 1177.2,2965.0 1177.8,2966.5 1178.4,2964.7 1179.0,2965.4 1179.6,2966.3 1180.2,2963.8 1180.8,2963.5 1181.4,2965.9 1182.0,2964.8 1182.6,2964.4 1183.2,2964.7 1183.8,2965.2 1184.4,2965.6 1185.0,2965.4 1185.6,2965.6 1186.2,2963.6 1186.8,2966.4 1187.4,2965.4 1188.0,2964.9 1188.6,2966.1 1189.2,2964.5 1189.8,2965.6 1190.4,2964.1 1191.0,2966.6 1191.6,2962.8 1192.2,2964.3 1192.8,2963.7 1193.4,2964.7 1194.0,2966.1 1194.6,2965.8 1195.2,2966.3 1195.8,2967.1 1196.4,2964.8 1197.0,2965.9 1197.6,2965.2 1198.2,2964.0 1198.8,2966.5 1199.4,2964.7 1200.0,2966.5 1200.6,2965.7 1201.2,2966.0 1201.8,2965.3 1202.4,2966.3 1203.0,2965.0 1203.6,2966.2 1204.2,2965.3 1204.8,2965.3 1205.4,2965.4 1206.0,2964.0 1206.6,2965.1 1207.2,2965.8 1207.8,2966.0 1208.4,2964.3 1209.0,2966.2 1209.6,2965.9 1210.2,2965.2 1210.8,2965.0 1211.4,2965.1 1212.0,2966.5 1212.6,2966.2 1213.2,2967.0 1213.8,2967.2 1214.4,2966.7 1215.0,2965.0 1215.6,2965.7 1216.2,2967.2 1216.8,2965.6 1217.4,2965.5 1218.0,2963.7 1218.6,2964.7 1219.2,2964.9 1219.8,2963.6 1220.4,2964.7 1221.0,2966.3 1221.6,2966.5 1222.2,2963.9 1222.8,2963.4 1223.4,2963.9 1224.0,2963.7 1224.6,2963.1 1225.2,2964.1 1225.8,2965.7 1226.4,2965.5 1227.0,2965.5 1227.6,2965.7 1228.2,2966.0 1228.8,2965.7 1229.4,2963.9 1230.0,2963.1 1230.6,2964.6 1231.2,2966.4 1231.8,2966.1 1232.4,2965.4 1233.0,2965.2 1233.6,2964.9 1234.2,2965.1 1234.8,2963.7 1235.4,2964.7 1236.0,2964.2 1236.6,2964.9 1237.2,2964.5 1237.8,2965.8 1238.4,2965.6 1239.0,2964.0 1239.6,2966.8 1240.2,2966.4 1240.8,2964.1 1241.4,2964.6 1242.0,2966.0 1242.6,2966.3 1243.2,2963.9 1243.8,2965.6 1244.4,2964.0 1245.0,2964.8 1245.6,2965.0 1246.2,2965.3 1246.8,2965.9 1247.4,2966.1 1248.0,2966.0 1248.6,2963.7 1249.2,2964.4 1249.8,2964.1 1250.4,2965.9 1251.0,2965.7 1251.6,2967.1 1252.2,2965.7 1252.8,2965.6 1253.4,2967.3 1254.0,2965.7 1254.6,2967.0 1255.2,2965.4 1255.8,2964.5 1256.4,2965.7 1257.0,2965.8 1257.6,2965.3 1258.2,2965.5 1258.8,2964.3 1259.4,2966.3 1260.0,2965.0 1260.6,2965.7 1261.2,2966.9 1261.8,2965.4 1262.4,2964.8 1263.0,2964.1 1263.6,2966.9 1264.2,2966.2 1264.8,2965.5 1265.4,2968.0 1266.0,2965.9 1266.6,2965.1 1267.2,2963.7 1267.8,2965.2 1268.4,2966.7 1269.0,2965.0 1269.6,2964.7 1270.2,2967.4 1270.8,2965.2 1271.4,2963.8 1272.0,2965.1 1272.6,2965.5 1273.2,2966.4 1273.8,2966.3 1274.4,2963.7 1275.0,2965.6 1275.6,2964.7 1276.2,2964.4 1276.8,2964.7 1277.4,2965.4 1278.0,2965.2 1278.6,2967.0 1279.2,2966.4 1279.8,2965.5 1280.4,2964.4 1281.0,2963.1 1281.6,2965.8 1282.2,2964.1 1282.8,2964.7 1283.4,2965.9 1284.0,2965.7 1284.6,2966.7 1285.2,2964.6 1285.8,2963.8 1286.4,2965.8 1287.0,2965.5 1287.6,2964.8 1288.2,2964.8 1288.8,2966.3 1289.4,2965.0 1290.0,2965.7 1290.6,2964.2 1291.2,2964.8 1291.8,2966.6 1292.4,2965.4 1293.0,2964.6 1293.6,2965.3 1294.2,2966.6 1294.8,2967.2 1295.4,2966.3 1296.0,2966.1 1296.6,2966.2 1297.2,2967.4 1297.8,2965.2 1298.4,2965.3 1299.0,2966.4 1299.6,2964.9 1300.2,2965.3 1300.8,2966.1 1301.4,2965.2 1302.0,2966.2 1302.6,2965.3 1303.2,2967.1 1303.8,2965.9 1304.4,2967.0 1305.0,2965.1 1305.6,2964.3 1306.2,2963.8 1306.8,2965.9 1307.4,2966.9 1308.0,2964.8 1308.6,2965.0 1309.2,2966.6 1309.8,2964.8 1310.4,2965.4 1311.0,2964.5 1311.6,2966.3 1312.2,2966.6 1312.8,2965.9 1313.4,2965.9 1314.0,2965.2 1314.6,2965.7 1315.2,2965.5 1315.8,2964.8 1316.4,2966.1 1317.0,2966.4 1317.6,2964.7 1318.2,2966.5 1318.8,2966.4 1319.4,2966.1 1320.0,2966.1 1320.6,2964.4 1321.2,2967.4 1321.8,2965.2 1322.4,2965.3 1323.0,2966.5 1323.6,2965.4 1324.2,2965.1 1324.8,2964.6 1325.4,2965.4 1326.0,2966.5 1326.6,2964.1 1327.2,2965.5 1327.8,2964.9 1328.4,2965.5 1329.0,2965.5 1329.6,2965.4 1330.2,2967.0 1330.8,2964.8 1331.4,2964.7 1332.0,2965.0 1332.6,2965.6 1333.2,2967.7 1333.8,2966.4 1334.4,2965.7 1335.0,2966.4 1335.6,2965.3 1336.2,2965.1 1336.8,2966.0 1337.4,2967.1 1338.0,2967.3 1338.6,2966.5 1339.2,2964.9 1339.8,2964.4 1340.4,2965.7 1341.0,2965.1 1341.6,2964.8 1342.2,2964.9 1342.8,2966.5 1343.4,2967.4 1344.0,2966.1 1344.6,2966.0 1345.2,2967.2 1345.8,2965.1 1346.4,2964.9 1347.0,2965.9 1347.6,2967.3 1348.2,2964.9 1348.8,2967.5 1349.4,2965.9 1350.0,2964.9 1350.6,2966.0 1351.2,2964.8 1351.8,2965.3 1352.4,2964.8 1353.0,2964.2 1353.6,2964.9 1354.2,2965.8 1354.8,2965.6 1355.4,2966.5 1356.0,2965.7 1356.6,2966.8 1357.2,2965.9 1357.8,2967.2 1358.4,2964.1 1359.0,2965.3 1359.6,2965.5 1360.2,2965.3 1360.8,2966.9 1361.4,2965.7 1362.0,2966.3 1362.6,2965.7 1363.2,2965.0 1363.8,2966.1 1364.4,2966.6 1365.0,2965.7 1365.6,2965.7 1366.2,2965.6 1366.8,2965.7 1367.4,2964.7 1368.0,2965.6 1368.6,2965.4 1369.2,2966.3 1369.8,2966.5 1370.4,2965.5 1371.0,2966.0 1371.6,2967.5 1372.2,2965.4 1372.8,2966.0 1373.4,2965.4 1374.0,2965.5 1374.6,2965.9 1375.2,2966.8 1375.8,2965.9 1376.4,2966.2 1377.0,2965.7 1377.6,2965.3 1378.2,2965.7 1378.8,2966.8 1379.4,2967.2 1380.0,2965.5 1380.6,2967.5 1381.2,2965.4 1381.8,2965.5 1382.4,2966.8 1383.0,2966.5 1383.6,2966.4 1384.2,2966.4 1384.8,2965.8 1385.4,2967.2 1386.0,2965.5 1386.6,2966.4 1387.2,2966.4 1387.8,2965.3 1388.4,2965.6 1389.0,2967.5 1389.6,2966.5 1390.2,2966.7 1390.8,2964.9 1391.4,2966.1 1392.0,2965.8 1392.6,2965.5 1393.2,2964.7 1393.8,2966.0 1394.4,2965.7 1395.0,2965.0 1395.6,2966.0 1396.2,2964.5 1396.8,2965.1 1397.4,2965.5 1398.0,2964.4 1398.6,2965.6 1399.2,2963.9 1399.8,2965.9 1400.4,2965.4 1401.0,2965.4 1401.6,2966.2 1402.2,2965.9 1402.8,2965.0 1403.4,2967.3 1404.0,2965.7 1404.6,2963.9 1405.2,2966.2 1405.8,2965.4 1406.4,2965.8 1407.0,2964.5 1407.6,2963.2 1408.2,2966.7 1408.8,2966.4 1409.4,2965.3 1410.0,2964.3 1410.6,2967.8 1411.2,2966.2 1411.8,2966.0 1412.4,2965.8 1413.0,2964.4 1413.6,2965.9 1414.2,2965.2 1414.8,2967.1 1415.4,2965.6 1416.0,2966.3 1416.6,2964.3 1417.2,2965.4 1417.8,2966.6 1418.4,2966.0 1419.0,2966.4 1419.6,2966.6 1420.2,2966.0 1420.8,2965.8 1421.4,2967.0 1422.0,2967.3 1422.6,2965.3 1423.2,2965.6 1423.8,2965.8 1424.4,2965.2 1425.0,2966.3 1425.6,2966.1 1426.2,2964.4 1426.8,2966.8 1427.4,2964.4 1428.0,2965.3 1428.6,2965.2 1429.2,2966.0 1429.8,2964.9 1430.4,2965.5 1431.0,2966.7 1431.6,2966.1 1432.2,2966.2 1432.8,2965.4 1433.4,2965.8 1434.0,2965.9 1434.6,2966.8 1435.2,2965.3 1435.8,2966.1 1436.4,2966.3 1437.0,2967.4 1437.6,2965.4 1438.2,2966.1 1438.8,2967.0 1439.4,2965.3 1440.0,2966.3 1440.6,2965.0 1441.2,2966.3 1441.8,2964.4 1442.4,2965.3 1443.0,2967.0 1443.6,2965.4 1444.2,2968.4 1444.8,2966.3 1445.4,2964.8 1446.0,2966.1 1446.6,2965.2 1447.2,2964.5 1447.8,2964.7 1448.4,2963.9 1449.0,2965.7 1449.6,2964.9 1450.2,2964.1 1450.8,2963.5 1451.4,2964.7 1452.0,2964.3 1452.6,2963.8 1453.2,2961.7 1453.8,2959.9 1454.4,2959.4 1455.0,2957.7 1455.6,2955.1 1456.2,2955.5 1456.8,2952.2 1457.4,2950.7 1458.0,2945.5 1458.6,2943.4 1459.2,2939.4 1459.8,2939.5 1460.0,2937.8 1460.2,2936.0 1460.4,2934.1 1460.6,2932.6 1460.8,2931.4 1461.0,2931.4 1461.0,2931.1 1461.2,2929.2 1461.4,2924.6 1461.6,2921.0 1461.6,2921.4 1461.8,2916.7 1462.0,2908.5 1462.2,2897.9 1462.2,2896.0 1462.4,2883.3 1462.6,2867.1 1462.8,2845.9 1462.8,2847.4 1463.0,2821.4 1463.2,2799.7 1463.4,2776.4 1463.4,2777.8 1463.6,2757.8 1463.8,2745.4 1464.0,2740.6 1464.0,2741.2 1464.2,2740.6 1464.4,2751.4 1464.6,2765.8 1464.6,2766.2 1464.8,2782.6 1465.0,2798.4 1465.2,2813.1 1465.2,2812.4 1465.4,2823.8 1465.6,2828.8 1465.8,2831.3 1465.8,2830.9 1466.0,2830.8 1466.2,2829.7 1466.4,2828.6 1466.4,2828.5 1466.6,2829.8 1466.8,2835.6 1467.0,2841.2 1467.0,2842.0 1467.2,2851.0 1467.4,2863.1 1467.6,2876.7 1467.6,2876.8 1467.8,2887.6 1468.0,2899.2 1468.2,2908.5 1468.8,2926.4 1469.4,2933.0 1470.0,2937.7 1470.6,2941.6 1471.2,2944.6 1471.8,2947.4 1472.4,2949.1 1473.0,2953.5 1473.6,2954.7 1474.2,2956.6 1474.8,2957.3 1475.4,2960.1 1476.0,2960.7 1476.6,2961.8 1477.2,2962.4 1477.8,2964.2 1478.4,2962.6 1479.0,2961.6 1479.6,2965.2 1480.2,2963.9 1480.8,2964.8 1481.4,2964.3 1482.0,2965.4 1482.6,2964.6 1483.2,2964.4 1483.8,2964.4 1484.4,2966.8 1485.0,2965.4 1485.6,2964.3 1486.2,2964.4 1486.8,2966.0 1487.4,2966.4 1488.0,2963.9 1488.6,2966.1 1489.2,2965.7 1489.8,2965.2 1490.4,2965.9 1491.0,2966.7 1491.6,2965.4 1492.2,2966.0 1492.8,2966.1 1493.4,2965.4 1494.0,2965.5 1494.6,2964.7 1495.2,2965.0 1495.8,2966.8 1496.4,2965.0 1497.0,2966.3 1497.6,2964.3 1498.2,2967.2 1498.8,2966.2 1499.4,2967.5 1500.0,2964.9 1500.6,2965.9 1501.2,2966.2 1501.8,2967.0 1502.4,2967.1 1503.0,2967.3 1503.6,2967.2 1504.2,2966.2 1504.8,2966.5 1505.4,2964.8 1506.0,2967.3 1506.6,2966.8 1507.2,2966.7 1507.8,2965.5 1508.4,2966.3 1509.0,2967.0 1509.6,2965.6 1510.2,2965.7 1510.8,2967.9 1511.4,2965.2 1512.0,2965.9 1512.6,2966.2 1513.2,2965.9 1513.8,2963.6 1514.4,2965.8 1515.0,2966.5 1515.6,2966.7 1516.2,2967.0 1516.8,2964.7 1517.4,2963.9 1518.0,2965.4 1518.6,2965.7 1519.2,2964.7 1519.8,2966.9 1520.4,2966.2 1521.0,2965.6 1521.6,2966.2 1522.2,2965.6 1522.8,2967.4 1523.4,2968.2 1524.0,2966.2 1524.6,2966.9 1525.2,2965.1 1525.8,2965.7 1526.4,2967.8 1527.0,2965.8 1527.6,2967.0 1528.2,2969.0 1528.8,2964.4 1529.4,2965.5 1530.0,2966.9 1530.6,2966.6 1531.2,2964.8 1531.8,2965.9 1532.4,2963.8 1533.0,2966.2 1533.6,2967.4 1534.2,2966.5 1534.8,2965.2 1535.4,2965.8 1536.0,2966.8 1536.6,2967.2 1537.2,2966.0 1537.8,2965.4 1538.4,2964.5 1539.0,2967.8 1539.6,2967.2 1540.2,2966.2 1540.8,2966.5 1541.4,2966.8 1542.0,2966.0 1542.6,2967.4 1543.2,2968.7 1543.8,2965.2 1544.4,2967.0 1545.0,2967.2 1545.6,2965.7 1546.2,2965.9 1546.8,2967.4 1547.4,2965.4 1548.0,2966.7 1548.6,2966.1 1549.2,2966.3 1549.8,2965.5 1550.4,2965.5 1551.0,2966.4 1551.6,2966.5 1552.2,2964.7 1552.8,2967.2 1553.4,2967.7 1554.0,2966.5 1554.6,2967.4 1555.2,2966.8 1555.8,2965.7 1556.4,2963.7 1557.0,2965.5 1557.6,2967.0 1558.2,2967.0 1558.8,2967.6 1559.4,2966.2 1560.0,2964.8 1560.6,2966.4 1561.2,2967.7 1561.8,2964.6 1562.4,2966.0 1563.0,2966.7 1563.6,2965.3 1564.2,2966.3 1564.8,2966.5 1565.4,2967.2 1566.0,2967.8 1566.6,2967.0 1567.2,2965.1 1567.8,2966.2 1568.4,2966.1 1569.0,2967.9 1569.6,2963.7 1570.2,2966.9 1570.8,2966.3 1571.4,2964.7 1572.0,2966.4 1572.6,2968.6 1573.2,2965.8 1573.8,2967.9 1574.4,2966.6 1575.0,2966.2 1575.6,2965.1 1576.2,2964.9 1576.8,2965.0 1577.4,2966.9 1578.0,2966.8 1578.6,2966.0 1579.2,2966.1 1579.8,2967.0 1580.4,2966.7 1581.0,2967.7 1581.6,2967.0 1582.2,2968.1 1582.8,2966.2 1583.4,2966.9 1584.0,2964.8 1584.6,2966.2 1585.2,2966.3 1585.8,2966.2 1586.4,2965.8 1587.0,2966.5 1587.6,2967.8 1588.2,2967.2 1588.8,2966.8 1589.4,2965.8 1590.0,2965.5 1590.6,2965.4 1591.2,2966.1 1591.8,2966.1 1592.4,2967.3 1593.0,2964.9 1593.6,2967.3 1594.2,2967.2 1594.8,2966.3 1595.4,2966.4 1596.0,2967.0 1596.6,2966.2 1597.2,2965.7 1597.8,2965.9 1598.4,2968.0 1599.0,2966.5 1599.6,2967.7 1600.2,2966.9 1600.8,2965.4 1601.4,2966.2 1602.0,2968.4 1602.6,2967.1 1603.2,2965.1 1603.8,2966.4 1604.4,2967.2 1605.0,2965.8 1605.6,2966.2 1606.2,2966.2 1606.8,2964.4 1607.4,2964.1 1608.0,2966.8 1608.6,2966.8 1609.2,2966.2 1609.8,2967.6 1610.4,2966.4 1611.0,2967.4 1611.6,2967.1 1612.2,2968.0 1612.8,2965.1 1613.4,2967.9 1614.0,2967.9 1614.6,2966.5 1615.2,2967.8 1615.8,2966.7 1616.4,2967.2 1617.0,2967.1 1617.6,2965.8 1618.2,2965.0 1618.8,2966.6 1619.4,2967.1 1620.0,2966.4 1620.6,2966.7 1621.2,2967.0 1621.8,2967.4 1622.4,2966.8 1623.0,2967.2 1623.6,2966.7 1624.2,2967.0 1624.8,2965.5 1625.4,2966.4 1626.0,2966.6 1626.6,2964.7 1627.2,2964.5 1627.8,2966.5 1628.4,2966.8 1629.0,2967.5 1629.6,2966.2 1630.2,2967.0 1630.8,2965.8 1631.4,2965.5 1632.0,2967.2 1632.6,2965.9 1633.2,2966.2 1633.8,2969.4 1634.4,2967.5 1635.0,2966.4 1635.6,2967.0 1636.2,2966.9 1636.8,2966.3 1637.4,2967.2 1638.0,2965.6 1638.6,2966.4 1639.2,2966.5 1639.8,2967.8 1640.4,2965.6 1641.0,2965.5 1641.6,2966.8 1642.2,2966.2 1642.8,2967.0 1643.4,2967.0 1644.0,2966.0 1644.6,2967.0 1645.2,2966.6 1645.8,2966.1 1646.4,2967.5 1647.0,2965.8 1647.6,2968.1 1648.2,2967.2 1648.8,2965.4 1649.4,2965.6 1650.0,2966.5 1650.6,2966.6 1651.2,2966.3 1651.8,2967.0 1652.4,2966.4 1653.0,2965.6 1653.6,2966.1 1654.2,2967.4 1654.8,2967.3 1655.4,2968.1 1656.0,2965.4 1656.6,2965.6 1657.2,2965.7 1657.8,2967.3 1658.4,2964.8 1659.0,2968.3 1659.6,2965.5 1660.2,2965.7 1660.8,2967.4 1661.4,2966.4 1662.0,2967.7 1662.6,2966.9 1663.2,2967.3 1663.8,2965.9 1664.4,2965.2 1665.0,2964.5 1665.6,2967.9 1666.2,2966.0 1666.8,2966.8 1667.4,2966.2 1668.0,2968.0 1668.6,2968.5 1669.2,2967.8 1669.8,2965.3 1670.4,2967.7 1671.0,2965.7 1671.6,2966.5 1672.2,2965.8 1672.8,2966.9 1673.4,2965.4 1674.0,2966.4 1674.6,2966.5 1675.2,2966.2 1675.8,2966.5 1676.4,2967.6 1677.0,2966.5 1677.6,2966.0 1678.2,2966.3 1678.8,2966.9 1679.4,2966.5 1680.0,2967.3 1680.6,2966.0 1681.2,2966.8 1681.8,2965.9 1682.4,2965.9 1683.0,2965.7 1683.6,2966.0 1684.2,2965.8 1684.8,2967.1 1685.4,2965.1 1686.0,2965.8 1686.6,2965.7 1687.2,2965.7 1687.8,2964.1 1688.4,2966.1 1689.0,2963.8 1689.6,2962.4 1690.2,2964.6 1690.8,2964.7 1691.4,2965.3 1692.0,2962.6 1692.6,2962.2 1693.2,2962.4 1693.8,2961.0 1694.4,2961.0 1695.0,2957.1 1695.6,2957.7 1696.2,2954.9 1696.8,2952.6 1697.4,2950.3 1698.0,2949.3 1698.0,2949.7 1698.2,2948.4 1698.4,2948.7 1698.6,2948.2 1698.6,2948.9 1698.8,2946.7 1699.0,2946.6 1699.2,2944.2 1699.2,2943.6 1699.4,2943.5 1699.6,2940.5 1699.8,2937.4 1699.8,2937.7 1700.0,2931.6 1700.2,2926.7 1700.4,2917.4 1700.4,2918.6 1700.6,2906.2 1700.8,2895.6 1701.0,2882.4 1701.0,2882.0 1701.2,2867.7 1701.4,2854.1 1701.6,2844.5 1701.6,2842.4 1701.8,2836.7 1702.0,2833.1 1702.2,2836.7 1702.2,2835.6 1702.4,2842.6 1702.6,2850.7 1702.8,2863.5 1703.0,2874.6 1703.2,2885.1 1703.4,2893.2 1703.4,2893.1 1703.6,2897.5 1703.8,2899.3 1704.0,2898.1 1704.0,2899.5 1704.2,2897.7 1704.4,2892.0 1704.6,2890.5 1704.6,2889.6 1704.8,2888.3 1705.0,2888.0 1705.2,2891.2 1705.2,2892.2 1705.4,2894.3 1705.6,2899.9 1705.8,2907.2 1705.8,2906.7 1706.0,2914.0 1706.4,2927.9 1707.0,2940.9 1707.6,2947.4 1708.2,2950.9 1708.8,2951.6 1709.4,2953.5 1710.0,2956.0 1710.6,2958.4 1711.2,2958.1 1711.8,2959.2 1712.4,2959.5 1713.0,2962.1 1713.6,2961.8 1714.2,2962.3 1714.8,2964.4 1715.4,2963.2 1716.0,2963.0 1716.6,2965.4 1717.2,2964.5 1717.8,2966.0 1718.4,2965.3 1719.0,2969.2 1719.6,2966.6 1720.2,2964.5 1720.8,2965.2 1721.4,2965.3 1722.0,2962.9 1722.6,2966.4 1723.2,2967.1 1723.8,2969.8 1724.4,2967.3 1725.0,2967.7 1725.6,2964.7 1726.2,2966.6 1726.8,2967.6 1727.4,2966.3 1728.0,2966.0 1728.6,2966.3 1729.2,2965.1 1729.8,2966.4 1730.4,2966.3 1731.0,2965.8 1731.6,2967.2 1732.2,2966.2 1732.8,2966.7 1733.4,2965.4 1734.0,2965.8 1734.6,2968.5 1735.2,2965.6 1735.8,2966.2 1736.4,2966.4 1737.0,2967.7 1737.6,2964.8 1738.2,2967.1 1738.8,2966.2 1739.4,2967.2 1740.0,2965.8 1740.6,2967.1 1741.2,2966.8 1741.8,2965.6 1742.4,2966.6 1743.0,2966.8 1743.6,2965.2 1744.2,2968.1 1744.8,2965.7 1745.4,2965.0 1746.0,2966.6 1746.6,2965.5 1747.2,2967.4 1747.8,2966.5 1748.4,2966.2 1749.0,2967.7 1749.6,2968.5 1750.2,2965.4 1750.8,2968.7 1751.4,2966.0 1752.0,2966.7 1752.6,2966.7 1753.2,2965.3 1753.8,2966.5 1754.4,2966.4 1755.0,2965.8 1755.6,2966.3 1756.2,2967.8 1756.8,2966.2 1757.4,2964.6 1758.0,2967.4 1758.6,2966.4 1759.2,2967.6 1759.8,2968.2 1760.4,2965.6 1761.0,2966.6 1761.6,2966.4 1762.2,2966.4 1762.8,2965.9 1763.4,2965.6 1764.0,2966.0 1764.6,2966.2 1765.2,2968.6 1765.8,2967.4 1766.4,2966.5 1767.0,2966.6 1767.6,2967.2 1768.2,2965.7 1768.8,2965.5 1769.4,2964.2 1770.0,2965.8 1770.6,2964.5 1771.2,2965.6 1771.8,2964.6 1772.4,2966.0 1773.0,2965.7 1773.0,2963.1 1773.2,2966.1 1773.4,2963.8 1773.6,2964.3 1773.6,2964.2 1773.8,2963.8 1774.0,2963.3 1774.2,2963.0 1774.2,2963.9 1774.4,2963.3 1774.6,2963.7 1774.8,2963.0 1774.8,2963.9 1775.0,2963.0 1775.2,2962.5 1775.4,2960.7 1775.4,2959.1 1775.6,2958.4 1775.8,2958.5 1776.0,2957.7 1776.2,2955.7 1776.4,2951.3 1776.6,2952.3 1776.6,2953.7 1776.8,2950.8 1777.0,2951.5 1777.2,2949.4 1777.2,2950.2 1777.4,2951.0 1777.6,2952.4 1777.8,2954.1 1777.8,2954.9 1778.0,2955.6 1778.2,2955.2 1778.4,2956.9 1778.4,2958.0 1778.6,2958.6 1778.8,2959.3 1779.0,2960.6 1779.0,2959.6 1779.2,2959.1 1779.4,2958.5 1779.6,2958.3 1779.6,2956.8 1779.8,2957.1 1780.0,2958.1 1780.2,2958.1 1780.2,2957.7 1780.4,2957.3 1780.6,2956.6 1780.8,2955.6 1780.8,2958.2 1781.0,2959.8 1781.4,2960.5 1782.0,2961.8 1782.6,2962.6 1783.2,2964.2 1783.8,2962.9 1784.4,2964.0 1785.0,2963.3 1785.6,2964.2 1786.2,2964.2 1786.8,2964.5 1787.4,2966.2 1788.0,2968.2 1788.6,2964.6 1789.2,2967.1 1789.8,2966.9 1790.4,2965.4 1791.0,2964.5 1791.6,2965.1 1792.2,2966.6 1792.8,2965.6 1793.4,2967.2 1794.0,2966.9 1794.6,2965.1 1795.2,2967.7 1795.8,2968.3 1796.4,2967.3 1797.0,2965.9 1797.6,2967.4 1798.2,2966.9 1798.8,2966.1 1799.4,2968.4 1800.0,2964.3 1800.6,2967.5 1801.2,2965.0 1801.8,2967.9 1802.4,2966.7 1803.0,2966.1 1803.6,2965.6 1804.2,2965.5 1804.8,2966.4 1805.4,2968.5 1806.0,2966.5 1806.6,2967.0 1807.2,2967.3 1807.8,2965.6 1808.4,2968.0 1809.0,2964.7 1809.6,2966.3 1810.2,2966.9 1810.8,2966.1 1811.4,2965.6 1812.0,2967.0 1812.6,2966.0 1813.2,2966.3 1813.8,2967.2 1814.4,2966.3 1815.0,2967.2 1815.6,2966.2 1816.2,2967.1 1816.8,2965.9 1817.4,2965.7 1818.0,2965.4 1818.6,2966.2 1819.2,2967.6 1819.8,2967.1 1820.4,2967.9 1821.0,2965.4 1821.6,2967.8 1822.2,2965.5 1822.8,2966.0 1823.4,2967.2 1824.0,2967.2 1824.6,2967.2 1825.2,2967.2 1825.8,2967.1 1826.4,2968.3 1827.0,2965.2 1827.6,2966.3 1828.2,2966.3 1828.8,2965.2 1829.4,2966.7 1830.0,2967.0 1830.6,2967.9 1831.2,2967.5 1831.8,2966.3 1832.4,2966.8 1833.0,2967.6 1833.6,2967.3 1834.2,2968.3 1834.8,2968.0 1835.4,2966.1 1836.0,2966.6 1836.6,2967.1 1837.2,2966.8 1837.8,2965.8 1838.4,2966.5 1839.0,2966.3 1839.6,2967.8 1840.2,2966.3 1840.8,2967.8 1841.4,2966.4 1842.0,2967.2 1842.6,2965.8 1843.2,2966.7 1843.8,2968.4 1844.4,2967.0 1845.0,2966.4 1845.6,2966.1 1846.2,2965.8 1846.8,2966.5 1847.4,2965.0 1848.0,2968.0 1848.6,2967.0 1849.2,2968.2 1849.8,2967.5 1850.4,2968.0 1851.0,2967.6 1851.6,2965.9 1852.2,2967.0 1852.8,2965.5 1853.4,2966.5 1854.0,2966.1 1854.6,2965.5 1855.2,2967.3 1855.8,2967.0 1856.4,2965.8 1857.0,2966.6 1857.6,2967.3 1858.2,2964.0 1858.8,2968.5 1859.4,2966.8 1860.0,2966.6 1860.6,2967.1 1861.2,2966.4 1861.8,2966.8 1862.4,2966.6 1863.0,2966.6 1863.6,2967.1 1864.2,2966.4 1864.8,2968.0 1865.4,2966.5 1866.0,2967.8 1866.6,2965.7 1867.2,2965.3 1867.8,2967.4 1868.4,2968.3 1869.0,2968.4 1869.6,2967.3 1870.2,2967.2 1870.8,2966.6 1871.4,2966.1 1872.0,2967.0 1872.6,2967.5 1873.2,2964.2 1873.8,2966.7 1874.4,2966.6 1875.0,2967.5 1875.6,2966.5 1876.2,2966.8 1876.8,2966.2 1877.4,2966.9 1878.0,2968.2 1878.6,2968.1 1879.2,2966.0 1879.8,2966.2 1880.4,2966.8 1881.0,2966.2 1881.6,2965.5 1882.2,2967.7 1882.8,2965.6 1883.4,2965.0 1884.0,2965.5 1884.6,2967.1 1885.2,2966.2 1885.8,2966.9 1886.4,2967.8 1887.0,2967.5 1887.6,2967.2 1888.2,2967.2 1888.8,2966.8 1889.4,2968.1 1890.0,2968.6 1890.6,2967.6 1891.2,2965.8 1891.8,2966.7 1892.4,2966.4 1893.0,2967.3 1893.6,2967.4 1894.2,2966.9 1894.8,2966.6 1895.4,2966.4 1896.0,2964.9 1896.6,2965.6 1897.2,2966.2 1897.8,2968.4 1898.4,2967.1 1899.0,2967.0 1899.6,2967.8 1900.2,2966.6 1900.8,2967.2 1901.4,2967.0 1902.0,2966.6 1902.6,2967.5 1903.2,2966.4 1903.8,2967.3 1904.4,2966.8 1905.0,2966.5 1905.6,2964.6 1906.2,2968.0 1906.8,2965.4 1907.4,2966.7 1908.0,2967.6 1908.6,2967.1 1909.2,2967.5 1909.8,2965.9 1910.4,2966.1 1911.0,2966.1 1911.6,2965.9 1912.2,2967.8 1912.8,2968.5 1913.4,2966.3 1914.0,2967.0 1914.6,2967.6 1915.2,2965.7 1915.8,2964.9 1916.4,2965.5 1917.0,2967.1 1917.6,2964.8 1918.2,2965.2 1918.8,2967.8 1919.4,2966.4 1920.0,2966.8 1920.6,2967.9 1921.2,2966.4 1921.8,2966.4 1922.4,2968.3 1923.0,2969.7 1923.6,2967.8 1924.2,2967.5 1924.8,2967.9 1925.4,2967.3 1926.0,2965.7 1926.6,2966.6 1927.2,2967.7 1927.8,2968.3 1928.4,2967.5 1929.0,2967.6 1929.6,2967.1 1930.2,2966.0 1930.8,2968.3 1931.4,2966.7 1932.0,2965.8 1932.6,2966.5 1933.2,2966.7 1933.8,2967.7 1934.4,2967.3 1935.0,2965.1 1935.6,2966.6 1936.2,2966.4 1936.8,2967.1 1937.4,2968.6 1938.0,2966.8 1938.6,2966.7 1939.2,2967.3 1939.8,2965.5 1940.4,2966.0 1941.0,2968.2 1941.6,2967.0 1942.2,2967.8 1942.8,2967.0 1943.4,2969.4 1944.0,2966.6 1944.6,2966.6 1945.2,2967.8 1945.8,2965.3 1946.4,2966.3 1947.0,2966.8 1947.6,2966.6 1948.2,2967.0 1948.8,2967.4 1949.4,2967.2 1950.0,2966.3 1950.6,2967.7 1951.2,2967.8 1951.8,2965.7 1952.4,2967.4 1953.0,2966.6 1953.6,2967.8 1954.2,2966.9 1954.8,2967.4 1955.4,2967.4 1956.0,2966.9 1956.6,2966.5 1957.2,2967.0 1957.8,2965.5 1958.4,2966.5 1959.0,2967.2 1959.6,2966.7 1960.2,2966.5 1960.8,2966.0 1961.4,2967.4 1962.0,2968.4 1962.6,2968.3 1963.2,2968.6 1963.8,2965.8 1964.4,2968.6 1965.0,2965.6 1965.6,2966.7 1966.2,2966.2 1966.8,2968.4 1967.4,2967.3 1968.0,2965.9 1968.6,2967.6 1969.2,2965.4 1969.8,2966.3 1970.4,2966.9 1971.0,2965.6 1971.6,2967.0 1972.2,2966.6 1972.8,2966.4 1973.4,2968.1 1974.0,2966.5 1974.6,2965.8 1975.2,2965.9 1975.8,2965.4 1976.4,2966.5 1977.0,2967.6 1977.6,2965.2 1978.2,2968.4 1978.8,2966.2 1979.4,2968.9 1980.0,2967.0 1980.6,2964.8 1981.2,2968.3 1981.8,2965.2 1982.4,2967.1 1983.0,2967.5 1983.6,2967.0 1984.2,2967.0 1984.8,2966.3 1985.4,2966.2 1986.0,2966.3 1986.6,2966.5 1987.2,2967.0 1987.8,2965.2 1988.4,2965.8 1989.0,2966.9 1989.6,2966.6 1990.2,2966.4 1990.8,2965.3 1991.4,2966.6 1992.0,2966.6 1992.6,2966.2 1993.2,2966.4 1993.8,2967.5 1994.4,2967.9 1995.0,2966.1 1995.6,2966.4 1996.2,2966.6 1996.8,2967.0 1997.4,2967.5 1998.0,2967.0 1998.6,2967.6 1999.2,2967.6 1999.8,2967.1 2000.4,2966.3 2001.0,2967.4 2001.6,2966.2 2002.2,2966.0 2002.8,2966.7 2003.4,2967.3 2004.0,2966.3 2004.6,2966.2 2005.2,2964.9 2005.8,2966.8 2006.4,2965.9 2007.0,2965.7 2007.6,2965.3 2008.2,2968.4 2008.8,2966.4 2009.4,2967.0 2010.0,2967.3 2010.6,2969.1 2011.2,2967.6 2011.8,2967.2 2012.4,2966.2 2013.0,2967.6 2013.6,2966.4 2014.2,2968.0 2014.8,2966.9 2015.4,2966.4 2016.0,2967.5 2016.6,2967.4 2017.2,2966.7 2017.8,2965.2 2018.4,2966.8 2019.0,2968.0 2019.6,2966.8 2020.2,2966.0 2020.8,2965.3 2021.4,2966.4 2022.0,2966.5 2022.6,2966.5 2023.2,2966.3 2023.8,2966.4 2024.4,2967.1 2025.0,2966.0 2025.6,2967.4 2026.2,2968.5 2026.8,2967.4 2027.4,2967.4 2028.0,2966.4 2028.6,2967.7 2029.2,2969.2 2029.8,2968.0 2030.4,2967.2 2031.0,2967.8 2031.6,2967.8 2032.2,2966.1 2032.8,2967.4 2033.4,2965.9 2034.0,2966.2 2034.6,2966.1 2035.2,2966.9 2035.8,2967.3 2036.4,2965.9 2037.0,2967.2 2037.6,2966.3 2038.2,2966.6 2038.8,2967.3 2039.4,2968.8 2040.0,2966.7 2040.6,2966.2 2041.2,2967.2 2041.8,2965.4 2042.4,2966.8 2043.0,2967.1 2043.6,2965.7 2044.2,2967.4 2044.8,2965.7 2045.4,2964.1 2046.0,2965.3 2046.6,2965.9 2047.2,2964.7 2047.8,2964.2 2048.4,2965.0 2049.0,2964.5 2049.6,2963.8 2050.2,2963.1 2050.7,2964.2 2050.8,2963.7 2050.9,2962.6 2051.1,2963.4 2051.3,2963.7 2051.4,2961.6 2051.5,2964.4 2051.7,2963.4 2051.9,2962.2 2052.0,2961.8 2052.1,2963.4 2052.3,2962.1 2052.5,2961.2 2052.6,2961.9 2052.7,2960.7 2052.9,2960.0 2053.1,2959.5 2053.2,2959.4 2053.3,2957.3 2053.5,2955.3 2053.7,2954.8 2053.8,2953.9 2053.9,2953.4 2054.1,2952.6 2054.3,2949.9 2054.4,2949.1 2054.5,2948.1 2054.7,2949.7 2054.9,2948.2 2055.0,2949.0 2055.1,2950.0 2055.3,2950.3 2055.5,2952.4 2055.6,2951.8 2055.7,2953.9 2055.9,2954.7 2056.1,2954.6 2056.2,2957.2 2056.3,2957.9 2056.5,2958.5 2056.7,2960.0 2056.8,2960.0 2056.9,2959.4 2057.1,2961.2 2057.3,2959.2 2057.4,2960.7 2057.5,2961.0 2057.7,2957.9 2057.9,2959.9 2058.0,2959.0 2058.1,2957.6 2058.3,2957.4 2058.5,2955.6 2058.6,2956.4 2058.7,2956.4 2059.2,2956.0 2059.8,2957.7 2060.4,2959.6 2061.0,2962.6 2061.6,2962.7 2062.2,2963.8 2062.8,2964.8 2063.4,2964.0 2064.0,2966.6 2064.6,2964.9 2065.2,2965.9 2065.8,2966.2 2066.4,2967.2 2067.0,2965.6 2067.6,2964.2 2068.2,2966.1 2068.8,2966.2 2069.4,2967.6 2070.0,2965.2 2070.6,2966.0 2071.2,2966.8 2071.8,2965.6 2072.4,2966.4 2073.0,2967.4 2073.6,2966.3 2074.2,2966.8 2074.8,2965.3 2075.4,2967.1 2076.0,2966.2 2076.6,2967.0 2077.2,2966.6 2077.8,2967.4 2078.4,2967.1 2079.0,2967.9 2079.6,2966.9 2080.2,2966.5 2080.8,2966.3 2081.4,2966.6 2082.0,2965.9 2082.6,2967.6 2083.2,2967.1 2083.8,2967.4 2084.4,2968.2 2085.0,2967.4 2085.6,2968.6 2086.2,2967.1 2086.8,2966.3 2087.4,2966.5 2088.0,2968.4 2088.6,2965.3 2089.2,2966.1 2089.8,2967.6 2090.4,2968.2 2091.0,2966.6 2091.6,2966.7 2092.2,2967.3 2092.8,2967.2 2093.4,2966.8 2094.0,2966.4 2094.6,2965.4 2095.2,2967.7 2095.8,2967.4 2096.4,2966.6 2097.0,2967.0 2097.6,2969.7 2098.2,2966.6 2098.8,2965.3 2099.4,2965.9 2100.0,2965.4 2100.6,2966.6 2101.2,2966.2 2101.8,2968.2 2102.4,2968.1 2103.0,2967.5 2103.6,2969.3 2104.2,2966.6 2104.8,2967.4 2105.4,2966.7 2106.0,2966.7 2106.6,2966.4 2107.2,2966.1 2107.8,2967.3 2108.4,2967.6 2109.0,2967.9 2109.6,2966.7 2110.2,2967.5 2110.8,2968.3 2111.4,2967.2 2112.0,2966.6 2112.6,2966.5 2113.2,2967.8 2113.8,2968.0 2114.4,2967.0 2115.0,2966.9 2115.6,2967.5 2116.2,2966.5 2116.8,2967.6 2117.4,2966.4 2118.0,2965.8 2118.6,2968.1 2119.2,2966.3 2119.8,2966.8 2120.4,2967.8 2121.0,2967.1 2121.6,2966.2 2122.2,2966.0 2122.8,2967.2 2123.4,2967.0 2124.0,2965.2 2124.6,2966.5 2125.2,2966.9 2125.8,2966.5 2126.4,2966.2 2127.0,2967.3 2127.6,2968.0 2128.2,2968.3 2128.8,2966.3 2129.4,2967.7 2130.0,2968.3 2130.6,2968.4 2131.2,2965.6 2131.8,2965.3 2132.4,2966.9 2133.0,2965.9 2133.6,2966.2 2134.2,2968.3 2134.8,2966.2 2135.4,2966.6 2136.0,2966.9 2136.6,2966.9 2137.2,2968.1 2137.8,2965.9 2138.4,2966.3 2139.0,2967.3 2139.6,2967.1 2140.2,2968.1 2140.8,2965.9 2141.4,2966.7 2142.0,2966.4 2142.6,2966.7 2143.2,2966.2 2143.8,2965.8 2144.4,2965.5 2145.0,2966.7 2145.6,2967.5 2146.2,2968.0 2146.8,2966.0 2147.4,2966.5 2148.0,2964.9 2148.6,2966.4 2149.2,2968.1 2149.8,2966.3 2150.4,2967.2 2151.0,2966.2 2151.6,2967.8 2152.2,2966.8 2152.8,2967.0 2153.4,2967.4 2154.0,2968.1 2154.6,2966.5 2155.2,2967.8 2155.8,2968.8 2156.4,2968.0 2157.0,2967.3 2157.6,2966.9 2158.2,2967.3 2158.8,2966.6 2159.4,2966.7 2160.0,2966.8 2160.6,2967.0 2161.2,2966.5 2161.8,2965.5 2162.4,2966.6 2163.0,2966.6 2163.6,2966.8 2164.2,2966.1 2164.8,2967.7 2165.4,2967.5 2166.0,2966.7 2166.6,2968.0 2167.2,2966.2 2167.8,2967.2 2168.4,2967.5 2169.0,2967.7 2169.6,2968.6 2170.2,2967.7 2170.8,2968.6 2171.4,2968.2 2172.0,2968.1 2172.6,2966.9 2173.2,2967.4 2173.8,2966.7 2174.4,2968.2 2175.0,2967.2 2175.6,2967.3 2176.2,2966.8 2176.8,2967.4 2177.4,2966.6 2178.0,2967.5 2178.6,2966.3 2179.2,2965.5 2179.8,2966.1 2180.4,2966.9 2181.0,2966.9 2181.6,2966.4 2182.2,2967.3 2182.8,2967.8 2183.4,2967.3 2184.0,2967.3 2184.6,2967.3 2185.2,2965.5 2185.8,2964.7 2186.4,2966.7 2187.0,2968.2 2187.6,2966.7 2188.2,2967.0 2188.8,2968.1 2189.4,2966.5 2190.0,2967.1 2190.6,2967.9 2191.2,2967.6 2191.8,2965.9 2192.4,2967.7 2193.0,2966.9 2193.6,2967.4 2194.2,2967.8 2194.8,2967.4 2195.4,2966.0 2196.0,2965.2 2196.6,2967.3 2197.2,2967.1 2197.8,2967.0 2198.4,2966.8 2199.0,2966.5 2199.6,2966.2 2200.2,2967.0 2200.8,2968.8 2201.4,2965.5 2202.0,2966.4 2202.6,2967.1 2203.2,2966.7 2203.8,2966.8 2204.4,2966.6 2205.0,2968.7 2205.6,2965.6 2206.2,2967.3 2206.8,2966.0 2207.4,2966.5 2208.0,2967.5 2208.6,2966.8 2209.2,2966.0 2209.8,2966.1 2210.4,2966.5 2211.0,2967.4 2211.6,2966.4 2212.2,2965.6 2212.8,2966.4 2213.4,2968.6 2214.0,2966.5 2214.6,2967.0 2215.2,2965.7 2215.8,2967.5 2216.4,2968.1 2217.0,2967.2 2217.6,2965.4 2218.2,2966.0 2218.8,2966.4 2219.4,2964.7 2220.0,2967.7 2220.6,2967.8 2221.2,2968.2 2221.8,2966.8 2222.4,2967.6 2223.0,2968.2 2223.6,2966.3 2224.2,2966.9 2224.8,2965.6 2225.4,2965.7 2226.0,2967.6 2226.6,2966.6 2227.2,2967.3 2227.8,2968.1 2228.4,2964.4 2229.0,2966.4 2229.6,2967.0 2230.2,2965.4 2230.8,2967.1 2231.4,2966.7 2232.0,2965.6 2232.6,2967.0 2233.2,2966.3 2233.8,2966.4 2234.4,2967.8 2235.0,2966.0 2235.6,2966.4 2236.2,2966.3 2236.8,2965.5 2237.4,2967.5 2238.0,2967.1 2238.6,2967.0 2239.2,2966.5 2239.8,2965.3 2240.4,2964.9 2241.0,2965.3 2241.6,2964.9 2242.2,2963.5 2242.8,2965.5 2243.4,2964.5 2244.0,2961.3 2244.6,2963.4 2245.2,2962.1 2245.8,2961.2 2246.0,2959.6 2246.2,2959.9 2246.4,2961.0 2246.4,2961.8 2246.6,2959.4 2246.8,2960.3 2247.0,2960.8 2247.0,2958.6 2247.2,2960.3 2247.4,2959.4 2247.6,2956.8 2247.6,2958.7 2247.8,2954.7 2248.0,2953.4 2248.2,2954.8 2248.2,2953.0 2248.4,2949.4 2248.6,2946.8 2248.8,2943.3 2248.8,2945.4 2249.0,2939.0 2249.2,2937.5 2249.4,2934.3 2249.4,2934.2 2249.6,2930.4 2249.8,2930.1 2250.0,2929.2 2250.0,2930.3 2250.2,2930.8 2250.4,2930.6 2250.6,2934.4 2250.6,2934.5 2250.8,2935.6 2251.0,2939.9 2251.2,2942.9 2251.2,2942.3 2251.4,2945.9 2251.6,2948.0 2251.8,2950.7 2251.8,2952.0 2252.0,2953.2 2252.2,2954.7 2252.4,2956.2 2252.4,2955.3 2252.6,2956.6 2252.8,2955.9 2253.0,2955.9 2253.0,2956.6 2253.2,2953.9 2253.4,2953.3 2253.6,2952.1 2253.6,2952.3 2253.8,2950.9 2254.0,2950.6 2254.2,2947.5 2254.8,2945.6 2255.4,2945.4 2256.0,2949.2 2256.6,2955.5 2257.2,2959.0 2257.8,2959.1 2258.4,2963.7 2259.0,2964.2 2259.6,2963.1 2260.2,2962.2 2260.8,2964.2 2261.4,2963.4 2262.0,2965.3 2262.6,2965.3 2263.2,2965.2 2263.8,2967.6 2264.4,2967.0 2265.0,2966.7 2265.6,2966.3 2266.2,2965.9 2266.8,2966.7 2267.4,2965.8 2268.0,2967.5 2268.6,2966.0 2269.2,2965.8 2269.8,2966.6 2270.4,2967.6 2271.0,2965.8 2271.6,2965.3 2272.2,2966.4 2272.8,2967.3 2273.4,2966.4 2274.0,2965.7 2274.6,2967.5 2275.2,2968.6 2275.8,2966.7 2276.4,2965.5 2277.0,2967.0 2277.6,2966.8 2278.2,2967.7 2278.8,2968.2 2279.4,2966.3 2280.0,2965.5 2280.6,2966.8 2281.2,2967.6 2281.8,2967.9 2282.4,2965.4 2283.0,2967.7 2283.6,2967.2 2284.2,2966.6 2284.8,2966.1 2285.4,2967.1 2286.0,2968.2 2286.6,2967.5 2287.2,2967.9 2287.8,2967.0 2288.4,2967.7 2289.0,2966.6 2289.6,2968.0 2290.2,2967.1 2290.8,2966.3 2291.4,2966.1 2292.0,2968.7 2292.6,2966.6 2293.2,2967.0 2293.8,2967.0 2294.4,2967.8 2295.0,2968.4 2295.6,2966.9 2296.2,2965.8 2296.8,2968.7 2297.4,2967.2 2298.0,2966.4 2298.6,2966.1 2299.2,2968.6 2299.8,2966.8 2300.4,2968.7 2301.0,2965.6 2301.6,2967.2 2302.2,2966.4 2302.8,2966.9 2303.4,2968.3 2304.0,2965.0 2304.6,2966.4 2305.2,2967.2 2305.8,2968.8 2306.4,2965.4 2307.0,2967.7 2307.6,2966.6 2308.2,2965.6 2308.8,2965.3 2309.4,2966.6 2310.0,2966.0 2310.6,2965.3 2311.2,2965.4 2311.8,2967.7 2312.4,2964.9 2313.0,2965.3 2313.6,2963.9 2314.0,2965.4 2314.2,2964.3 2314.2,2964.2 2314.4,2964.0 2314.6,2965.0 2314.8,2964.4 2314.8,2963.4 2315.0,2961.0 2315.2,2963.6 2315.4,2962.5 2315.4,2963.0 2315.6,2962.0 2315.8,2965.1 2316.0,2965.3 2316.0,2963.2 2316.2,2963.5 2316.4,2963.6 2316.6,2963.2 2316.6,2962.3 2316.8,2960.7 2317.0,2964.7 2317.2,2963.6 2317.2,2962.5 2317.4,2964.0 2317.6,2962.9 2317.8,2963.3 2317.8,2963.4 2318.0,2962.7 2318.2,2963.4 2318.4,2962.4 2318.4,2961.1 2318.6,2963.5 2318.8,2962.4 2319.0,2963.2 2319.0,2963.6 2319.2,2962.3 2319.4,2962.4 2319.6,2963.2 2319.6,2962.3 2319.8,2964.5 2320.0,2963.2 2320.2,2963.1 2320.2,2965.1 2320.4,2961.6 2320.6,2963.8 2320.8,2963.9 2320.8,2962.7 2321.0,2962.8 2321.2,2963.4 2321.4,2963.5 2321.4,2964.3 2321.6,2965.5 2321.8,2965.5 2322.0,2964.4 2322.0,2962.9 2322.6,2965.6 2323.2,2964.0 2323.8,2966.3 2324.4,2965.5 2325.0,2964.5 2325.6,2966.4 2326.2,2968.4 2326.8,2964.9 2327.4,2967.4 2328.0,2964.8 2328.6,2965.3 2329.2,2965.0 2329.8,2966.6 2330.4,2965.1 2331.0,2967.2 2331.6,2965.7 2332.2,2967.2 2332.8,2966.3 2333.4,2966.0 2334.0,2967.4 2334.6,2968.3 2335.2,2966.6 2335.8,2966.7 2336.4,2966.8 2337.0,2966.2 2337.6,2967.6 2338.2,2968.8 2338.8,2968.4 2339.4,2967.5 2340.0,2968.5 2340.6,2967.1 2341.2,2967.0 2341.8,2968.5 2342.4,2966.5 2343.0,2967.8 2343.6,2968.9 2344.2,2966.4 2344.8,2967.3 2345.4,2966.5 2346.0,2966.2 2346.6,2968.4 2347.2,2966.8 2347.8,2965.0 2348.4,2965.7 2349.0,2967.2 2349.6,2966.5 2350.2,2966.3 2350.8,2966.2 2351.4,2967.7" fill="none" stroke="#a02030" stroke-width="1.5" stroke-linejoin="round" filter="url(#tr3)" style="mix-blend-mode:multiply"/>
<g font-family="'Liberation Sans', sans-serif" font-size="49" fill="#5e5e5e" filter="url(#bt)">
<text transform="translate(208.2,193.1) scale(1,1.07)" text-anchor="end">600</text>
<text transform="translate(208.6,456.8) scale(1,1.07)" text-anchor="end">400</text>
<text transform="translate(208.6,721.8) scale(1,1.07)" text-anchor="end">200</text>
<text transform="translate(218.6,977.6) scale(1,1.07)" text-anchor="end">0</text>
<text transform="translate(226.2,1186.4) scale(1,1.07)" text-anchor="end">6000</text>
<text transform="translate(226.2,1461.2) scale(1,1.07)" text-anchor="end">4000</text>
<text transform="translate(229.6,1735.8) scale(1,1.07)" text-anchor="end">2000</text>
<text transform="translate(203.2,2010.2) scale(1,1.07)" text-anchor="end">0</text>
<text transform="translate(228.0,2071.8) scale(1,1.07)" text-anchor="end">6000</text>
<text transform="translate(228.4,2217.0) scale(1,1.07)" text-anchor="end">5000</text>
<text transform="translate(228.4,2380.1) scale(1,1.07)" text-anchor="end">4000</text>
<text transform="translate(228.4,2524.0) scale(1,1.07)" text-anchor="end">3000</text>
<text transform="translate(228.4,2671.7) scale(1,1.07)" text-anchor="end">2000</text>
<text transform="translate(228.4,2827.2) scale(1,1.07)" text-anchor="end">1000</text>
<text transform="translate(205.6,2990.8) scale(1,1.07)" text-anchor="end">0</text>
<text transform="translate(746.5,3033.6) scale(1,1.07)" text-anchor="middle">20</text>
<text transform="translate(1285.5,3034.2) scale(1,1.07)" text-anchor="middle">40</text>
<text transform="translate(1821.2,3033.0) scale(1,1.07)" text-anchor="middle">60</text>
<text transform="translate(2347.5,3029.4) scale(1,1.07)" text-anchor="middle">80</text>
</g>
<g font-family="'Liberation Serif', serif" font-size="57" fill="#0a0a0a" filter="url(#bt)">
<text x="1388" y="117.5" font-size="57.2">sphalerite (starting material)</text>
<text x="1391" y="1106.5" font-size="57.5">sphalerite (no.501 at 500 ˚C, 100 MPa)</text>
<text x="1391" y="2077.5" font-size="57.5">sphalerite (no.801 at 800 ˚C, 100 MPa)</text>
<text transform="translate(1181.5,3112) scale(1,1.04)">2θ (deg)</text>
<text transform="translate(70.8,548.6) rotate(-90) scale(1,1.08)" text-anchor="middle" font-size="57.7">Intensity (cps)</text>
<text transform="translate(68.8,1544.2) rotate(-90) scale(1,0.99)" text-anchor="middle" font-size="57.8">Intensity (cps)</text>
<text transform="translate(69.8,2450.3) rotate(-90) scale(1,0.97)" text-anchor="middle" font-size="57.8">Intensity (cps)</text>
</g>
<g fill="#000" filter="url(#bt)" font-family="'DejaVu Sans', sans-serif" text-anchor="middle">
<text x="961.12" y="100.66" font-size="55.41">●</text>
<text x="1087.12" y="872.06" font-size="55.41">●</text>
<text x="1475.72" y="645.66" font-size="55.41">●</text>
<text x="1713.32" y="756.06" font-size="55.41">●</text>
<text x="2262.72" y="872.46" font-size="55.41">●</text>
<text x="1344.70" y="114.05" font-size="60.69">●</text>
<text x="965.32" y="1073.66" font-size="55.41">●</text>
<text x="1086.12" y="1927.86" font-size="55.41">●</text>
<text x="1476.82" y="1730.86" font-size="55.41">●</text>
<text x="1714.52" y="1843.26" font-size="55.41">●</text>
<text x="1784.72" y="1946.76" font-size="55.41">●</text>
<text x="2068.42" y="1946.76" font-size="55.41">●</text>
<text x="2255.12" y="1919.86" font-size="55.41">●</text>
<text x="1347.69" y="1102.40" font-size="62.01">●</text>
<text x="970.32" y="2047.46" font-size="55.41">●</text>
<text x="1078.72" y="2913.66" font-size="55.41">●</text>
<text x="1465.02" y="2705.66" font-size="55.41">●</text>
<text x="1705.02" y="2818.16" font-size="55.41">●</text>
<text x="1779.72" y="2920.36" font-size="55.41">●</text>
<text x="2062.22" y="2917.66" font-size="55.41">●</text>
<text x="2244.42" y="2907.96" font-size="55.41">●</text>
<text x="1347.19" y="2073.70" font-size="62.01">●</text>
</g>
</svg>
</body>
</html>
